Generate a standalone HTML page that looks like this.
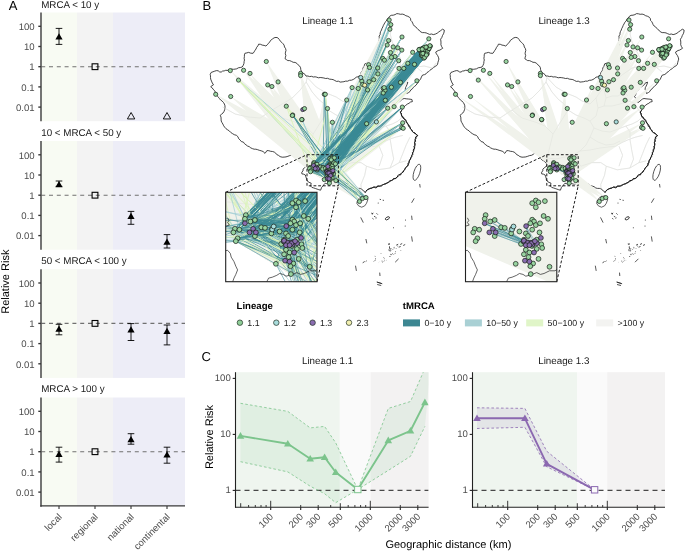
<!DOCTYPE html>
<html><head><meta charset="utf-8"><style>
html,body{margin:0;padding:0;background:#fff;overflow:hidden;}
svg{display:block;font-family:'Liberation Sans',sans-serif;text-rendering:geometricPrecision;will-change:transform;}
</style></head><body>
<svg width="685" height="551" viewBox="0 0 685 551">
<rect width="685" height="551" fill="#fff"/>
<rect x="41.5" y="12.5" width="35.5" height="108.7" fill="#f8fbf3"/>
<rect x="77" y="12.5" width="36" height="108.7" fill="#f3f3f3"/>
<rect x="113" y="12.5" width="36" height="108.7" fill="#ededf7"/>
<rect x="149" y="12.5" width="36" height="108.7" fill="#ededf7"/>
<text x="41.2" y="8.2" font-size="9.8" fill="#1a1a1a">MRCA &lt; 10 y</text>
<line x1="41.5" x2="185" y1="66.70" y2="66.70" stroke="#707070" stroke-width="1.1" stroke-dasharray="4 3.8" stroke-dashoffset="0.3"/>
<line x1="38.3" x2="41" y1="26.30" y2="26.30" stroke="#333" stroke-width="1.35"/>
<text x="34.7" y="30.00" font-size="9.6" fill="#4d4d4d" text-anchor="end">100</text>
<line x1="38.3" x2="41" y1="46.50" y2="46.50" stroke="#333" stroke-width="1.35"/>
<text x="34.7" y="50.20" font-size="9.6" fill="#4d4d4d" text-anchor="end">10</text>
<line x1="38.3" x2="41" y1="66.70" y2="66.70" stroke="#333" stroke-width="1.35"/>
<text x="34.7" y="70.40" font-size="9.6" fill="#4d4d4d" text-anchor="end">1</text>
<line x1="38.3" x2="41" y1="86.90" y2="86.90" stroke="#333" stroke-width="1.35"/>
<text x="34.7" y="90.60" font-size="9.6" fill="#4d4d4d" text-anchor="end">0.1</text>
<line x1="38.3" x2="41" y1="107.10" y2="107.10" stroke="#333" stroke-width="1.35"/>
<text x="34.7" y="110.80" font-size="9.6" fill="#4d4d4d" text-anchor="end">0.01</text>
<line x1="41" x2="41" y1="12.5" y2="121.2" stroke="#3a3a3a" stroke-width="1.4"/>
<rect x="92.1" y="63.80" width="5.8" height="5.8" fill="none" stroke="#000" stroke-width="1.1"/>
<line x1="59" x2="59" y1="28.4" y2="44.4" stroke="#000" stroke-width="0.9"/>
<line x1="55.7" x2="62.3" y1="28.4" y2="28.4" stroke="#000" stroke-width="0.9"/>
<line x1="55.7" x2="62.3" y1="44.4" y2="44.4" stroke="#000" stroke-width="0.9"/>
<polygon points="55.40,39.38 62.60,39.38 59.00,33.14" fill="#000" stroke="none" stroke-width="0"/>
<polygon points="127.40,118.94 134.80,118.94 131.10,112.53" fill="none" stroke="#000" stroke-width="0.9"/>
<polygon points="163.30,118.94 170.70,118.94 167.00,112.53" fill="none" stroke="#000" stroke-width="0.9"/>
<rect x="41.5" y="141.0" width="35.5" height="108.7" fill="#f8fbf3"/>
<rect x="77" y="141.0" width="36" height="108.7" fill="#f3f3f3"/>
<rect x="113" y="141.0" width="36" height="108.7" fill="#ededf7"/>
<rect x="149" y="141.0" width="36" height="108.7" fill="#ededf7"/>
<text x="41.2" y="135.6" font-size="9.8" fill="#1a1a1a">10 &lt; MRCA &lt; 50 y</text>
<line x1="41.5" x2="185" y1="195.20" y2="195.20" stroke="#707070" stroke-width="1.1" stroke-dasharray="4 3.8" stroke-dashoffset="0.3"/>
<line x1="38.3" x2="41" y1="154.80" y2="154.80" stroke="#333" stroke-width="1.35"/>
<text x="34.7" y="158.50" font-size="9.6" fill="#4d4d4d" text-anchor="end">100</text>
<line x1="38.3" x2="41" y1="175.00" y2="175.00" stroke="#333" stroke-width="1.35"/>
<text x="34.7" y="178.70" font-size="9.6" fill="#4d4d4d" text-anchor="end">10</text>
<line x1="38.3" x2="41" y1="195.20" y2="195.20" stroke="#333" stroke-width="1.35"/>
<text x="34.7" y="198.90" font-size="9.6" fill="#4d4d4d" text-anchor="end">1</text>
<line x1="38.3" x2="41" y1="215.40" y2="215.40" stroke="#333" stroke-width="1.35"/>
<text x="34.7" y="219.10" font-size="9.6" fill="#4d4d4d" text-anchor="end">0.1</text>
<line x1="38.3" x2="41" y1="235.60" y2="235.60" stroke="#333" stroke-width="1.35"/>
<text x="34.7" y="239.30" font-size="9.6" fill="#4d4d4d" text-anchor="end">0.01</text>
<line x1="41" x2="41" y1="141.0" y2="249.7" stroke="#3a3a3a" stroke-width="1.4"/>
<rect x="92.1" y="192.30" width="5.8" height="5.8" fill="none" stroke="#000" stroke-width="1.1"/>
<line x1="59" x2="59" y1="181" y2="186.4" stroke="#000" stroke-width="0.9"/>
<line x1="55.7" x2="62.3" y1="181" y2="181" stroke="#000" stroke-width="0.9"/>
<line x1="55.7" x2="62.3" y1="186.4" y2="186.4" stroke="#000" stroke-width="0.9"/>
<polygon points="55.40,187.28 62.60,187.28 59.00,181.04" fill="#000" stroke="none" stroke-width="0"/>
<line x1="131" x2="131" y1="211.4" y2="224.3" stroke="#000" stroke-width="0.9"/>
<line x1="127.7" x2="134.3" y1="211.4" y2="211.4" stroke="#000" stroke-width="0.9"/>
<line x1="127.7" x2="134.3" y1="224.3" y2="224.3" stroke="#000" stroke-width="0.9"/>
<polygon points="127.40,219.08 134.60,219.08 131.00,212.84" fill="#000" stroke="none" stroke-width="0"/>
<line x1="167" x2="167" y1="234.6" y2="248" stroke="#000" stroke-width="0.9"/>
<line x1="163.7" x2="170.3" y1="234.6" y2="234.6" stroke="#000" stroke-width="0.9"/>
<line x1="163.7" x2="170.3" y1="248" y2="248" stroke="#000" stroke-width="0.9"/>
<polygon points="163.40,244.68 170.60,244.68 167.00,238.44" fill="#000" stroke="none" stroke-width="0"/>
<rect x="41.5" y="269.2" width="35.5" height="108.7" fill="#f8fbf3"/>
<rect x="77" y="269.2" width="36" height="108.7" fill="#f3f3f3"/>
<rect x="113" y="269.2" width="36" height="108.7" fill="#ededf7"/>
<rect x="149" y="269.2" width="36" height="108.7" fill="#ededf7"/>
<text x="41.2" y="263.6" font-size="9.8" fill="#1a1a1a">50 &lt; MRCA &lt; 100 y</text>
<line x1="41.5" x2="185" y1="323.40" y2="323.40" stroke="#707070" stroke-width="1.1" stroke-dasharray="4 3.8" stroke-dashoffset="0.3"/>
<line x1="38.3" x2="41" y1="283.00" y2="283.00" stroke="#333" stroke-width="1.35"/>
<text x="34.7" y="286.70" font-size="9.6" fill="#4d4d4d" text-anchor="end">100</text>
<line x1="38.3" x2="41" y1="303.20" y2="303.20" stroke="#333" stroke-width="1.35"/>
<text x="34.7" y="306.90" font-size="9.6" fill="#4d4d4d" text-anchor="end">10</text>
<line x1="38.3" x2="41" y1="323.40" y2="323.40" stroke="#333" stroke-width="1.35"/>
<text x="34.7" y="327.10" font-size="9.6" fill="#4d4d4d" text-anchor="end">1</text>
<line x1="38.3" x2="41" y1="343.60" y2="343.60" stroke="#333" stroke-width="1.35"/>
<text x="34.7" y="347.30" font-size="9.6" fill="#4d4d4d" text-anchor="end">0.1</text>
<line x1="38.3" x2="41" y1="363.80" y2="363.80" stroke="#333" stroke-width="1.35"/>
<text x="34.7" y="367.50" font-size="9.6" fill="#4d4d4d" text-anchor="end">0.01</text>
<line x1="41" x2="41" y1="269.2" y2="377.9" stroke="#3a3a3a" stroke-width="1.4"/>
<rect x="92.1" y="320.50" width="5.8" height="5.8" fill="none" stroke="#000" stroke-width="1.1"/>
<line x1="59" x2="59" y1="324.3" y2="334.8" stroke="#000" stroke-width="0.9"/>
<line x1="55.7" x2="62.3" y1="324.3" y2="324.3" stroke="#000" stroke-width="0.9"/>
<line x1="55.7" x2="62.3" y1="334.8" y2="334.8" stroke="#000" stroke-width="0.9"/>
<polygon points="55.40,331.78 62.60,331.78 59.00,325.54" fill="#000" stroke="none" stroke-width="0"/>
<line x1="131" x2="131" y1="323.6" y2="340.5" stroke="#000" stroke-width="0.9"/>
<line x1="127.7" x2="134.3" y1="323.6" y2="323.6" stroke="#000" stroke-width="0.9"/>
<line x1="127.7" x2="134.3" y1="340.5" y2="340.5" stroke="#000" stroke-width="0.9"/>
<polygon points="127.40,332.58 134.60,332.58 131.00,326.34" fill="#000" stroke="none" stroke-width="0"/>
<line x1="167" x2="167" y1="325" y2="344.9" stroke="#000" stroke-width="0.9"/>
<line x1="163.7" x2="170.3" y1="325" y2="325" stroke="#000" stroke-width="0.9"/>
<line x1="163.7" x2="170.3" y1="344.9" y2="344.9" stroke="#000" stroke-width="0.9"/>
<polygon points="163.40,333.98 170.60,333.98 167.00,327.74" fill="#000" stroke="none" stroke-width="0"/>
<rect x="41.5" y="397.5" width="35.5" height="108.7" fill="#f8fbf3"/>
<rect x="77" y="397.5" width="36" height="108.7" fill="#f3f3f3"/>
<rect x="113" y="397.5" width="36" height="108.7" fill="#ededf7"/>
<rect x="149" y="397.5" width="36" height="108.7" fill="#ededf7"/>
<text x="41.2" y="392.0" font-size="9.8" fill="#1a1a1a">MRCA &gt; 100 y</text>
<line x1="41.5" x2="185" y1="451.70" y2="451.70" stroke="#707070" stroke-width="1.1" stroke-dasharray="4 3.8" stroke-dashoffset="0.3"/>
<line x1="38.3" x2="41" y1="411.30" y2="411.30" stroke="#333" stroke-width="1.35"/>
<text x="34.7" y="415.00" font-size="9.6" fill="#4d4d4d" text-anchor="end">100</text>
<line x1="38.3" x2="41" y1="431.50" y2="431.50" stroke="#333" stroke-width="1.35"/>
<text x="34.7" y="435.20" font-size="9.6" fill="#4d4d4d" text-anchor="end">10</text>
<line x1="38.3" x2="41" y1="451.70" y2="451.70" stroke="#333" stroke-width="1.35"/>
<text x="34.7" y="455.40" font-size="9.6" fill="#4d4d4d" text-anchor="end">1</text>
<line x1="38.3" x2="41" y1="471.90" y2="471.90" stroke="#333" stroke-width="1.35"/>
<text x="34.7" y="475.60" font-size="9.6" fill="#4d4d4d" text-anchor="end">0.1</text>
<line x1="38.3" x2="41" y1="492.10" y2="492.10" stroke="#333" stroke-width="1.35"/>
<text x="34.7" y="495.80" font-size="9.6" fill="#4d4d4d" text-anchor="end">0.01</text>
<line x1="41" x2="41" y1="397.5" y2="506.8" stroke="#3a3a3a" stroke-width="1.4"/>
<rect x="92.1" y="448.80" width="5.8" height="5.8" fill="none" stroke="#000" stroke-width="1.1"/>
<line x1="59" x2="59" y1="447.2" y2="462.1" stroke="#000" stroke-width="0.9"/>
<line x1="55.7" x2="62.3" y1="447.2" y2="447.2" stroke="#000" stroke-width="0.9"/>
<line x1="55.7" x2="62.3" y1="462.1" y2="462.1" stroke="#000" stroke-width="0.9"/>
<polygon points="55.40,456.88 62.60,456.88 59.00,450.64" fill="#000" stroke="none" stroke-width="0"/>
<line x1="131" x2="131" y1="433.7" y2="444.2" stroke="#000" stroke-width="0.9"/>
<line x1="127.7" x2="134.3" y1="433.7" y2="433.7" stroke="#000" stroke-width="0.9"/>
<line x1="127.7" x2="134.3" y1="444.2" y2="444.2" stroke="#000" stroke-width="0.9"/>
<polygon points="127.40,442.28 134.60,442.28 131.00,436.04" fill="#000" stroke="none" stroke-width="0"/>
<line x1="167" x2="167" y1="447.2" y2="463.2" stroke="#000" stroke-width="0.9"/>
<line x1="163.7" x2="170.3" y1="447.2" y2="447.2" stroke="#000" stroke-width="0.9"/>
<line x1="163.7" x2="170.3" y1="463.2" y2="463.2" stroke="#000" stroke-width="0.9"/>
<polygon points="163.40,457.38 170.60,457.38 167.00,451.14" fill="#000" stroke="none" stroke-width="0"/>
<line x1="40.3" x2="185" y1="505.9" y2="505.9" stroke="#3a3a3a" stroke-width="1.4"/>
<line x1="59" x2="59" y1="506" y2="509" stroke="#333" stroke-width="1.1"/>
<line x1="95" x2="95" y1="506" y2="509" stroke="#333" stroke-width="1.1"/>
<line x1="131" x2="131" y1="506" y2="509" stroke="#333" stroke-width="1.1"/>
<line x1="167" x2="167" y1="506" y2="509" stroke="#333" stroke-width="1.1"/>
<text transform="translate(62.5,517.5) rotate(-45)" font-size="9.6" fill="#4d4d4d" text-anchor="end">local</text>
<text transform="translate(98.5,517.5) rotate(-45)" font-size="9.6" fill="#4d4d4d" text-anchor="end">regional</text>
<text transform="translate(134.5,517.5) rotate(-45)" font-size="9.6" fill="#4d4d4d" text-anchor="end">national</text>
<text transform="translate(170.5,517.5) rotate(-45)" font-size="9.6" fill="#4d4d4d" text-anchor="end">continental</text>
<text transform="translate(9.1,281.7) rotate(-90)" font-size="11" fill="#000" text-anchor="middle">Relative Risk</text>
<text x="8.8" y="9.8" font-size="13" fill="#000">A</text>
<rect x="235.5" y="372.2" width="104.30000000000001" height="135.0" fill="#eff5ef"/>
<rect x="339.8" y="372.2" width="30.899999999999977" height="135.0" fill="#fafafa"/>
<rect x="370.7" y="372.2" width="57.900000000000034" height="135.0" fill="#f3f2f2"/>
<clipPath id="clip235"><rect x="235.5" y="372.2" width="193.10000000000002" height="135.0"/></clipPath>
<g clip-path="url(#clip235)">
<polygon points="240.5,403.3 287.8,411.4 310.2,427.9 324.6,426.4 335.7,442.8 357.8,489.5 388.3,408.4 410.5,401.5 432.0,352.0 424.9,426.4 410.5,456.3 388.3,470.4 357.8,489.5 335.7,502.7 324.6,493.7 310.2,486.2 287.8,471.9 240.5,461.7" fill="#6fbf80" fill-opacity="0.11"/>
<line x1="235.5" x2="428.6" y1="490.4" y2="490.4" stroke="#484848" stroke-width="1.2" stroke-dasharray="5 4"/>
<polyline points="240.5,403.3 287.8,411.4 310.2,427.9 324.6,426.4 335.7,442.8 357.8,489.5 388.3,408.4 410.5,401.5 432.0,352.0" fill="none" stroke="#7cc48c" stroke-width="0.8" stroke-dasharray="2.6 2.2"/>
<polyline points="240.5,461.7 287.8,471.9 310.2,486.2 324.6,493.7 335.7,502.7 357.8,489.5 388.3,470.4 410.5,456.3 424.9,426.4" fill="none" stroke="#7cc48c" stroke-width="0.8" stroke-dasharray="2.6 2.2"/>
<polyline points="240.5,435.9 287.8,443.7 310.2,458.7 324.6,457.2 335.7,472.2 357.8,489.5 388.3,440.4 410.5,430.8 424.9,402.4" fill="none" stroke="#7cc48c" stroke-width="1.9" stroke-linejoin="round"/>
<polygon points="236.70,438.69 244.30,438.69 240.50,432.11" fill="#7cc48c" stroke="none" stroke-width="0"/>
<polygon points="284.00,446.49 291.60,446.49 287.80,439.91" fill="#7cc48c" stroke="none" stroke-width="0"/>
<polygon points="306.40,461.49 314.00,461.49 310.20,454.91" fill="#7cc48c" stroke="none" stroke-width="0"/>
<polygon points="320.80,459.99 328.40,459.99 324.60,453.41" fill="#7cc48c" stroke="none" stroke-width="0"/>
<polygon points="331.90,474.99 339.50,474.99 335.70,468.41" fill="#7cc48c" stroke="none" stroke-width="0"/>
<rect x="354.6" y="486.3" width="6.4" height="6.4" fill="#fafafa" stroke="#7cc48c" stroke-width="1"/>
<polygon points="384.50,443.19 392.10,443.19 388.30,436.61" fill="#7cc48c" stroke="none" stroke-width="0"/>
<polygon points="406.70,433.59 414.30,433.59 410.50,427.01" fill="#7cc48c" stroke="none" stroke-width="0"/>
<polygon points="421.10,405.19 428.70,405.19 424.90,398.61" fill="#7cc48c" stroke="none" stroke-width="0"/>
</g>
<line x1="235.5" x2="235.5" y1="372.2" y2="507.7" stroke="#222" stroke-width="1.1"/>
<line x1="235.0" x2="428.6" y1="507.2" y2="507.2" stroke="#222" stroke-width="1.1"/>
<line x1="232.7" x2="235.5" y1="378.4" y2="378.4" stroke="#222" stroke-width="1.1"/>
<text x="230.8" y="381.1" font-size="9.6" fill="#4d4d4d" text-anchor="end">100</text>
<line x1="232.7" x2="235.5" y1="434.4" y2="434.4" stroke="#222" stroke-width="1.1"/>
<text x="230.8" y="437.1" font-size="9.6" fill="#4d4d4d" text-anchor="end">10</text>
<line x1="232.7" x2="235.5" y1="490.4" y2="490.4" stroke="#222" stroke-width="1.1"/>
<text x="230.8" y="493.1" font-size="9.6" fill="#4d4d4d" text-anchor="end">1</text>
<line x1="240.7" x2="240.7" y1="507.2" y2="503.2" stroke="#222" stroke-width="0.9"/>
<line x1="248.6" x2="248.6" y1="507.2" y2="505.0" stroke="#222" stroke-width="0.9"/>
<line x1="255.3" x2="255.3" y1="507.2" y2="505.0" stroke="#222" stroke-width="0.9"/>
<line x1="261.0" x2="261.0" y1="507.2" y2="505.0" stroke="#222" stroke-width="0.9"/>
<line x1="266.1" x2="266.1" y1="507.2" y2="505.0" stroke="#222" stroke-width="0.9"/>
<line x1="300.7" x2="300.7" y1="507.2" y2="505.0" stroke="#222" stroke-width="0.9"/>
<line x1="318.2" x2="318.2" y1="507.2" y2="505.0" stroke="#222" stroke-width="0.9"/>
<line x1="330.7" x2="330.7" y1="507.2" y2="505.0" stroke="#222" stroke-width="0.9"/>
<line x1="340.3" x2="340.3" y1="507.2" y2="503.2" stroke="#222" stroke-width="0.9"/>
<line x1="348.2" x2="348.2" y1="507.2" y2="505.0" stroke="#222" stroke-width="0.9"/>
<line x1="354.9" x2="354.9" y1="507.2" y2="505.0" stroke="#222" stroke-width="0.9"/>
<line x1="360.6" x2="360.6" y1="507.2" y2="505.0" stroke="#222" stroke-width="0.9"/>
<line x1="365.7" x2="365.7" y1="507.2" y2="505.0" stroke="#222" stroke-width="0.9"/>
<line x1="270.7" x2="270.7" y1="507.2" y2="500.8" stroke="#222" stroke-width="0.9"/>
<line x1="370.3" x2="370.3" y1="507.2" y2="500.8" stroke="#222" stroke-width="0.9"/>
<line x1="400.3" x2="400.3" y1="507.2" y2="505.0" stroke="#222" stroke-width="0.9"/>
<line x1="417.8" x2="417.8" y1="507.2" y2="505.0" stroke="#222" stroke-width="0.9"/>
<line x1="270.7" x2="270.7" y1="507.2" y2="510.09999999999997" stroke="#222" stroke-width="1.1"/>
<text transform="translate(273.9,517.2) rotate(-45)" font-size="9.6" fill="#4d4d4d" text-anchor="end">100</text>
<line x1="300.7" x2="300.7" y1="507.2" y2="510.09999999999997" stroke="#222" stroke-width="1.1"/>
<text transform="translate(303.9,517.2) rotate(-45)" font-size="9.6" fill="#4d4d4d" text-anchor="end">200</text>
<line x1="318.2" x2="318.2" y1="507.2" y2="510.09999999999997" stroke="#222" stroke-width="1.1"/>
<text transform="translate(321.4,517.2) rotate(-45)" font-size="9.6" fill="#4d4d4d" text-anchor="end">300</text>
<line x1="340.3" x2="340.3" y1="507.2" y2="510.09999999999997" stroke="#222" stroke-width="1.1"/>
<text transform="translate(343.5,517.2) rotate(-45)" font-size="9.6" fill="#4d4d4d" text-anchor="end">500</text>
<line x1="370.3" x2="370.3" y1="507.2" y2="510.09999999999997" stroke="#222" stroke-width="1.1"/>
<text transform="translate(373.5,517.2) rotate(-45)" font-size="9.6" fill="#4d4d4d" text-anchor="end">1000</text>
<line x1="400.3" x2="400.3" y1="507.2" y2="510.09999999999997" stroke="#222" stroke-width="1.1"/>
<text transform="translate(403.5,517.2) rotate(-45)" font-size="9.6" fill="#4d4d4d" text-anchor="end">2000</text>
<line x1="417.8" x2="417.8" y1="507.2" y2="510.09999999999997" stroke="#222" stroke-width="1.1"/>
<text transform="translate(421.0,517.2) rotate(-45)" font-size="9.6" fill="#4d4d4d" text-anchor="end">3000</text>
<rect x="472.5" y="372.2" width="104.5" height="135.0" fill="#eff5ef"/>
<rect x="577" y="372.2" width="30.200000000000045" height="135.0" fill="#fafafa"/>
<rect x="607.2" y="372.2" width="57.799999999999955" height="135.0" fill="#f3f2f2"/>
<clipPath id="clip472"><rect x="472.5" y="372.2" width="192.5" height="135.0"/></clipPath>
<g clip-path="url(#clip472)">
<polygon points="477.0,407.8 524.9,408.4 546.7,451.2 594.6,489.8 594.6,489.8 546.7,466.8 524.9,427.3 477.0,428.5" fill="#8b68b0" fill-opacity="0.11"/>
<line x1="472.5" x2="665" y1="490.4" y2="490.4" stroke="#484848" stroke-width="1.2" stroke-dasharray="5 4"/>
<polyline points="477.0,407.8 524.9,408.4 546.7,451.2 594.6,489.8" fill="none" stroke="#8b68b0" stroke-width="0.8" stroke-dasharray="2.6 2.2"/>
<polyline points="477.0,428.5 524.9,427.3 546.7,466.8 594.6,489.8" fill="none" stroke="#8b68b0" stroke-width="0.8" stroke-dasharray="2.6 2.2"/>
<polyline points="477.0,418.3 524.9,418.3 546.7,463.8 594.6,489.8" fill="none" stroke="#8b68b0" stroke-width="1.9" stroke-linejoin="round"/>
<polygon points="473.20,421.09 480.80,421.09 477.00,414.51" fill="#8b68b0" stroke="none" stroke-width="0"/>
<polygon points="521.10,421.09 528.70,421.09 524.90,414.51" fill="#8b68b0" stroke="none" stroke-width="0"/>
<polygon points="542.90,466.59 550.50,466.59 546.70,460.01" fill="#8b68b0" stroke="none" stroke-width="0"/>
<rect x="591.4" y="486.6" width="6.4" height="6.4" fill="#fafafa" stroke="#8b68b0" stroke-width="1"/>
</g>
<line x1="472.5" x2="472.5" y1="372.2" y2="507.7" stroke="#222" stroke-width="1.1"/>
<line x1="472.0" x2="665" y1="507.2" y2="507.2" stroke="#222" stroke-width="1.1"/>
<line x1="469.7" x2="472.5" y1="378.4" y2="378.4" stroke="#222" stroke-width="1.1"/>
<text x="467.8" y="381.1" font-size="9.6" fill="#4d4d4d" text-anchor="end">100</text>
<line x1="469.7" x2="472.5" y1="434.4" y2="434.4" stroke="#222" stroke-width="1.1"/>
<text x="467.8" y="437.1" font-size="9.6" fill="#4d4d4d" text-anchor="end">10</text>
<line x1="469.7" x2="472.5" y1="490.4" y2="490.4" stroke="#222" stroke-width="1.1"/>
<text x="467.8" y="493.1" font-size="9.6" fill="#4d4d4d" text-anchor="end">1</text>
<line x1="477.7" x2="477.7" y1="507.2" y2="503.2" stroke="#222" stroke-width="0.9"/>
<line x1="485.6" x2="485.6" y1="507.2" y2="505.0" stroke="#222" stroke-width="0.9"/>
<line x1="492.3" x2="492.3" y1="507.2" y2="505.0" stroke="#222" stroke-width="0.9"/>
<line x1="498.0" x2="498.0" y1="507.2" y2="505.0" stroke="#222" stroke-width="0.9"/>
<line x1="503.1" x2="503.1" y1="507.2" y2="505.0" stroke="#222" stroke-width="0.9"/>
<line x1="537.7" x2="537.7" y1="507.2" y2="505.0" stroke="#222" stroke-width="0.9"/>
<line x1="555.2" x2="555.2" y1="507.2" y2="505.0" stroke="#222" stroke-width="0.9"/>
<line x1="567.7" x2="567.7" y1="507.2" y2="505.0" stroke="#222" stroke-width="0.9"/>
<line x1="577.3" x2="577.3" y1="507.2" y2="503.2" stroke="#222" stroke-width="0.9"/>
<line x1="585.2" x2="585.2" y1="507.2" y2="505.0" stroke="#222" stroke-width="0.9"/>
<line x1="591.9" x2="591.9" y1="507.2" y2="505.0" stroke="#222" stroke-width="0.9"/>
<line x1="597.6" x2="597.6" y1="507.2" y2="505.0" stroke="#222" stroke-width="0.9"/>
<line x1="602.7" x2="602.7" y1="507.2" y2="505.0" stroke="#222" stroke-width="0.9"/>
<line x1="507.7" x2="507.7" y1="507.2" y2="500.8" stroke="#222" stroke-width="0.9"/>
<line x1="607.3" x2="607.3" y1="507.2" y2="500.8" stroke="#222" stroke-width="0.9"/>
<line x1="637.3" x2="637.3" y1="507.2" y2="505.0" stroke="#222" stroke-width="0.9"/>
<line x1="654.8" x2="654.8" y1="507.2" y2="505.0" stroke="#222" stroke-width="0.9"/>
<line x1="507.7" x2="507.7" y1="507.2" y2="510.09999999999997" stroke="#222" stroke-width="1.1"/>
<text transform="translate(510.9,517.2) rotate(-45)" font-size="9.6" fill="#4d4d4d" text-anchor="end">100</text>
<line x1="537.7" x2="537.7" y1="507.2" y2="510.09999999999997" stroke="#222" stroke-width="1.1"/>
<text transform="translate(540.9,517.2) rotate(-45)" font-size="9.6" fill="#4d4d4d" text-anchor="end">200</text>
<line x1="555.2" x2="555.2" y1="507.2" y2="510.09999999999997" stroke="#222" stroke-width="1.1"/>
<text transform="translate(558.4,517.2) rotate(-45)" font-size="9.6" fill="#4d4d4d" text-anchor="end">300</text>
<line x1="577.3" x2="577.3" y1="507.2" y2="510.09999999999997" stroke="#222" stroke-width="1.1"/>
<text transform="translate(580.5,517.2) rotate(-45)" font-size="9.6" fill="#4d4d4d" text-anchor="end">500</text>
<line x1="607.3" x2="607.3" y1="507.2" y2="510.09999999999997" stroke="#222" stroke-width="1.1"/>
<text transform="translate(610.5,517.2) rotate(-45)" font-size="9.6" fill="#4d4d4d" text-anchor="end">1000</text>
<line x1="637.3" x2="637.3" y1="507.2" y2="510.09999999999997" stroke="#222" stroke-width="1.1"/>
<text transform="translate(640.5,517.2) rotate(-45)" font-size="9.6" fill="#4d4d4d" text-anchor="end">2000</text>
<line x1="654.8" x2="654.8" y1="507.2" y2="510.09999999999997" stroke="#222" stroke-width="1.1"/>
<text transform="translate(658.0,517.2) rotate(-45)" font-size="9.6" fill="#4d4d4d" text-anchor="end">3000</text>
<text x="327.6" y="364.2" font-size="9.8" fill="#1a1a1a" text-anchor="middle">Lineage 1.1</text>
<text x="563.8" y="364.2" font-size="9.8" fill="#1a1a1a" text-anchor="middle">Lineage 1.3</text>
<text x="201.5" y="361.4" font-size="13" fill="#000">C</text>
<text transform="translate(213,437) rotate(-90)" font-size="11" fill="#000" text-anchor="middle">Relative Risk</text>
<text x="448.4" y="548" font-size="11" fill="#000" text-anchor="middle">Geographic distance (km)</text>
<text x="202.4" y="10.0" font-size="13" fill="#000">B</text>
<text x="302.2" y="23.8" font-size="9.8" fill="#1a1a1a">Lineage 1.1</text>
<text x="538.4" y="23.8" font-size="9.8" fill="#1a1a1a">Lineage 1.3</text>
<text x="236.6" y="309.4" font-size="9.6" font-weight="bold" fill="#000">Lineage</text>
<circle cx="239.9" cy="322.7" r="2.75" fill="#8fcf98" stroke="#1f2f22" stroke-width="0.7"/>
<text x="247.3" y="325.8" font-size="8.8" fill="#1a1a1a">1.1</text>
<circle cx="276.3" cy="322.7" r="2.75" fill="#a8dcdc" stroke="#1f2f22" stroke-width="0.7"/>
<text x="283.7" y="325.8" font-size="8.8" fill="#1a1a1a">1.2</text>
<circle cx="312.6" cy="322.7" r="2.75" fill="#8a6db0" stroke="#1f2f22" stroke-width="0.7"/>
<text x="320.0" y="325.8" font-size="8.8" fill="#1a1a1a">1.3</text>
<circle cx="349" cy="322.7" r="2.75" fill="#f3f0b0" stroke="#1f2f22" stroke-width="0.7"/>
<text x="356.4" y="325.8" font-size="8.8" fill="#1a1a1a">2.3</text>
<text x="402.8" y="309.4" font-size="9.6" font-weight="bold" fill="#000">tMRCA</text>
<rect x="403" y="319.4" width="17" height="7" fill="#3d8792"/>
<text x="424.4" y="325.8" font-size="8.8" fill="#1a1a1a">0−10 y</text>
<rect x="464.9" y="319.4" width="17" height="7" fill="#a9d0d4"/>
<text x="486.29999999999995" y="325.8" font-size="8.8" fill="#1a1a1a">10−50 y</text>
<rect x="526.2" y="319.4" width="17" height="7" fill="#e0f5c8"/>
<text x="547.6" y="325.8" font-size="8.8" fill="#1a1a1a">50−100 y</text>
<rect x="596.2" y="319.4" width="17" height="7" fill="#f3f3f1"/>
<text x="617.6" y="325.8" font-size="8.8" fill="#1a1a1a">&gt;100 y</text>
<defs><clipPath id="insclip"><rect x="465.5" y="192.3" width="91.3" height="89.4"/></clipPath></defs>
<g transform="translate(-239.8,0)">
<polyline points="615.4,146.3 622.0,142.5 629.9,139.0 636.0,137.0 642.6,135.4" fill="none" stroke="#dcdcdc" stroke-width="0.5"/>
<polyline points="619.0,146.3 622.6,155.3 619.0,166.2" fill="none" stroke="#dcdcdc" stroke-width="0.5"/>
<polyline points="600.8,162.6 606.3,166.2 617.2,169.8 629.9,168.0 639.0,162.6 646.2,160.8" fill="none" stroke="#dcdcdc" stroke-width="0.5"/>
<polyline points="606.3,166.2 604.5,175.3 600.8,184.4 601.0,189.0" fill="none" stroke="#dcdcdc" stroke-width="0.5"/>
<polyline points="629.9,168.0 633.5,159.0 631.7,149.9 629.9,139.0" fill="none" stroke="#dcdcdc" stroke-width="0.5"/>
<polyline points="639.0,162.6 642.6,153.5 646.2,144.4 649.8,137.2" fill="none" stroke="#dcdcdc" stroke-width="0.5"/>
<polyline points="573.0,155.0 580.9,166.2 591.8,162.6 600.8,162.6" fill="none" stroke="#dcdcdc" stroke-width="0.5"/>
<polyline points="580.0,151.0 590.0,150.0 600.0,148.0 608.0,147.0 615.4,146.3" fill="none" stroke="#dcdcdc" stroke-width="0.5"/>
<polyline points="462.5,107.0 475.0,114.0 488.0,117.0 500.0,118.0 512.0,110.0 522.0,104.0 532.0,98.0 540.0,90.0 546.0,82.0 547.0,77.5" fill="none" stroke="#dcdcdc" stroke-width="0.5"/>
<polyline points="512.0,110.0 522.0,118.0 535.0,122.0 545.0,126.0 553.0,134.0" fill="none" stroke="#dcdcdc" stroke-width="0.5"/>
<polyline points="553.0,134.0 551.0,142.0 549.0,150.0 547.0,158.0 546.5,165.0" fill="none" stroke="#dcdcdc" stroke-width="0.5"/>
<polyline points="546.0,82.0 552.0,92.0 558.0,99.0 564.0,104.0 568.0,110.0" fill="none" stroke="#dcdcdc" stroke-width="0.5"/>
<polyline points="553.0,134.0 558.0,126.0 563.0,118.0 568.0,110.0" fill="none" stroke="#dcdcdc" stroke-width="0.5"/>
<polyline points="547.0,77.5 556.0,87.0 566.0,93.0 576.0,97.0 582.0,101.0" fill="none" stroke="#dcdcdc" stroke-width="0.5"/>
<polyline points="568.0,110.0 576.0,115.0 584.0,118.0 590.0,121.0" fill="none" stroke="#dcdcdc" stroke-width="0.5"/>
<polyline points="547.0,158.0 556.0,159.0 565.0,157.0 573.0,155.0 580.0,151.0" fill="none" stroke="#dcdcdc" stroke-width="0.5"/>
<polyline points="580.0,151.0 586.0,145.0 590.0,137.0 594.0,128.0 590.0,121.0" fill="none" stroke="#dcdcdc" stroke-width="0.5"/>
<polyline points="582.0,101.0 590.0,104.0 596.0,98.0 600.0,92.0 606.0,86.0 614.0,82.0 622.0,75.0 632.0,68.0 640.0,66.0 648.0,67.0 656.0,67.0 662.0,72.0" fill="none" stroke="#dcdcdc" stroke-width="0.5"/>
<polyline points="590.0,121.0 596.0,116.0 598.0,108.0 596.0,98.0" fill="none" stroke="#dcdcdc" stroke-width="0.5"/>
<polyline points="598.0,108.0 604.0,106.0 606.0,98.0 604.0,90.0" fill="none" stroke="#dcdcdc" stroke-width="0.5"/>
<polyline points="594.0,128.0 602.0,131.0 610.0,132.0 618.0,129.0 626.0,126.0" fill="none" stroke="#dcdcdc" stroke-width="0.5"/>
<polyline points="590.0,137.0 598.0,142.0 606.0,145.0 614.0,144.0 620.0,141.0" fill="none" stroke="#dcdcdc" stroke-width="0.5"/>
<polyline points="626.0,126.0 632.0,124.0 638.0,121.0 642.0,117.0" fill="none" stroke="#dcdcdc" stroke-width="0.5"/>
<polyline points="604.0,106.0 612.0,106.0 620.0,104.0 628.0,101.0 634.0,103.0 640.0,112.0" fill="none" stroke="#dcdcdc" stroke-width="0.5"/>
<polyline points="626.0,126.0 630.0,132.0 630.0,138.0" fill="none" stroke="#dcdcdc" stroke-width="0.5"/>
<polyline points="640.0,66.0 640.0,58.0 636.0,50.0 632.0,42.0 630.0,34.0 632.0,26.0 629.0,18.0" fill="none" stroke="#dcdcdc" stroke-width="0.5"/>
<polyline points="656.0,67.0 664.0,66.0 672.0,68.0 676.0,63.0" fill="none" stroke="#dcdcdc" stroke-width="0.5"/>
<polyline points="606.0,98.0 612.0,96.0 618.0,96.0 624.0,92.0 628.0,96.0" fill="none" stroke="#dcdcdc" stroke-width="0.5"/>
<polygon points="450.0,74.3 451.0,72.4 452.8,71.8 454.6,71.1 456.4,70.6 458.0,70.8 459.4,71.9 461.0,72.1 462.3,71.1 464.0,70.9 465.5,70.3 467.8,70.4 470.1,69.7 471.6,69.1 473.3,69.3 474.9,69.1 476.5,68.8 478.2,67.8 480.1,67.5 482.0,67.0 483.1,65.2 483.8,63.3 483.9,61.6 484.3,60.0 483.9,58.3 484.2,56.6 484.2,54.9 484.7,53.3 486.6,52.9 488.4,52.4 490.6,53.2 492.9,53.3 493.9,51.9 494.7,50.5 495.8,49.0 496.5,47.3 497.7,45.9 498.4,44.2 500.3,44.3 502.0,45.1 503.9,45.4 505.7,46.0 507.2,44.7 508.4,43.2 509.5,42.0 510.3,40.5 512.1,39.1 513.9,37.8 515.8,37.4 517.6,37.8 519.1,39.5 520.3,41.4 521.7,42.5 522.8,43.7 523.9,45.1 524.3,47.0 525.4,48.6 525.8,50.5 525.3,52.1 525.1,53.8 525.7,55.5 525.2,57.2 524.9,58.8 526.3,59.7 527.6,60.6 529.5,60.6 531.3,61.4 533.0,62.3 534.9,62.4 536.7,63.4 537.9,64.9 539.5,66.1 540.4,67.8 540.6,69.7 541.3,71.5 542.2,72.9 543.7,73.6 545.0,74.6 545.8,76.1 547.7,76.0 549.4,76.6 551.3,76.3 553.1,77.0 554.9,76.8 556.6,77.2 558.2,77.8 560.0,77.5 561.8,77.7 563.7,78.0 565.5,78.5 567.4,78.3 569.2,79.1 571.0,79.3 572.9,79.6 574.6,80.5 576.3,81.4 578.3,81.2 580.0,82.1 581.9,81.9 583.7,81.7 585.5,81.1 587.4,81.2 589.2,80.3 591.2,80.2 593.0,79.5 594.7,78.4 596.0,77.2 597.8,76.8 599.2,75.7 600.5,74.4 600.9,72.5 602.0,71.1 602.7,69.6 602.8,67.9 603.8,66.6 604.7,63.8 606.5,63.2 608.4,62.9 610.0,61.8 611.5,60.6 612.9,59.3 614.3,58.2 615.1,56.6 616.6,55.6 617.1,53.7 618.1,52.0 618.4,50.1 619.4,48.3 620.2,46.5 619.6,44.7 618.9,42.9 618.4,41.0 619.1,39.5 619.1,37.8 618.9,36.1 619.9,34.7 620.0,33.0 620.5,31.4 621.3,30.0 621.8,28.4 622.6,27.0 623.2,25.4 624.0,24.0 624.8,22.3 626.2,21.0 626.9,19.2 628.4,18.1 629.3,16.4 631.0,15.3 633.0,15.2 634.9,14.6 636.6,13.6 638.4,13.8 640.2,14.3 642.1,14.1 643.9,14.6 645.6,15.7 647.6,16.3 649.4,17.3 650.4,18.7 650.5,20.4 651.7,21.6 652.5,23.1 653.1,24.6 654.1,26.0 655.6,26.9 656.7,28.2 657.8,29.5 659.4,30.5 660.4,31.9 662.2,32.6 664.1,32.6 666.0,32.9 667.7,33.7 669.4,34.4 671.3,34.0 673.1,34.6 675.1,34.1 677.0,33.2 678.6,31.9 680.5,30.6 682.3,29.2 684.1,30.1 683.9,32.0 683.3,33.8 682.3,35.5 681.6,37.5 680.4,39.2 680.7,41.0 680.8,42.9 680.7,44.7 681.4,46.5 682.5,48.3 681.1,49.2 679.6,50.1 678.0,50.5 675.5,52.1 676.2,53.9 677.4,55.5 678.2,57.2 678.7,59.1 678.2,60.8 677.7,62.5 677.4,64.2 676.4,65.6 674.9,66.4 673.5,67.4 672.3,68.6 670.8,69.4 669.5,70.5 668.3,71.7 666.8,72.5 665.8,73.9 664.2,74.7 662.4,75.0 661.2,77.0 660.4,79.1 659.2,80.3 658.1,81.6 657.3,83.2 655.8,85.2 654.5,86.3 653.2,87.3 652.2,88.8 650.7,89.8 649.9,91.4 648.5,92.5 646.5,93.5 645.8,91.4 645.1,89.3 645.3,87.7 646.1,86.2 647.0,84.2 647.6,82.2 645.5,82.8 644.3,84.7 642.5,86.0 640.6,87.3 639.0,89.0 637.7,90.9 636.0,92.5 635.7,94.7 634.5,96.5 635.8,98.4 636.5,100.5 637.9,102.6 640.0,101.1 641.2,100.0 642.5,99.0 644.0,98.5 646.0,98.8 648.1,99.0 649.9,99.2 651.7,99.5 652.2,101.6 650.2,102.1 648.8,103.3 647.1,104.1 645.1,105.7 643.0,107.7 641.5,110.3 640.0,112.0 640.9,114.1 641.7,116.3 642.5,117.9 644.0,119.0 645.1,120.4 646.2,121.8 646.8,123.4 648.0,124.5 649.3,125.6 649.8,127.2 650.3,128.8 651.6,130.0 652.3,131.5 653.5,132.6 655.5,134.0 657.5,135.5 655.5,137.0 655.0,139.5 654.4,142.6 654.6,145.5 654.4,148.1 653.8,149.9 653.2,151.7 652.4,153.5 651.7,155.3 651.0,157.1 650.3,159.0 649.3,160.7 648.9,162.6 648.2,164.6 646.8,166.2 645.5,167.9 644.4,169.8 643.2,171.0 642.3,172.4 641.0,173.5 639.6,174.6 638.3,175.8 637.1,177.1 635.8,178.3 634.0,178.7 632.6,179.8 631.1,180.7 629.6,181.6 628.1,182.5 626.5,183.0 625.2,184.1 623.5,184.4 622.0,184.9 620.5,185.7 619.0,186.2 617.3,186.2 615.8,187.1 614.1,186.9 612.6,187.5 610.8,188.0 609.2,188.7 607.5,189.5 605.8,191.0 605.0,192.8 604.5,191.5 603.2,191.0 601.9,189.3 601.0,188.8 599.3,188.4 597.5,188.4 595.8,188.0 594.1,186.7 592.0,186.0 590.2,185.6 588.7,184.3 587.0,183.6 585.5,182.9 584.0,182.3 582.0,182.2 580.0,182.5 578.4,183.1 576.8,183.9 575.0,184.0 573.3,184.1 571.7,183.6 570.0,183.5 568.3,183.7 566.6,183.7 565.0,183.2 563.9,184.4 562.8,185.9 561.5,187.3 560.4,190.2 558.6,189.7 556.9,189.1 555.2,188.5 553.4,187.9 551.7,187.4 550.4,186.1 551.0,183.2 548.1,182.0 546.4,179.7 546.2,178.1 545.5,176.6 545.2,175.0 543.5,174.2 541.7,173.9 541.6,172.2 542.8,170.9 542.8,169.2 544.2,167.9 545.8,166.8 546.9,165.1 546.3,163.3 545.0,162.0 543.7,160.8 542.0,160.0 540.7,158.7 540.0,157.0 538.6,155.6 537.5,154.0 534.9,152.9 533.3,154.3 531.5,155.3 529.5,155.6 527.7,156.3 525.8,156.9 523.9,157.1 522.0,157.2 519.9,156.6 518.2,155.3 516.6,154.6 515.5,153.1 514.1,152.1 512.4,151.5 510.5,151.3 508.6,150.7 506.7,150.6 505.8,152.0 504.8,153.4 502.9,151.5 501.0,150.8 499.1,150.3 497.2,149.6 495.6,149.2 494.0,149.2 492.4,148.7 490.6,147.9 489.1,146.7 487.3,146.0 485.8,144.8 484.3,143.7 483.2,142.1 481.2,141.6 480.0,140.1 478.5,138.7 477.7,136.7 476.2,135.3 474.1,134.7 472.3,133.6 470.5,132.4 469.1,130.9 467.4,129.8 465.7,128.6 464.5,127.2 463.5,125.8 462.7,124.1 461.8,122.6 461.0,121.0 460.9,119.1 460.8,117.1 460.0,115.3 461.4,114.2 462.8,113.0 463.8,111.5 464.5,109.7 464.8,107.8 464.8,105.8 464.2,104.0 463.2,102.4 461.9,101.0 460.4,100.0 459.3,98.6 458.1,97.2 457.0,95.6 456.3,93.8 455.2,92.2 454.3,90.5 452.9,89.3 452.0,87.8 450.5,86.7 451.8,85.7 453.3,84.8 452.1,83.0 451.3,81.1 450.5,79.1 450.3,77.5 450.3,75.9 450.0,74.3" fill="none" stroke="#161616" stroke-width="0.8" stroke-linejoin="miter" stroke-miterlimit="3"/>
<polyline points="641.5,110.3 641.1,111.5 640.0,112.0 641.2,113.2 641.3,114.8 641.7,116.3 643.3,117.2 644.0,119.0 645.7,119.9 646.2,121.8 647.2,123.1 648.0,124.5 648.3,126.3 649.8,127.2 650.2,128.9 651.6,130.0 652.2,131.6 653.5,132.6 654.8,132.9 655.5,134.0 656.5,134.8 657.5,135.5 656.7,136.6 655.5,137.0 655.8,138.4 655.0,139.5 655.4,141.2 654.4,142.6 655.0,144.0 654.6,145.5 653.7,146.7 654.4,148.1 653.4,149.1 653.1,150.3 653.2,151.7 652.2,152.7 652.7,154.3 651.7,155.3 651.6,156.7 650.6,157.7 650.3,159.0 649.4,160.0 648.8,161.2 648.9,162.6 647.6,163.5 648.1,165.4 646.8,166.2 645.8,167.3 644.9,168.4 644.4,169.8 643.5,170.7 643.1,172.0 641.9,172.6 641.0,173.5 640.5,174.9 638.5,174.7 637.6,175.7 637.1,177.1 635.9,177.7 635.0,178.8 633.3,178.5 632.6,179.8 631.4,180.4 630.0,180.6 628.9,181.3 628.1,182.5 626.9,183.0 625.9,183.6 624.6,183.8 623.5,184.4 622.4,185.0 621.5,185.9 620.3,186.1 619.0,186.2 617.6,185.9 616.6,187.5 615.3,187.8 613.8,187.0 612.6,187.5 611.5,188.4 610.0,188.4 608.8,189.0 607.5,189.5 606.8,190.5 605.8,191.0" fill="none" stroke="#111" stroke-width="0.95" stroke-linejoin="miter"/>
<polygon points="597.5,199.8 596.6,203.3 598.4,205.9 601.5,207.2 604.5,205.9 606.3,203.3 607.6,199.8 607.2,196.7 604.5,195.8 601.0,196.3" fill="none" stroke="#222" stroke-width="0.7"/>
<ellipse cx="656.7" cy="172.3" rx="3.0" ry="8.4" transform="rotate(18 656.7 172.3)" fill="none" stroke="#222" stroke-width="0.7"/>
<line x1="600.5" y1="217.4" x2="603.1" y2="222.6" stroke="#222" stroke-width="0.75"/>
<line x1="605.7" y1="239" x2="606.6" y2="243.3" stroke="#222" stroke-width="0.75"/>
<line x1="595.3" y1="265.7" x2="596.2" y2="270.9" stroke="#222" stroke-width="0.75"/>
<line x1="651.4" y1="202.8" x2="654.0" y2="198.4" stroke="#222" stroke-width="0.75"/>
<line x1="651.4" y1="215.7" x2="651.9" y2="220" stroke="#222" stroke-width="0.75"/>
<line x1="651.4" y1="236.4" x2="652.2" y2="241.6" stroke="#222" stroke-width="0.75"/>
<line x1="635.0" y1="262.2" x2="638.4" y2="258.8" stroke="#222" stroke-width="0.75"/>
<line x1="616.9" y1="282.1" x2="622.1" y2="283.8" stroke="#222" stroke-width="0.75"/>
<line x1="659.5" y1="184" x2="660.0" y2="187.5" stroke="#222" stroke-width="0.75"/>
<line x1="611.0" y1="213" x2="612.8" y2="214.2" stroke="#1a1a1a" stroke-width="0.75"/>
<line x1="612.0" y1="214.2" x2="613.0" y2="212.8" stroke="#1a1a1a" stroke-width="0.75"/>
<line x1="613.8" y1="216.2" x2="615.5" y2="217.2" stroke="#1a1a1a" stroke-width="0.75"/>
<line x1="616.3" y1="213.3" x2="617.6" y2="214.6" stroke="#1a1a1a" stroke-width="0.75"/>
<line x1="612.2" y1="218.3" x2="613.4" y2="219.2" stroke="#1a1a1a" stroke-width="0.75"/>
<line x1="615.5" y1="218.5" x2="616.5" y2="217.8" stroke="#1a1a1a" stroke-width="0.75"/>
<line x1="629.0" y1="243" x2="629.0" y2="245" stroke="#1a1a1a" stroke-width="0.75"/>
<line x1="629.3" y1="246.3" x2="629.3" y2="248.3" stroke="#1a1a1a" stroke-width="0.75"/>
<line x1="628.7" y1="249.4" x2="629.2" y2="251.2" stroke="#1a1a1a" stroke-width="0.75"/>
<line x1="627.8" y1="244" x2="628.6" y2="244.4" stroke="#1a1a1a" stroke-width="0.75"/>
<line x1="636.0" y1="245.2" x2="638.0" y2="244.2" stroke="#1a1a1a" stroke-width="0.75"/>
<line x1="640.0" y1="244.5" x2="642.0" y2="243.5" stroke="#1a1a1a" stroke-width="0.75"/>
<line x1="643.0" y1="245.5" x2="645.0" y2="244.5" stroke="#1a1a1a" stroke-width="0.75"/>
<line x1="638.5" y1="247.2" x2="640.5" y2="246.5" stroke="#1a1a1a" stroke-width="0.75"/>
<line x1="602.5" y1="262.8" x2="604.5" y2="261.5" stroke="#1a1a1a" stroke-width="0.75"/>
<line x1="605.5" y1="261.5" x2="606.5" y2="260.8" stroke="#1a1a1a" stroke-width="0.75"/>
<line x1="619.5" y1="272.6" x2="619.8" y2="276" stroke="#1a1a1a" stroke-width="0.75"/>
<line x1="616.5" y1="282" x2="621.5" y2="283.5" stroke="#1a1a1a" stroke-width="0.75"/>
<line x1="617.0" y1="284.5" x2="621.0" y2="285.5" stroke="#1a1a1a" stroke-width="0.75"/>
<line x1="619.5" y1="199.3" x2="620.8" y2="199.6" stroke="#1a1a1a" stroke-width="0.75"/>
<line x1="622.5" y1="200.2" x2="623.8" y2="200.4" stroke="#1a1a1a" stroke-width="0.75"/>
<ellipse cx="627.2" cy="218.3" rx="2.3" ry="1.2" transform="rotate(-30 627.2 218.3)" fill="none" stroke="#1a1a1a" stroke-width="0.8"/>
<line x1="626.1" y1="255.5" x2="626.1" y2="255.5" stroke="#222" stroke-width="0.6"/>
<line x1="630.0" y1="249.1" x2="630.3" y2="249.7" stroke="#222" stroke-width="0.6"/>
<line x1="615.6" y1="259.8" x2="614.7" y2="260.7" stroke="#222" stroke-width="0.6"/>
<circle cx="630.9" cy="248.7" r="0.45" fill="#222"/>
<line x1="625.8" y1="260.3" x2="626.1" y2="260.3" stroke="#222" stroke-width="0.6"/>
<circle cx="632.2" cy="253.8" r="0.45" fill="#222"/>
<line x1="635.2" y1="252.8" x2="635.0" y2="253.7" stroke="#222" stroke-width="0.6"/>
<circle cx="637.6" cy="246.0" r="0.45" fill="#222"/>
<line x1="615.1" y1="256.7" x2="614.7" y2="255.9" stroke="#222" stroke-width="0.6"/>
<line x1="622.6" y1="262.4" x2="621.9" y2="261.9" stroke="#222" stroke-width="0.6"/>
<line x1="636.1" y1="249.0" x2="636.0" y2="248.4" stroke="#222" stroke-width="0.6"/>
<line x1="634.2" y1="248.2" x2="633.5" y2="248.1" stroke="#222" stroke-width="0.6"/>
<circle cx="621.8" cy="261.0" r="0.45" fill="#222"/>
<line x1="624.4" y1="260.5" x2="623.6" y2="261.5" stroke="#222" stroke-width="0.6"/>
<circle cx="635.4" cy="251.6" r="0.45" fill="#222"/>
<line x1="629.9" y1="250.1" x2="629.6" y2="250.0" stroke="#222" stroke-width="0.6"/>
<line x1="618.7" y1="262.2" x2="618.9" y2="262.0" stroke="#222" stroke-width="0.6"/>
<line x1="640.9" y1="250.1" x2="640.4" y2="250.7" stroke="#222" stroke-width="0.6"/>
<circle cx="630.3" cy="251.0" r="0.45" fill="#222"/>
<circle cx="633.9" cy="247.2" r="0.45" fill="#222"/>
<line x1="630.8" y1="250.8" x2="630.2" y2="249.8" stroke="#222" stroke-width="0.6"/>
<circle cx="620.8" cy="253.6" r="0.45" fill="#222"/>
<circle cx="629.6" cy="248.2" r="0.45" fill="#222"/>
<circle cx="629.9" cy="248.4" r="0.45" fill="#222"/>
<line x1="613.5" y1="261.5" x2="614.4" y2="260.5" stroke="#222" stroke-width="0.6"/>
<line x1="631.4" y1="254.2" x2="631.1" y2="255.2" stroke="#222" stroke-width="0.6"/>
<line x1="623.2" y1="257.6" x2="623.9" y2="257.5" stroke="#222" stroke-width="0.6"/>
<circle cx="629.6" cy="256.6" r="0.45" fill="#222"/>
<circle cx="629.9" cy="256.4" r="0.45" fill="#222"/>
<line x1="624.3" y1="258.5" x2="624.1" y2="259.2" stroke="#222" stroke-width="0.6"/>
<circle cx="615.4" cy="258.8" r="0.45" fill="#222"/>
<circle cx="630.4" cy="254.2" r="0.45" fill="#222"/>
<line x1="633.3" y1="254.5" x2="634.1" y2="254.0" stroke="#222" stroke-width="0.6"/>
<circle cx="632.7" cy="249.4" r="0.45" fill="#222"/>
<circle cx="645.3" cy="220" r="0.5" fill="#222"/>
<circle cx="633.3" cy="227.8" r="0.5" fill="#222"/>
<circle cx="618.0" cy="203" r="0.5" fill="#222"/>
<circle cx="645.0" cy="226" r="0.5" fill="#222"/>
<polygon points="506.1,61.5 574.1,157.8 575.2,163.9 575.7,180.6 569.2,183.2 550.3,171.7" fill="#f0f2eb"/>
<polygon points="470.1,70.6 574.1,157.8 575.2,163.9 575.7,180.6 569.2,183.2 550.3,171.7" fill="#f0f2eb"/>
<polygon points="483.4,70.3 574.1,157.8 575.2,163.9 575.7,180.6 569.2,183.2 550.3,171.7" fill="#f0f2eb"/>
<polygon points="489.8,73.4 574.1,157.8 575.2,163.9 575.7,180.6 569.2,183.2 550.3,171.7" fill="#f0f2eb"/>
<polygon points="478.3,80.1 574.1,157.8 575.2,163.9 575.7,180.6 569.2,183.2 550.3,171.7" fill="#f0f2eb"/>
<polygon points="455.5,94.3 574.1,157.8 575.2,163.9 575.7,180.6 569.2,183.2 550.3,171.7" fill="#f0f2eb"/>
<polygon points="470.5,96.5 574.1,157.8 575.2,163.9 575.7,180.6 569.2,183.2 550.3,171.7" fill="#f0f2eb"/>
<polygon points="507.5,84.9 574.1,157.8 575.2,163.9 575.7,180.6 569.2,183.2 550.3,171.7" fill="#f0f2eb"/>
<polygon points="511.7,86.5 574.1,157.8 575.2,163.9 575.7,180.6 569.2,183.2 550.3,171.7" fill="#f0f2eb"/>
<polygon points="517.9,81.9 574.1,157.8 575.2,163.9 575.7,180.6 569.2,183.2 550.3,171.7" fill="#f0f2eb"/>
<polygon points="540.4,73.4 574.1,157.8 575.2,163.9 575.7,180.6 569.2,183.2 550.3,171.7 549.4,168.6" fill="#f0f2eb"/>
<polygon points="540.4,75.6 574.1,157.8 575.2,163.9 575.7,180.6 569.2,183.2 550.3,171.7 549.4,168.6" fill="#f0f2eb"/>
<polygon points="526.1,106.2 574.1,157.8 575.2,163.9 575.7,180.6 569.2,183.2 550.3,171.7" fill="#f0f2eb"/>
<polygon points="532.5,115.0 574.1,157.8 575.2,163.9 575.7,180.6 569.2,183.2 550.3,171.7" fill="#f0f2eb"/>
<polygon points="541.8,119.7 574.1,157.8 575.2,163.9 575.7,180.6 569.2,183.2 550.3,171.7 549.4,168.6" fill="#f0f2eb"/>
<polygon points="544.3,108.6 574.1,157.8 575.2,163.9 575.7,180.6 569.2,183.2 550.3,171.7 549.4,168.6" fill="#f0f2eb"/>
<polygon points="549.4,168.6 564.1,94.3 575.2,163.9 575.7,180.6 569.2,183.2 550.3,171.7" fill="#f0f2eb"/>
<polygon points="549.4,168.6 550.0,167.4 629.0,20.0 575.7,180.6 569.2,183.2 550.3,171.7" fill="#f0f2eb"/>
<polygon points="549.4,168.6 550.0,167.4 630.6,24.6 575.7,180.6 569.2,183.2 550.3,171.7" fill="#f0f2eb"/>
<polygon points="549.4,168.6 550.0,167.4 629.7,29.2 575.7,180.6 569.2,183.2 550.3,171.7" fill="#f0f2eb"/>
<polygon points="549.4,168.6 550.0,167.4 641.8,37.0 575.7,180.6 569.2,183.2 550.3,171.7" fill="#f0f2eb"/>
<polygon points="549.4,168.6 550.0,167.4 553.7,162.6 668.6,38.8 575.7,180.6 569.2,183.2 550.3,171.7" fill="#f0f2eb"/>
<polygon points="549.4,168.6 550.0,167.4 628.4,40.5 575.7,180.6 569.2,183.2 550.3,171.7" fill="#f0f2eb"/>
<polygon points="549.4,168.6 550.0,167.4 627.0,45.0 575.7,180.6 569.2,183.2 550.3,171.7" fill="#f0f2eb"/>
<polygon points="549.4,168.6 550.0,167.4 633.0,46.9 575.7,180.6 569.2,183.2 550.3,171.7" fill="#f0f2eb"/>
<polygon points="549.4,168.6 550.0,167.4 637.6,47.8 575.7,180.6 569.2,183.2 550.3,171.7" fill="#f0f2eb"/>
<polygon points="549.4,168.6 550.0,167.4 641.6,50.1 575.7,180.6 569.2,183.2 550.3,171.7" fill="#f0f2eb"/>
<polygon points="549.4,168.6 550.0,167.4 630.3,52.5 575.7,180.6 569.2,183.2 550.3,171.7" fill="#f0f2eb"/>
<polygon points="549.4,168.6 550.0,167.4 553.7,162.6 652.5,52.3 575.7,180.6 569.2,183.2 550.3,171.7" fill="#f0f2eb"/>
<polygon points="549.4,168.6 550.0,167.4 634.8,56.5 575.7,180.6 569.2,183.2 550.3,171.7" fill="#f0f2eb"/>
<polygon points="549.4,168.6 550.0,167.4 631.2,57.4 575.7,180.6 569.2,183.2 550.3,171.7" fill="#f0f2eb"/>
<polygon points="549.4,168.6 550.0,167.4 622.6,58.4 575.7,180.6 569.2,183.2 550.3,171.7" fill="#f0f2eb"/>
<polygon points="549.4,168.6 550.0,167.4 624.2,60.2 575.7,180.6 569.2,183.2 550.3,171.7" fill="#f0f2eb"/>
<polygon points="549.4,168.6 550.0,167.4 553.7,162.6 638.5,60.7 575.7,180.6 569.2,183.2 550.3,171.7" fill="#f0f2eb"/>
<polygon points="549.4,168.6 550.0,167.4 553.7,162.6 647.6,63.3 575.7,180.6 569.2,183.2 550.3,171.7" fill="#f0f2eb"/>
<polygon points="549.4,168.6 550.0,167.4 553.7,162.6 654.3,64.4 575.7,180.6 569.2,183.2 550.3,171.7" fill="#f0f2eb"/>
<polygon points="549.4,168.6 550.0,167.4 608.4,64.7 575.7,180.6 569.2,183.2 550.3,171.7" fill="#f0f2eb"/>
<polygon points="549.4,168.6 550.0,167.4 609.3,67.5 575.7,180.6 569.2,183.2 550.3,171.7" fill="#f0f2eb"/>
<polygon points="549.4,168.6 550.0,167.4 617.5,68.0 575.7,180.6 569.2,183.2 550.3,171.7" fill="#f0f2eb"/>
<polygon points="549.4,168.6 550.0,167.4 553.7,162.6 638.8,68.4 575.7,180.6 569.2,183.2 550.3,171.7" fill="#f0f2eb"/>
<polygon points="549.4,168.6 550.0,167.4 553.7,162.6 643.6,68.4 575.7,180.6 569.2,183.2 550.3,171.7" fill="#f0f2eb"/>
<polygon points="549.4,168.6 550.0,167.4 617.7,73.9 575.7,180.6 569.2,183.2 550.3,171.7" fill="#f0f2eb"/>
<polygon points="549.4,168.6 550.0,167.4 613.5,79.7 575.7,180.6 569.2,183.2 550.3,171.7" fill="#f0f2eb"/>
<polygon points="549.4,168.6 550.0,167.4 608.9,81.7 575.7,180.6 569.2,183.2 550.3,171.7" fill="#f0f2eb"/>
<polygon points="549.4,168.6 550.0,167.4 601.6,81.2 575.7,180.6 569.2,183.2 550.3,171.7" fill="#f0f2eb"/>
<polygon points="549.4,168.6 550.0,167.4 602.5,84.5 575.7,180.6 569.2,183.2 550.3,171.7" fill="#f0f2eb"/>
<polygon points="549.4,168.6 550.0,167.4 591.9,87.6 575.7,180.6 569.2,183.2 550.3,171.7" fill="#f0f2eb"/>
<polygon points="549.4,168.6 550.0,167.4 598.0,88.5 575.7,180.6 569.2,183.2 550.3,171.7" fill="#f0f2eb"/>
<polygon points="549.4,168.6 550.0,167.4 607.4,89.9 575.7,180.6 569.2,183.2 550.3,171.7" fill="#f0f2eb"/>
<polygon points="549.4,168.6 550.0,167.4 553.7,162.6 656.7,80.8 575.7,180.6 569.2,183.2 550.3,171.7" fill="#f0f2eb"/>
<polygon points="549.4,168.6 550.0,167.4 553.7,162.6 640.3,82.4 575.7,180.6 569.2,183.2 550.3,171.7" fill="#f0f2eb"/>
<polygon points="549.4,168.6 550.0,167.4 553.7,162.6 631.2,87.2 575.7,180.6 569.2,183.2 550.3,171.7" fill="#f0f2eb"/>
<polygon points="549.4,168.6 550.0,167.4 553.7,162.6 623.0,88.5 575.7,180.6 569.2,183.2 550.3,171.7" fill="#f0f2eb"/>
<polygon points="549.4,168.6 550.0,167.4 553.7,162.6 624.8,90.3 575.7,180.6 569.2,183.2 550.3,171.7" fill="#f0f2eb"/>
<polygon points="549.4,168.6 550.0,167.4 553.7,162.6 623.0,93.0 575.7,180.6 569.2,183.2 550.3,171.7" fill="#f0f2eb"/>
<polygon points="549.4,168.6 550.0,167.4 553.7,162.6 623.9,87.6 575.7,180.6 569.2,183.2 550.3,171.7" fill="#f0f2eb"/>
<polygon points="549.4,168.6 565.1,94.3 575.2,163.9 575.7,180.6 569.2,183.2 550.3,171.7" fill="#f0f2eb"/>
<polygon points="549.4,168.6 550.0,167.4 586.5,100.0 575.7,180.6 569.2,183.2 550.3,171.7" fill="#f0f2eb"/>
<polygon points="549.4,168.6 550.0,167.4 553.7,162.6 625.1,100.3 575.7,180.6 569.2,183.2 550.3,171.7" fill="#f0f2eb"/>
<polygon points="549.4,168.6 550.0,167.4 553.7,162.6 633.9,106.7 575.7,180.6 569.2,183.2 550.3,171.7" fill="#f0f2eb"/>
<polygon points="549.4,168.6 550.0,167.4 553.7,162.6 627.5,108.2 575.7,180.6 569.2,183.2 550.3,171.7" fill="#f0f2eb"/>
<polygon points="549.4,168.6 550.0,167.4 553.7,162.6 642.1,107.1 575.7,180.6 569.2,183.2 550.3,171.7" fill="#f0f2eb"/>
<polygon points="549.4,168.6 567.3,108.5 575.2,163.9 575.7,180.6 569.2,183.2 550.3,171.7" fill="#f0f2eb"/>
<polygon points="549.4,168.6 550.0,167.4 572.2,122.3 575.2,163.9 575.7,180.6 569.2,183.2 550.3,171.7" fill="#f0f2eb"/>
<polygon points="549.4,168.6 550.0,167.4 553.7,162.6 606.4,123.7 575.7,180.6 569.2,183.2 550.3,171.7" fill="#f0f2eb"/>
<polygon points="549.4,168.6 550.0,167.4 553.7,162.6 642.5,122.8 575.7,180.6 569.2,183.2 550.3,171.7" fill="#f0f2eb"/>
<polygon points="549.4,168.6 550.0,167.4 553.7,162.6 641.6,127.4 575.7,180.6 569.2,183.2 550.3,171.7" fill="#f0f2eb"/>
<polygon points="549.4,168.6 550.0,167.4 553.7,162.6 643.0,128.3 575.7,180.6 569.2,183.2 550.3,171.7" fill="#f0f2eb"/>
<polygon points="532.2,115.5 574.1,157.8 575.2,163.9 575.7,180.6 569.2,183.2 550.3,171.7" fill="#f0f2eb"/>
<polygon points="541.6,119.5 574.1,157.8 575.2,163.9 575.7,180.6 569.2,183.2 550.3,171.7 549.4,168.6" fill="#f0f2eb"/>
<polygon points="549.4,168.6 550.0,167.4 553.7,162.6 571.0,157.6 574.1,157.8 599.3,201.5 550.3,171.7" fill="#f0f2eb"/>
<polygon points="549.4,168.6 550.0,167.4 553.7,162.6 571.0,157.6 574.1,157.8 602.3,198.5 569.2,183.2 550.3,171.7" fill="#f0f2eb"/>
<polygon points="549.4,168.6 550.0,167.4 553.7,162.6 571.0,157.6 574.1,157.8 605.8,197.6 569.2,183.2 550.3,171.7" fill="#f0f2eb"/>
<polygon points="549.4,168.6 550.0,167.4 553.7,162.6 664.6,54.1 575.7,180.6 569.2,183.2 550.3,171.7" fill="#f0f2eb"/>
<polygon points="549.4,168.6 550.0,167.4 553.7,162.6 667.0,53.9 575.7,180.6 569.2,183.2 550.3,171.7" fill="#f0f2eb"/>
<polygon points="549.4,168.6 550.0,167.4 553.7,162.6 666.4,47.3 575.7,180.6 569.2,183.2 550.3,171.7" fill="#f0f2eb"/>
<polygon points="549.4,168.6 550.0,167.4 553.7,162.6 663.7,58.2 575.7,180.6 569.2,183.2 550.3,171.7" fill="#f0f2eb"/>
<polygon points="549.4,168.6 550.0,167.4 553.7,162.6 662.5,51.0 575.7,180.6 569.2,183.2 550.3,171.7" fill="#f0f2eb"/>
<polygon points="549.4,168.6 550.0,167.4 553.7,162.6 661.2,55.3 575.7,180.6 569.2,183.2 550.3,171.7" fill="#f0f2eb"/>
<polygon points="549.4,168.6 550.0,167.4 553.7,162.6 663.4,54.3 575.7,180.6 569.2,183.2 550.3,171.7" fill="#f0f2eb"/>
<polygon points="549.4,168.6 550.0,167.4 553.7,162.6 667.2,48.1 575.7,180.6 569.2,183.2 550.3,171.7" fill="#f0f2eb"/>
<polygon points="549.4,168.6 550.0,167.4 553.7,162.6 663.2,49.4 575.7,180.6 569.2,183.2 550.3,171.7" fill="#f0f2eb"/>
<polygon points="549.4,168.6 550.0,167.4 553.7,162.6 665.8,50.0 575.7,180.6 569.2,183.2 550.3,171.7" fill="#f0f2eb"/>
<polygon points="549.4,168.6 550.0,167.4 553.7,162.6 667.0,47.1 575.7,180.6 569.2,183.2 550.3,171.7" fill="#f0f2eb"/>
<polygon points="549.4,168.6 550.0,167.4 553.7,162.6 663.6,52.8 575.7,180.6 569.2,183.2 550.3,171.7" fill="#f0f2eb"/>
<polygon points="549.4,168.6 550.0,167.4 553.7,162.6 661.5,48.8 575.7,180.6 569.2,183.2 550.3,171.7" fill="#f0f2eb"/>
<polygon points="549.4,168.6 550.0,167.4 553.7,162.6 663.0,54.5 575.7,180.6 569.2,183.2 550.3,171.7" fill="#f0f2eb"/>
<polygon points="549.4,168.6 550.0,167.4 553.7,162.6 661.9,49.8 575.7,180.6 569.2,183.2 550.3,171.7" fill="#f0f2eb"/>
<polygon points="549.4,168.6 550.0,167.4 553.7,162.6 661.7,49.4 575.7,180.6 569.2,183.2 550.3,171.7" fill="#f0f2eb"/>
<polygon points="549.4,168.6 550.0,167.4 553.7,162.6 667.1,48.7 575.7,180.6 569.2,183.2 550.3,171.7" fill="#f0f2eb"/>
<polygon points="549.4,168.6 550.0,167.4 553.7,162.6 665.4,47.7 575.7,180.6 569.2,183.2 550.3,171.7" fill="#f0f2eb"/>
<polygon points="549.4,168.6 550.0,167.4 553.7,162.6 670.2,46.2 575.7,180.6 569.2,183.2 550.3,171.7" fill="#f0f2eb"/>
<polygon points="549.4,168.6 550.0,167.4 553.7,162.6 660.6,51.5 575.7,180.6 569.2,183.2 550.3,171.7" fill="#f0f2eb"/>
<polygon points="549.4,168.6 550.0,167.4 553.7,162.6 661.9,55.4 575.7,180.6 569.2,183.2 550.3,171.7" fill="#f0f2eb"/>
<polygon points="549.4,168.6 550.0,167.4 553.7,162.6 668.2,49.6 575.7,180.6 569.2,183.2 550.3,171.7" fill="#f0f2eb"/>
<polygon points="549.4,168.6 550.0,167.4 553.7,162.6 667.2,51.1 575.7,180.6 569.2,183.2 550.3,171.7" fill="#f0f2eb"/>
<polygon points="549.4,168.6 550.0,167.4 553.7,162.6 666.5,53.9 575.7,180.6 569.2,183.2 550.3,171.7" fill="#f0f2eb"/>
<polygon points="549.4,168.6 550.0,167.4 553.7,162.6 663.7,48.8 575.7,180.6 569.2,183.2 550.3,171.7" fill="#f0f2eb"/>
<polygon points="549.4,168.6 550.0,167.4 553.7,162.6 662.1,49.1 575.7,180.6 569.2,183.2 550.3,171.7" fill="#f0f2eb"/>
<polygon points="549.4,168.6 550.0,167.4 553.7,162.6 659.1,49.5 575.7,180.6 569.2,183.2 550.3,171.7" fill="#f0f2eb"/>
<polygon points="549.4,168.6 550.0,167.4 553.7,162.6 667.8,48.0 575.7,180.6 569.2,183.2 550.3,171.7" fill="#f0f2eb"/>
<polygon points="549.4,168.6 550.0,167.4 553.7,162.6 659.3,49.8 575.7,180.6 569.2,183.2 550.3,171.7" fill="#f0f2eb"/>
<polygon points="549.4,168.6 550.0,167.4 553.7,162.6 661.7,53.8 575.7,180.6 569.2,183.2 550.3,171.7" fill="#f0f2eb"/>
<polygon points="549.4,168.6 550.0,167.4 553.7,162.6 668.8,48.2 575.7,180.6 569.2,183.2 550.3,171.7" fill="#f0f2eb"/>
<polygon points="549.4,168.6 550.0,167.4 553.7,162.6 662.7,53.4 575.7,180.6 569.2,183.2 550.3,171.7" fill="#f0f2eb"/>
<polygon points="549.4,168.6 550.0,167.4 553.7,162.6 661.5,49.2 575.7,180.6 569.2,183.2 550.3,171.7" fill="#f0f2eb"/>
<polygon points="549.4,168.6 550.0,167.4 553.7,162.6 659.2,49.5 575.7,180.6 569.2,183.2 550.3,171.7" fill="#f0f2eb"/>
<polygon points="549.4,168.6 550.0,167.4 553.7,162.6 664.5,57.4 575.7,180.6 569.2,183.2 550.3,171.7" fill="#f0f2eb"/>
<polygon points="549.4,168.6 550.0,167.4 553.7,162.6 664.0,49.3 575.7,180.6 569.2,183.2 550.3,171.7" fill="#f0f2eb"/>
<polygon points="549.4,168.6 550.0,167.4 553.7,162.6 668.8,48.5 575.7,180.6 569.2,183.2 550.3,171.7" fill="#f0f2eb"/>
<polygon points="549.4,168.6 550.0,167.4 553.7,162.6 669.7,45.7 575.7,180.6 569.2,183.2 550.3,171.7" fill="#f0f2eb"/>
<polygon points="549.4,168.6 550.0,167.4 553.7,162.6 666.1,47.2 575.7,180.6 569.2,183.2 550.3,171.7" fill="#f0f2eb"/>
<polygon points="549.4,168.6 550.0,167.4 553.7,162.6 666.2,55.0 575.7,180.6 569.2,183.2 550.3,171.7" fill="#f0f2eb"/>
<polygon points="549.4,168.6 550.0,167.4 553.7,162.6 658.8,49.7 575.7,180.6 569.2,183.2 550.3,171.7" fill="#f0f2eb"/>
<polygon points="549.4,168.6 550.0,167.4 553.7,162.6 664.0,47.4 575.7,180.6 569.2,183.2 550.3,171.7" fill="#f0f2eb"/>
<polygon points="549.4,168.6 550.0,167.4 553.7,162.6 662.0,49.2 575.7,180.6 569.2,183.2 550.3,171.7" fill="#f0f2eb"/>
<polygon points="549.4,168.6 550.0,167.4 553.7,162.6 665.8,47.1 575.7,180.6 569.2,183.2 550.3,171.7" fill="#f0f2eb"/>
<polygon points="549.4,168.6 550.0,167.4 600.5,77.5 575.7,180.6 569.2,183.2 550.3,171.7" fill="#f0f2eb"/>
<polygon points="549.4,168.6 550.0,167.4 553.7,162.6 616.2,121.9 575.7,180.6 569.2,183.2 550.3,171.7" fill="#f0f2eb"/>
<polygon points="549.4,168.6 550.0,167.4 604.5,85.2 575.7,180.6 569.2,183.2 550.3,171.7" fill="#f0f2eb"/>
<polyline points="615.4,146.3 622.0,142.5 629.9,139.0 636.0,137.0 642.6,135.4" fill="none" stroke="#dfe1db" stroke-width="0.5"/>
<polyline points="619.0,146.3 622.6,155.3 619.0,166.2" fill="none" stroke="#dfe1db" stroke-width="0.5"/>
<polyline points="600.8,162.6 606.3,166.2 617.2,169.8 629.9,168.0 639.0,162.6 646.2,160.8" fill="none" stroke="#dfe1db" stroke-width="0.5"/>
<polyline points="606.3,166.2 604.5,175.3 600.8,184.4 601.0,189.0" fill="none" stroke="#dfe1db" stroke-width="0.5"/>
<polyline points="629.9,168.0 633.5,159.0 631.7,149.9 629.9,139.0" fill="none" stroke="#dfe1db" stroke-width="0.5"/>
<polyline points="639.0,162.6 642.6,153.5 646.2,144.4 649.8,137.2" fill="none" stroke="#dfe1db" stroke-width="0.5"/>
<polyline points="573.0,155.0 580.9,166.2 591.8,162.6 600.8,162.6" fill="none" stroke="#dfe1db" stroke-width="0.5"/>
<polyline points="580.0,151.0 590.0,150.0 600.0,148.0 608.0,147.0 615.4,146.3" fill="none" stroke="#dfe1db" stroke-width="0.5"/>
<polyline points="462.5,107.0 475.0,114.0 488.0,117.0 500.0,118.0 512.0,110.0 522.0,104.0 532.0,98.0 540.0,90.0 546.0,82.0 547.0,77.5" fill="none" stroke="#dfe1db" stroke-width="0.5"/>
<polyline points="512.0,110.0 522.0,118.0 535.0,122.0 545.0,126.0 553.0,134.0" fill="none" stroke="#dfe1db" stroke-width="0.5"/>
<polyline points="553.0,134.0 551.0,142.0 549.0,150.0 547.0,158.0 546.5,165.0" fill="none" stroke="#dfe1db" stroke-width="0.5"/>
<polyline points="546.0,82.0 552.0,92.0 558.0,99.0 564.0,104.0 568.0,110.0" fill="none" stroke="#dfe1db" stroke-width="0.5"/>
<polyline points="553.0,134.0 558.0,126.0 563.0,118.0 568.0,110.0" fill="none" stroke="#dfe1db" stroke-width="0.5"/>
<polyline points="547.0,77.5 556.0,87.0 566.0,93.0 576.0,97.0 582.0,101.0" fill="none" stroke="#dfe1db" stroke-width="0.5"/>
<polyline points="568.0,110.0 576.0,115.0 584.0,118.0 590.0,121.0" fill="none" stroke="#dfe1db" stroke-width="0.5"/>
<polyline points="547.0,158.0 556.0,159.0 565.0,157.0 573.0,155.0 580.0,151.0" fill="none" stroke="#dfe1db" stroke-width="0.5"/>
<polyline points="580.0,151.0 586.0,145.0 590.0,137.0 594.0,128.0 590.0,121.0" fill="none" stroke="#dfe1db" stroke-width="0.5"/>
<polyline points="582.0,101.0 590.0,104.0 596.0,98.0 600.0,92.0 606.0,86.0 614.0,82.0 622.0,75.0 632.0,68.0 640.0,66.0 648.0,67.0 656.0,67.0 662.0,72.0" fill="none" stroke="#dfe1db" stroke-width="0.5"/>
<polyline points="590.0,121.0 596.0,116.0 598.0,108.0 596.0,98.0" fill="none" stroke="#dfe1db" stroke-width="0.5"/>
<polyline points="598.0,108.0 604.0,106.0 606.0,98.0 604.0,90.0" fill="none" stroke="#dfe1db" stroke-width="0.5"/>
<polyline points="594.0,128.0 602.0,131.0 610.0,132.0 618.0,129.0 626.0,126.0" fill="none" stroke="#dfe1db" stroke-width="0.5"/>
<polyline points="590.0,137.0 598.0,142.0 606.0,145.0 614.0,144.0 620.0,141.0" fill="none" stroke="#dfe1db" stroke-width="0.5"/>
<polyline points="626.0,126.0 632.0,124.0 638.0,121.0 642.0,117.0" fill="none" stroke="#dfe1db" stroke-width="0.5"/>
<polyline points="604.0,106.0 612.0,106.0 620.0,104.0 628.0,101.0 634.0,103.0 640.0,112.0" fill="none" stroke="#dfe1db" stroke-width="0.5"/>
<polyline points="626.0,126.0 630.0,132.0 630.0,138.0" fill="none" stroke="#dfe1db" stroke-width="0.5"/>
<polyline points="640.0,66.0 640.0,58.0 636.0,50.0 632.0,42.0 630.0,34.0 632.0,26.0 629.0,18.0" fill="none" stroke="#dfe1db" stroke-width="0.5"/>
<polyline points="656.0,67.0 664.0,66.0 672.0,68.0 676.0,63.0" fill="none" stroke="#dfe1db" stroke-width="0.5"/>
<polyline points="606.0,98.0 612.0,96.0 618.0,96.0 624.0,92.0 628.0,96.0" fill="none" stroke="#dfe1db" stroke-width="0.5"/>
<path d="M571.9 158.2L629.7 29.2M568.5 177.2L637.6 47.8M568.8 175.6L622.6 58.4M572.3 168.6L609.3 67.5M565.9 172.7L608.9 81.7M567.5 174.7L607.4 89.9M571.9 158.2L623.0 88.5M567.5 169.0L633.9 106.7M571.0 159.9L642.5 122.8M571.0 166.1L664.6 54.1M573.7 162.9L663.6 52.8M562.8 167.4L663.7 48.8M571.0 159.9L658.8 49.7M569.7 164.2L604.5 85.2M572.3 168.6L526.1 106.2M550.3 171.7L574.1 157.8M569.4 172.5L571.0 166.1M557.2 168.6L572.3 168.6M571.0 159.9L568.5 173.0M555.3 164.9L575.2 163.9" fill="none" stroke="#dbf3ba" stroke-width="1.0" stroke-opacity="0.95"/>
<path d="M571.9 158.2L564.1 94.3M553.7 162.6L668.6 38.8M556.8 169.9L652.5 52.3M572.3 168.6L608.4 64.7M569.7 173.4L602.5 84.5M568.3 169.9L624.8 90.3M560.3 167.1L625.1 100.3M553.4 163.9L641.6 127.4M571.9 158.2L661.2 55.3M571.9 158.2L661.7 49.4M571.0 157.6L668.8 48.2M574.1 157.8L669.7 45.7M575.2 163.9L478.3 80.1M568.8 175.6L567.2 178.5M553.4 165.5L565.3 168.3M569.1 172.3L568.5 173.0" fill="none" stroke="#a3cfd5" stroke-width="1.0" stroke-opacity="0.9"/>
<path d="M573.7 162.9L564.1 94.3M571.9 158.2L633.0 46.9M569.7 164.2L631.2 57.4M571.3 171.2L617.5 68.0M553.4 163.9L656.7 80.8M573.7 162.9L627.5 108.2M575.2 163.9L572.2 122.3M550.3 171.7L643.0 128.3M568.5 177.2L605.8 197.6M575.2 163.9L564.1 94.3M566.9 171.2L568.3 169.9M556.8 164.3L573.2 174.1M555.3 164.9L571.9 158.2M569.7 167.7L570.4 164.9M557.2 168.6L569.1 172.3M565.9 172.7L568.8 175.6M557.2 168.6L572.9 172.8M553.7 162.6L574.1 157.8M549.4 168.6L567.5 169.0M553.7 162.6L569.1 180.4M553.4 163.9L572.7 170.6" fill="none" stroke="#3a8995" stroke-width="0.9" stroke-opacity="0.8"/>
<path d="M550.0 167.4L664.6 54.1M562.8 167.4L664.6 54.1M556.8 164.3L667.0 53.9M559.0 166.9L666.4 47.3M569.7 167.7L663.7 58.2M571.0 157.6L663.7 58.2M560.3 167.1L662.5 51.0M571.0 159.9L661.2 55.3M571.0 166.1L663.4 54.3M575.2 163.9L663.4 54.3M569.7 164.2L667.2 48.1M569.7 164.2L663.2 49.4M567.5 169.0L665.8 50.0M575.2 163.9L665.8 50.0M569.7 167.7L667.0 47.1M569.7 164.2L663.6 52.8M569.7 158.5L661.5 48.8M562.8 167.4L661.5 48.8M572.4 165.5L663.0 54.5M569.7 164.2L661.9 49.8M569.7 158.5L661.7 49.4M571.9 158.2L667.1 48.7M573.7 162.9L667.1 48.7M569.7 164.2L665.4 47.7M570.4 164.9L670.2 46.2M562.8 167.4L660.6 51.5M562.8 167.4L660.6 51.5M569.7 158.5L661.9 55.4M573.7 162.9L668.2 49.6M569.1 165.5L668.2 49.6M569.7 164.2L667.2 51.1M571.9 158.2L666.5 53.9M574.1 157.8L666.5 53.9M569.7 158.5L663.7 48.8M569.7 164.2L662.1 49.1M573.7 162.9L659.1 49.5M575.2 163.9L659.1 49.5M573.7 162.9L667.8 48.0M569.7 167.7L659.3 49.8M570.4 164.9L661.7 53.8M569.1 165.5L661.7 53.8M573.7 162.9L668.8 48.2M569.7 167.7L662.7 53.4M575.2 163.9L661.5 49.2M573.7 162.9L661.5 49.2M575.2 163.9L659.2 49.5M569.7 164.2L664.5 57.4M569.7 158.5L664.0 49.3M571.9 158.2L664.0 49.3M571.0 157.6L668.8 48.5M569.7 158.5L669.7 45.7M571.9 158.2L666.1 47.2M570.4 164.9L666.2 55.0M569.7 167.7L666.2 55.0M574.1 157.8L658.8 49.7M568.3 169.9L664.0 47.4M571.0 166.1L662.0 49.2M573.7 162.9L662.0 49.2M571.0 166.1L665.8 47.1" fill="none" stroke="#3a8995" stroke-width="1.0" stroke-opacity="0.8"/>
<path d="M567.5 169.0L629.7 29.2M569.7 164.2L637.6 47.8M569.7 173.4L622.6 58.4M562.8 167.4L609.3 67.5M571.0 166.1L608.9 81.7M575.7 180.6L607.4 89.9M569.7 167.7L624.8 90.3M568.3 169.9L633.9 106.7M566.9 171.2L641.6 127.4M570.4 164.9L664.6 54.1M569.7 164.2L661.5 48.8M571.9 158.2L659.1 49.5M575.2 163.9L658.8 49.7M564.1 179.6L604.5 85.2M571.0 157.6L526.1 106.2M550.9 170.7L568.5 173.0M553.4 165.5L567.9 172.1M555.0 168.6L571.0 166.1M556.2 167.4L567.6 166.5M556.8 164.3L569.1 165.5" fill="none" stroke="#dbf3ba" stroke-width="1.0" stroke-opacity="0.95"/>
<path d="M569.7 164.2L629.0 20.0M567.5 169.0L628.4 40.5M571.9 177.9L652.5 52.3M551.5 167.7L609.3 67.5M560.3 167.1L591.9 87.6M571.3 171.2L623.0 93.0M569.7 167.7L625.1 100.3M565.9 172.7L641.6 127.4M574.1 157.8L667.2 48.1M572.3 168.6L667.1 48.7M569.7 158.5L662.7 53.4M571.0 166.1L666.1 47.2M568.5 177.2L478.3 80.1M569.4 172.5L568.5 173.0M571.0 159.9L569.8 172.9M569.1 172.3L568.8 173.1" fill="none" stroke="#a3cfd5" stroke-width="1.0" stroke-opacity="0.9"/>
<path d="M562.8 167.4L564.1 94.3M568.8 175.6L641.6 50.1M570.0 179.5L622.6 58.4M569.7 173.4L638.8 68.4M569.7 158.5L631.2 87.2M575.2 163.9L627.5 108.2M570.4 164.9L572.2 122.3M574.1 157.8L643.0 128.3M565.3 168.3L605.8 197.6M550.0 167.4L571.9 177.9M555.3 164.9L569.4 172.5M555.0 168.6L568.3 169.9M553.4 165.5L571.0 157.6M556.2 167.4L569.1 172.3M556.8 164.3L571.9 177.9M556.8 164.3L569.7 167.7M571.3 171.2L571.9 158.2M553.4 163.9L571.0 166.1M555.0 168.6L573.2 174.1M555.3 164.9L573.7 162.9M550.3 171.7L568.8 178.8" fill="none" stroke="#3a8995" stroke-width="0.9" stroke-opacity="0.8"/>
<path d="M574.1 157.8L664.6 54.1M569.1 165.5L667.0 53.9M569.1 165.5L667.0 53.9M569.7 167.7L666.4 47.3M566.9 171.2L663.7 58.2M562.8 167.4L663.7 58.2M549.4 168.6L662.5 51.0M569.7 158.5L661.2 55.3M549.4 168.6L663.4 54.3M553.7 162.6L663.4 54.3M571.9 158.2L667.2 48.1M569.1 165.5L663.2 49.4M573.7 162.9L665.8 50.0M573.7 162.9L665.8 50.0M562.8 167.4L667.0 47.1M571.0 157.6L663.6 52.8M571.0 159.9L661.5 48.8M571.0 157.6L663.0 54.5M559.0 166.9L663.0 54.5M550.0 167.4L661.9 49.8M573.7 162.9L661.7 49.4M570.4 164.9L667.1 48.7M571.0 166.1L667.1 48.7M571.9 158.2L665.4 47.7M573.7 162.9L670.2 46.2M549.4 168.6L660.6 51.5M551.5 167.7L660.6 51.5M573.7 162.9L661.9 55.4M571.0 157.6L668.2 49.6M569.7 164.2L668.2 49.6M569.7 158.5L667.2 51.1M569.1 165.5L666.5 53.9M551.5 167.7L663.7 48.8M569.7 167.7L663.7 48.8M569.7 164.2L662.1 49.1M571.9 158.2L659.1 49.5M571.0 159.9L659.1 49.5M575.2 163.9L667.8 48.0M573.7 162.9L659.3 49.8M572.4 165.5L661.7 53.8M571.0 159.9L661.7 53.8M562.8 167.4L668.8 48.2M562.8 167.4L662.7 53.4M572.4 165.5L661.5 49.2M574.1 157.8L661.5 49.2M570.4 164.9L659.2 49.5M571.0 166.1L664.5 57.4M569.7 158.5L664.0 49.3M565.3 168.3L664.0 49.3M571.0 157.6L668.8 48.5M575.2 163.9L669.7 45.7M571.0 157.6L666.1 47.2M572.4 165.5L666.2 55.0M560.3 167.1L666.2 55.0M571.0 166.1L658.8 49.7M556.8 164.3L664.0 47.4M556.8 164.3L662.0 49.2M573.7 162.9L662.0 49.2M571.9 158.2L665.8 47.1" fill="none" stroke="#3a8995" stroke-width="1.0" stroke-opacity="0.8"/>
<path d="M575.2 163.9L629.7 29.2M568.3 169.9L637.6 47.8M568.5 177.2L624.2 60.2M556.8 164.3L617.5 68.0M569.7 173.4L601.6 81.2M568.8 175.6L607.4 89.9M569.2 183.2L624.8 90.3M565.3 168.3L633.9 106.7M569.2 183.2L641.6 127.4M569.1 165.5L667.0 53.9M571.0 157.6L663.0 54.5M575.2 163.9L667.8 48.0M569.7 167.7L665.8 47.1M565.3 168.3L478.3 80.1M575.7 180.6L526.1 106.2M550.3 171.7L566.7 171.8M550.0 167.4L574.1 157.8M568.8 178.8L567.9 172.1M556.8 164.3L568.2 172.3M553.4 163.9L569.4 172.5" fill="none" stroke="#dbf3ba" stroke-width="1.0" stroke-opacity="0.95"/>
<path d="M570.4 164.9L629.0 20.0M573.2 174.1L628.4 40.5M575.2 163.9L631.2 57.4M565.3 168.3L638.8 68.4M550.9 170.7L591.9 87.6M568.3 169.9L623.0 93.0M571.9 177.9L633.9 106.7M571.9 158.2L643.0 128.3M571.0 166.1L663.2 49.4M570.4 164.9L665.4 47.7M562.8 167.4L659.2 49.5M559.0 166.9L666.1 47.2M562.5 169.0L541.8 119.7M550.3 171.7L568.5 173.0M555.3 164.9L575.7 180.6M569.7 158.5L569.7 164.2" fill="none" stroke="#a3cfd5" stroke-width="1.0" stroke-opacity="0.9"/>
<path d="M572.9 172.8L629.0 20.0M571.9 158.2L641.6 50.1M573.7 162.9L624.2 60.2M575.7 180.6L617.7 73.9M569.1 165.5L623.0 88.5M566.9 176.3L627.5 108.2M568.8 175.6L606.4 123.7M571.9 158.2L599.3 201.5M566.9 176.3L604.5 85.2M551.5 167.7L571.3 172.4M555.0 168.6L568.8 175.6M550.0 167.4L569.7 173.4M567.2 178.5L567.5 174.7M573.7 162.9L574.1 157.8M553.7 162.6L568.8 175.6M556.2 167.4L573.2 174.1M571.9 177.9L565.3 168.3M551.5 167.7L571.3 171.2M550.9 170.7L569.7 164.2M568.5 173.0L572.7 170.6M550.0 167.4L571.3 171.2" fill="none" stroke="#3a8995" stroke-width="0.9" stroke-opacity="0.8"/>
<path d="M572.4 165.5L664.6 54.1M565.3 168.3L667.0 53.9M562.5 169.0L667.0 53.9M571.0 159.9L666.4 47.3M571.0 157.6L663.7 58.2M571.9 158.2L662.5 51.0M573.7 162.9L662.5 51.0M574.1 157.8L661.2 55.3M571.9 158.2L663.4 54.3M573.7 162.9L667.2 48.1M571.9 158.2L667.2 48.1M572.4 165.5L663.2 49.4M565.3 168.3L665.8 50.0M562.8 167.4L667.0 47.1M569.7 158.5L667.0 47.1M572.4 165.5L663.6 52.8M569.7 158.5L661.5 48.8M573.7 162.9L663.0 54.5M569.1 165.5L663.0 54.5M550.3 171.7L661.9 49.8M569.7 164.2L661.7 49.4M574.1 157.8L667.1 48.7M571.0 166.1L667.1 48.7M559.0 166.9L665.4 47.7M571.9 158.2L670.2 46.2M573.7 162.9L660.6 51.5M556.8 164.3L660.6 51.5M559.0 166.9L661.9 55.4M570.4 164.9L668.2 49.6M569.7 158.5L668.2 49.6M566.9 171.2L667.2 51.1M553.7 162.6L666.5 53.9M575.2 163.9L663.7 48.8M569.1 165.5L663.7 48.8M572.4 165.5L662.1 49.1M572.4 165.5L659.1 49.5M574.1 157.8L667.8 48.0M562.8 167.4L667.8 48.0M568.3 169.9L659.3 49.8M569.7 158.5L661.7 53.8M569.7 158.5L668.8 48.2M573.7 162.9L668.8 48.2M571.0 157.6L662.7 53.4M555.3 164.9L661.5 49.2M569.7 158.5L661.5 49.2M571.0 166.1L659.2 49.5M571.9 158.2L664.5 57.4M569.1 165.5L664.0 49.3M571.0 159.9L664.0 49.3M574.1 157.8L668.8 48.5M569.7 167.7L669.7 45.7M569.7 164.2L666.1 47.2M562.8 167.4L666.2 55.0M550.0 167.4L666.2 55.0M571.0 157.6L658.8 49.7M573.7 162.9L664.0 47.4M570.4 164.9L662.0 49.2M569.1 165.5L662.0 49.2M572.4 165.5L665.8 47.1" fill="none" stroke="#3a8995" stroke-width="1.0" stroke-opacity="0.8"/>
<path d="M550.3 171.7L641.8 37.0M573.7 162.9L630.3 52.5M571.0 166.1L647.6 63.3M574.1 157.8L638.8 68.4M569.7 173.4L602.5 84.5M566.9 176.3L656.7 80.8M575.2 163.9L624.8 90.3M569.7 173.4L633.9 106.7M569.1 165.5L599.3 201.5M569.7 158.5L667.0 53.9M575.2 163.9L661.9 49.8M569.1 165.5L659.3 49.8M565.9 172.7L600.5 77.5M571.9 177.9L478.3 80.1M569.7 167.7L571.0 159.9M571.3 172.4L568.2 172.3M553.7 162.6L567.6 166.5M572.3 168.6L567.5 174.7M550.9 170.7L568.8 173.1M556.8 164.3L568.8 175.6" fill="none" stroke="#dbf3ba" stroke-width="1.0" stroke-opacity="0.95"/>
<path d="M571.0 159.9L630.6 24.6M570.4 164.9L627.0 45.0M568.8 175.6L631.2 57.4M572.9 172.8L643.6 68.4M571.3 174.4L591.9 87.6M553.7 162.6L623.9 87.6M574.1 157.8L627.5 108.2M571.0 157.6L643.0 128.3M575.2 163.9L665.8 50.0M569.7 164.2L665.4 47.7M551.5 167.7L659.2 49.5M562.8 167.4L664.0 47.4M566.9 176.3L541.8 119.7M568.2 172.3L567.5 173.1M570.4 164.9L571.0 166.1M572.4 165.5L569.7 158.5" fill="none" stroke="#a3cfd5" stroke-width="1.0" stroke-opacity="0.9"/>
<path d="M571.3 174.4L630.6 24.6M569.7 164.2L641.6 50.1M571.9 158.2L638.5 60.7M570.0 179.5L613.5 79.7M550.0 167.4L623.9 87.6M564.1 179.6L642.1 107.1M564.1 179.6L642.5 122.8M553.7 162.6L599.3 201.5M570.0 179.5L532.5 115.0M553.4 163.9L570.2 172.0M549.4 168.6L568.2 172.3M550.9 170.7L567.2 178.5M550.0 167.4L573.7 162.9M571.9 177.9L567.5 174.7M569.1 172.3L571.0 166.1M549.4 168.6L570.4 175.6M551.5 167.7L570.7 171.7M549.4 168.6L572.4 165.5M555.0 168.6L573.2 174.1M568.8 178.8L575.2 163.9M569.2 183.2L565.9 172.7" fill="none" stroke="#3a8995" stroke-width="0.9" stroke-opacity="0.8"/>
<path d="M572.3 168.6L664.6 54.1M569.7 164.2L667.0 53.9M575.2 163.9L666.4 47.3M571.0 166.1L666.4 47.3M568.3 169.9L663.7 58.2M575.2 163.9L662.5 51.0M569.1 165.5L662.5 51.0M575.2 163.9L661.2 55.3M569.7 167.7L663.4 54.3M571.0 159.9L667.2 48.1M572.4 165.5L667.2 48.1M567.5 169.0L663.2 49.4M562.8 167.4L665.8 50.0M570.4 164.9L667.0 47.1M571.0 159.9L667.0 47.1M575.2 163.9L663.6 52.8M562.8 167.4L661.5 48.8M569.7 164.2L663.0 54.5M569.7 158.5L663.0 54.5M569.7 164.2L661.9 49.8M570.4 164.9L661.7 49.4M549.4 168.6L667.1 48.7M571.9 158.2L665.4 47.7M571.0 166.1L665.4 47.7M571.0 166.1L670.2 46.2M571.0 159.9L660.6 51.5M568.3 169.9L661.9 55.4M569.1 165.5L661.9 55.4M569.1 165.5L668.2 49.6M571.9 158.2L667.2 51.1M572.4 165.5L667.2 51.1M569.7 158.5L666.5 53.9M571.0 166.1L663.7 48.8M550.0 167.4L662.1 49.1M569.1 165.5L662.1 49.1M572.4 165.5L659.1 49.5M575.2 163.9L667.8 48.0M560.3 167.1L667.8 48.0M574.1 157.8L659.3 49.8M569.7 167.7L661.7 53.8M571.0 157.6L668.8 48.2M571.0 159.9L668.8 48.2M569.7 167.7L662.7 53.4M571.9 158.2L661.5 49.2M562.8 167.4L659.2 49.5M560.3 167.1L659.2 49.5M553.4 163.9L664.5 57.4M569.7 167.7L664.0 49.3M549.4 168.6L664.0 49.3M569.7 158.5L668.8 48.5M553.7 162.6L669.7 45.7M572.3 168.6L666.1 47.2M571.0 159.9L666.2 55.0M574.1 157.8L658.8 49.7M572.4 165.5L658.8 49.7M562.8 167.4L664.0 47.4M571.0 166.1L662.0 49.2M571.0 166.1L662.0 49.2M569.1 165.5L665.8 47.1" fill="none" stroke="#3a8995" stroke-width="1.0" stroke-opacity="0.8"/>
<path d="M568.8 175.6L668.6 38.8M569.7 164.2L630.3 52.5M574.1 157.8L647.6 63.3M562.8 167.4L643.6 68.4M575.7 180.6L602.5 84.5M570.0 179.5L640.3 82.4M550.3 171.7L623.0 93.0M573.7 162.9L567.3 108.5M575.2 163.9L599.3 201.5M574.1 157.8L661.2 55.3M571.0 157.6L661.7 49.4M569.7 158.5L661.5 49.2M575.7 180.6L600.5 77.5M572.4 165.5L478.3 80.1M550.3 171.7L567.2 178.5M569.2 183.2L571.3 172.4M572.4 165.5L571.3 172.4M557.2 168.6L571.0 157.6M549.4 168.6L569.7 158.5M553.4 163.9L572.3 168.6" fill="none" stroke="#dbf3ba" stroke-width="1.0" stroke-opacity="0.95"/>
<path d="M571.0 159.9L630.6 24.6M571.0 166.1L627.0 45.0M573.7 162.9L624.2 60.2M567.5 169.0L643.6 68.4M570.0 179.5L598.0 88.5M571.3 171.2L565.1 94.3M571.9 177.9L642.1 107.1M565.3 168.3L599.3 201.5M573.7 162.9L665.8 50.0M573.7 162.9L665.4 47.7M562.8 167.4L668.8 48.5M571.0 166.1L665.8 47.1M570.4 164.9L564.1 94.3M565.3 168.3L567.2 178.5M557.2 168.6L566.9 171.5" fill="none" stroke="#a3cfd5" stroke-width="1.0" stroke-opacity="0.9"/>
<path d="M570.4 164.9L641.8 37.0M567.5 169.0L630.3 52.5M572.9 172.8L647.6 63.3M572.3 168.6L613.5 79.7M559.0 166.9L586.5 100.0M571.0 166.1L642.1 107.1M568.3 169.9L642.5 122.8M571.9 177.9L602.3 198.5M575.7 180.6L532.5 115.0M557.2 168.6L575.7 180.6M571.3 172.4L567.6 166.5M556.2 167.4L567.5 174.7M574.1 157.8L568.3 169.9M568.3 169.9L568.5 173.0M566.9 176.3L566.7 171.8M553.7 162.6L568.3 169.9M570.7 171.7L565.3 168.3M568.2 172.3L571.0 157.6M567.5 169.0L569.7 164.2M556.2 167.4L574.1 157.8M553.4 163.9L569.2 183.2" fill="none" stroke="#3a8995" stroke-width="0.9" stroke-opacity="0.8"/>
<path d="M569.7 164.2L664.6 54.1M556.8 164.3L667.0 53.9M571.9 158.2L666.4 47.3M575.2 163.9L666.4 47.3M559.0 166.9L663.7 58.2M571.9 158.2L662.5 51.0M565.3 168.3L662.5 51.0M569.7 167.7L661.2 55.3M569.1 165.5L663.4 54.3M569.1 165.5L667.2 48.1M569.7 158.5L667.2 48.1M571.9 158.2L663.2 49.4M560.3 167.1L665.8 50.0M569.7 164.2L667.0 47.1M569.7 167.7L667.0 47.1M569.7 167.7L663.6 52.8M572.4 165.5L661.5 48.8M562.8 167.4L663.0 54.5M569.1 165.5L661.9 49.8M575.2 163.9L661.9 49.8M569.7 167.7L661.7 49.4M569.7 164.2L667.1 48.7M569.7 158.5L665.4 47.7M575.2 163.9L670.2 46.2M562.8 167.4L670.2 46.2M560.3 167.1L660.6 51.5M571.9 158.2L661.9 55.4M569.7 164.2L661.9 55.4M569.7 158.5L668.2 49.6M571.0 166.1L667.2 51.1M569.1 165.5L667.2 51.1M571.0 166.1L666.5 53.9M553.7 162.6L663.7 48.8M571.3 171.2L662.1 49.1M572.4 165.5L662.1 49.1M569.7 158.5L659.1 49.5M553.4 163.9L667.8 48.0M556.8 164.3L659.3 49.8M569.7 167.7L659.3 49.8M569.7 164.2L661.7 53.8M569.7 164.2L668.8 48.2M562.8 167.4L668.8 48.2M556.8 164.3L662.7 53.4M575.2 163.9L661.5 49.2M562.8 167.4L659.2 49.5M569.7 167.7L664.5 57.4M571.0 157.6L664.5 57.4M571.9 158.2L664.0 49.3M562.8 167.4L668.8 48.5M550.9 170.7L668.8 48.5M559.0 166.9L669.7 45.7M571.0 159.9L666.1 47.2M560.3 167.1L666.2 55.0M574.1 157.8L658.8 49.7M569.7 164.2L658.8 49.7M574.1 157.8L664.0 47.4M574.1 157.8L662.0 49.2M556.8 164.3L665.8 47.1M574.1 157.8L665.8 47.1" fill="none" stroke="#3a8995" stroke-width="1.0" stroke-opacity="0.8"/>
<path d="M567.5 174.7L627.0 45.0M571.0 166.1L652.5 52.3M550.0 167.4L654.3 64.4M569.1 180.4L617.7 73.9M569.2 183.2L602.5 84.5M571.3 171.2L640.3 82.4M572.3 168.6L623.9 87.6M551.5 167.7L567.3 108.5M571.0 159.9L602.3 198.5M575.2 163.9L663.4 54.3M575.2 163.9L660.6 51.5M569.7 167.7L659.2 49.5M573.2 174.1L600.5 77.5M568.5 177.2L478.3 80.1M555.0 168.6L575.7 180.6M549.4 168.6L569.1 172.3M556.8 169.9L567.6 166.5M553.4 163.9L566.7 171.8M551.5 167.7L568.8 175.6M571.3 171.2L569.7 158.5" fill="none" stroke="#dbf3ba" stroke-width="1.0" stroke-opacity="0.95"/>
<path d="M572.3 168.6L629.7 29.2M571.9 177.9L633.0 46.9M562.8 167.4L638.5 60.7M571.3 171.2L613.5 79.7M550.0 167.4L656.7 80.8M569.7 167.7L586.5 100.0M571.3 171.2L572.2 122.3M571.0 157.6L605.8 197.6M571.0 166.1L663.6 52.8M553.4 163.9L666.5 53.9M569.1 165.5L668.8 48.5M559.0 166.9L600.5 77.5M569.1 165.5L564.1 94.3M568.5 173.0L570.2 172.0M568.5 177.2L564.1 179.6" fill="none" stroke="#a3cfd5" stroke-width="1.0" stroke-opacity="0.9"/>
<path d="M562.5 169.0L641.8 37.0M562.5 169.0L634.8 56.5M572.3 168.6L654.3 64.4M562.8 167.4L601.6 81.2M564.1 179.6L586.5 100.0M568.3 169.9L642.1 107.1M565.3 168.3L642.5 122.8M565.3 168.3L602.3 198.5M569.7 164.2L532.5 115.0M549.4 168.6L567.2 178.5M553.4 163.9L569.7 173.4M550.3 171.7L570.0 179.5M549.4 168.6L575.7 180.6M556.8 169.9L572.7 170.6M557.2 168.6L571.9 177.9M556.8 169.9L569.7 158.5M570.0 179.5L573.7 162.9M568.8 178.8L571.9 158.2M571.0 166.1L571.3 172.4M555.0 168.6L566.9 171.5M550.0 167.4L570.4 164.9" fill="none" stroke="#3a8995" stroke-width="0.9" stroke-opacity="0.8"/>
<path d="M559.0 166.9L664.6 54.1M573.7 162.9L667.0 53.9M571.9 158.2L666.4 47.3M571.0 159.9L666.4 47.3M569.7 158.5L663.7 58.2M571.9 158.2L662.5 51.0M551.5 167.7L662.5 51.0M573.7 162.9L661.2 55.3M569.7 167.7L663.4 54.3M570.4 164.9L667.2 48.1M565.3 168.3L663.2 49.4M571.0 166.1L663.2 49.4M571.3 171.2L665.8 50.0M562.8 167.4L667.0 47.1M550.9 170.7L663.6 52.8M573.7 162.9L663.6 52.8M574.1 157.8L661.5 48.8M560.3 167.1L663.0 54.5M551.5 167.7L661.9 49.8M550.3 171.7L661.9 49.8M569.7 158.5L661.7 49.4M572.4 165.5L667.1 48.7M571.9 158.2L665.4 47.7M575.2 163.9L670.2 46.2M569.7 158.5L670.2 46.2M574.1 157.8L660.6 51.5M562.8 167.4L661.9 55.4M569.7 158.5L661.9 55.4M562.8 167.4L668.2 49.6M571.0 159.9L667.2 51.1M571.0 166.1L667.2 51.1M569.1 165.5L666.5 53.9M550.3 171.7L663.7 48.8M569.7 158.5L662.1 49.1M571.0 157.6L662.1 49.1M571.0 159.9L659.1 49.5M550.3 171.7L667.8 48.0M562.5 169.0L659.3 49.8M571.0 166.1L659.3 49.8M569.7 158.5L661.7 53.8M569.1 165.5L668.8 48.2M571.0 157.6L662.7 53.4M574.1 157.8L662.7 53.4M571.0 157.6L661.5 49.2M572.4 165.5L659.2 49.5M569.7 167.7L664.5 57.4M553.7 162.6L664.5 57.4M571.0 166.1L664.0 49.3M569.7 158.5L668.8 48.5M571.9 158.2L668.8 48.5M571.9 158.2L669.7 45.7M569.7 158.5L666.1 47.2M562.8 167.4L666.2 55.0M569.7 164.2L658.8 49.7M571.0 166.1L664.0 47.4M562.8 167.4L664.0 47.4M572.3 168.6L662.0 49.2M574.1 157.8L665.8 47.1M571.0 166.1L665.8 47.1" fill="none" stroke="#3a8995" stroke-width="1.0" stroke-opacity="0.8"/>
<path d="M574.1 157.8L633.0 46.9M567.5 169.0L634.8 56.5M571.0 166.1L654.3 64.4M573.7 162.9L617.7 73.9M573.7 162.9L598.0 88.5M569.2 183.2L631.2 87.2M572.3 168.6L565.1 94.3M569.1 165.5L606.4 123.7M560.3 167.1L602.3 198.5M573.7 162.9L663.4 54.3M571.0 166.1L667.2 51.1M556.8 164.3L669.7 45.7M571.3 174.4L616.2 121.9M565.3 168.3L478.3 80.1M553.4 165.5L573.2 174.1M553.4 163.9L570.4 175.6M571.3 174.4L568.5 173.0M553.4 165.5L569.2 183.2M553.7 162.6L573.7 162.9M551.5 167.7L569.7 164.2" fill="none" stroke="#dbf3ba" stroke-width="1.0" stroke-opacity="0.95"/>
<path d="M570.4 164.9L641.8 37.0M572.3 168.6L641.6 50.1M571.0 159.9L638.5 60.7M571.0 166.1L608.9 81.7M555.3 164.9L640.3 82.4M569.1 165.5L625.1 100.3M572.4 165.5L606.4 123.7M562.8 167.4L664.6 54.1M574.1 157.8L661.5 48.8M562.5 169.0L667.8 48.0M570.4 164.9L669.7 45.7M556.8 164.3L616.2 121.9M572.3 168.6L564.1 94.3M553.4 165.5L570.4 164.9M550.0 167.4L571.3 172.4" fill="none" stroke="#a3cfd5" stroke-width="1.0" stroke-opacity="0.9"/>
<path d="M569.1 165.5L628.4 40.5M550.9 170.7L634.8 56.5M570.4 164.9L608.4 64.7M572.3 168.6L601.6 81.2M569.7 173.4L625.1 100.3M572.3 168.6L642.1 107.1M573.7 162.9L641.6 127.4M571.3 174.4L602.3 198.5M571.0 166.1L532.5 115.0M550.9 170.7L569.4 172.5M571.0 166.1L571.9 158.2M550.0 167.4L569.7 164.2M553.4 163.9L567.6 166.5M571.0 166.1L568.8 178.8M569.2 183.2L570.7 171.7M553.7 162.6L569.7 164.2M556.8 164.3L572.7 170.6M569.1 165.5L570.4 175.6M571.3 174.4L569.7 173.4M555.0 168.6L568.5 177.2M555.3 164.9L566.7 171.8" fill="none" stroke="#3a8995" stroke-width="0.9" stroke-opacity="0.8"/>
<path d="M571.0 159.9L664.6 54.1M567.5 169.0L667.0 53.9M569.7 158.5L666.4 47.3M569.7 167.7L666.4 47.3M569.1 165.5L663.7 58.2M573.7 162.9L662.5 51.0M562.8 167.4L661.2 55.3M567.5 169.0L661.2 55.3M574.1 157.8L663.4 54.3M570.4 164.9L667.2 48.1M571.0 159.9L663.2 49.4M571.0 159.9L663.2 49.4M574.1 157.8L665.8 50.0M551.5 167.7L667.0 47.1M562.8 167.4L663.6 52.8M574.1 157.8L663.6 52.8M569.7 164.2L661.5 48.8M569.7 164.2L663.0 54.5M569.7 164.2L661.9 49.8M571.0 166.1L661.7 49.4M569.1 165.5L661.7 49.4M573.7 162.9L667.1 48.7M570.4 164.9L665.4 47.7M569.7 164.2L670.2 46.2M572.3 168.6L670.2 46.2M569.7 164.2L660.6 51.5M559.0 166.9L661.9 55.4M568.3 169.9L661.9 55.4M549.4 168.6L668.2 49.6M571.9 158.2L667.2 51.1M571.0 157.6L666.5 53.9M553.4 163.9L666.5 53.9M551.5 167.7L663.7 48.8M570.4 164.9L662.1 49.1M575.2 163.9L662.1 49.1M569.7 164.2L659.1 49.5M570.4 164.9L667.8 48.0M569.1 165.5L659.3 49.8M569.1 165.5L659.3 49.8M569.7 164.2L661.7 53.8M571.0 166.1L668.8 48.2M571.3 171.2L662.7 53.4M567.5 169.0L662.7 53.4M572.4 165.5L661.5 49.2M569.7 164.2L659.2 49.5M571.0 157.6L664.5 57.4M571.0 159.9L664.5 57.4M549.4 168.6L664.0 49.3M575.2 163.9L668.8 48.5M572.4 165.5L669.7 45.7M571.3 171.2L666.1 47.2M570.4 164.9L666.1 47.2M571.0 159.9L666.2 55.0M572.4 165.5L658.8 49.7M572.4 165.5L664.0 47.4M553.7 162.6L664.0 47.4M551.5 167.7L662.0 49.2M569.1 165.5L665.8 47.1" fill="none" stroke="#3a8995" stroke-width="1.0" stroke-opacity="0.8"/>
<path d="M572.3 168.6L633.0 46.9M553.4 163.9L631.2 57.4M571.0 159.9L608.4 64.7M569.7 158.5L613.5 79.7M574.1 157.8L598.0 88.5M575.2 163.9L623.0 88.5M571.0 159.9L565.1 94.3M569.7 167.7L606.4 123.7M571.0 166.1L605.8 197.6M556.8 169.9L667.0 47.1M569.7 158.5L663.7 48.8M569.1 165.5L666.1 47.2M575.7 180.6L616.2 121.9M550.3 171.7L526.1 106.2M571.3 174.4L566.9 171.2M571.0 166.1L566.9 171.2M555.3 164.9L568.5 173.0M570.4 175.6L570.2 172.0M555.3 164.9L574.1 157.8" fill="none" stroke="#dbf3ba" stroke-width="1.0" stroke-opacity="0.95"/>
<path d="M570.0 179.5L668.6 38.8M569.7 167.7L630.3 52.5M571.0 157.6L647.6 63.3M562.8 167.4L601.6 81.2M569.7 164.2L631.2 87.2M567.5 169.0L625.1 100.3M569.7 173.4L642.5 122.8M569.1 165.5L663.7 58.2M569.7 158.5L661.9 49.8M568.3 169.9L661.7 53.8M550.9 170.7L669.7 45.7M569.2 183.2L604.5 85.2M565.3 168.3L566.9 171.5M556.8 169.9L568.8 173.1M553.7 162.6L569.1 180.4" fill="none" stroke="#a3cfd5" stroke-width="1.0" stroke-opacity="0.9"/>
<path d="M566.9 176.3L628.4 40.5M566.9 176.3L634.8 56.5M565.9 172.7L617.5 68.0M553.4 163.9L607.4 89.9M555.3 164.9L627.5 108.2M569.2 183.2L567.3 108.5M569.1 165.5L643.0 128.3M569.7 164.2L605.8 197.6M567.5 169.0L564.1 94.3M553.4 163.9L571.3 171.2M555.3 164.9L571.3 174.4M553.4 165.5L565.3 168.3M571.3 172.4L571.0 157.6M557.2 168.6L567.2 178.5M572.3 168.6L570.0 179.5M569.1 172.3L568.3 169.9M550.0 167.4L566.9 176.3M553.4 165.5L568.5 177.2M555.0 168.6L565.9 172.7M550.9 170.7L565.9 172.7M571.0 166.1L566.9 171.5" fill="none" stroke="#3a8995" stroke-width="0.9" stroke-opacity="0.8"/>
<path d="M571.0 159.9L664.6 54.1M569.7 164.2L667.0 53.9M569.7 164.2L666.4 47.3M575.2 163.9L663.7 58.2M571.3 171.2L663.7 58.2M571.9 158.2L662.5 51.0M569.7 164.2L661.2 55.3M571.0 157.6L661.2 55.3M559.0 166.9L663.4 54.3M551.5 167.7L667.2 48.1M562.8 167.4L663.2 49.4M565.3 168.3L663.2 49.4M553.7 162.6L665.8 50.0M571.0 166.1L667.0 47.1M573.7 162.9L663.6 52.8M573.7 162.9L661.5 48.8M568.3 169.9L661.5 48.8M550.0 167.4L663.0 54.5M575.2 163.9L661.9 49.8M571.0 159.9L661.7 49.4M570.4 164.9L661.7 49.4M550.0 167.4L667.1 48.7M569.7 158.5L665.4 47.7M571.0 159.9L670.2 46.2M572.4 165.5L670.2 46.2M566.9 171.2L660.6 51.5M574.1 157.8L661.9 55.4M569.7 167.7L668.2 49.6M570.4 164.9L668.2 49.6M571.0 166.1L667.2 51.1M553.7 162.6L666.5 53.9M565.3 168.3L666.5 53.9M556.8 164.3L663.7 48.8M573.7 162.9L662.1 49.1M573.7 162.9L659.1 49.5M569.7 167.7L659.1 49.5M562.8 167.4L667.8 48.0M562.8 167.4L659.3 49.8M556.8 169.9L661.7 53.8M572.4 165.5L661.7 53.8M571.0 159.9L668.8 48.2M568.3 169.9L662.7 53.4M551.5 167.7L662.7 53.4M573.7 162.9L661.5 49.2M550.9 170.7L659.2 49.5M559.0 166.9L664.5 57.4M571.0 157.6L664.5 57.4M569.7 158.5L664.0 49.3M565.3 168.3L668.8 48.5M551.5 167.7L669.7 45.7M570.4 164.9L666.1 47.2M573.7 162.9L666.2 55.0M562.8 167.4L666.2 55.0M574.1 157.8L658.8 49.7M572.4 165.5L664.0 47.4M572.4 165.5L664.0 47.4M574.1 157.8L662.0 49.2M562.8 167.4L665.8 47.1" fill="none" stroke="#3a8995" stroke-width="1.0" stroke-opacity="0.8"/>
<circle cx="542.6" cy="109.6" r="2.1" fill="#8a6db0" stroke="#141c16" stroke-width="0.7"/>
<circle cx="506.1" cy="61.5" r="2.1" fill="#98d4a0" stroke="#141c16" stroke-width="0.7"/>
<circle cx="470.1" cy="70.6" r="2.1" fill="#98d4a0" stroke="#141c16" stroke-width="0.7"/>
<circle cx="483.4" cy="70.3" r="2.1" fill="#98d4a0" stroke="#141c16" stroke-width="0.7"/>
<circle cx="489.8" cy="73.4" r="2.1" fill="#98d4a0" stroke="#141c16" stroke-width="0.7"/>
<circle cx="478.3" cy="80.1" r="2.1" fill="#98d4a0" stroke="#141c16" stroke-width="0.7"/>
<circle cx="455.5" cy="94.3" r="2.1" fill="#98d4a0" stroke="#141c16" stroke-width="0.7"/>
<circle cx="470.5" cy="96.5" r="2.1" fill="#98d4a0" stroke="#141c16" stroke-width="0.7"/>
<circle cx="507.5" cy="84.9" r="2.1" fill="#98d4a0" stroke="#141c16" stroke-width="0.7"/>
<circle cx="511.7" cy="86.5" r="2.1" fill="#98d4a0" stroke="#141c16" stroke-width="0.7"/>
<circle cx="517.9" cy="81.9" r="2.1" fill="#98d4a0" stroke="#141c16" stroke-width="0.7"/>
<circle cx="540.4" cy="73.4" r="2.1" fill="#98d4a0" stroke="#141c16" stroke-width="0.7"/>
<circle cx="540.4" cy="75.6" r="2.1" fill="#98d4a0" stroke="#141c16" stroke-width="0.7"/>
<circle cx="526.1" cy="106.2" r="2.1" fill="#98d4a0" stroke="#141c16" stroke-width="0.7"/>
<circle cx="532.5" cy="115.0" r="2.1" fill="#98d4a0" stroke="#141c16" stroke-width="0.7"/>
<circle cx="541.8" cy="119.7" r="2.1" fill="#98d4a0" stroke="#141c16" stroke-width="0.7"/>
<circle cx="544.3" cy="108.6" r="2.1" fill="#98d4a0" stroke="#141c16" stroke-width="0.7"/>
<circle cx="564.1" cy="94.3" r="2.1" fill="#98d4a0" stroke="#141c16" stroke-width="0.7"/>
<circle cx="629.0" cy="20.0" r="2.1" fill="#98d4a0" stroke="#141c16" stroke-width="0.7"/>
<circle cx="630.6" cy="24.6" r="2.1" fill="#98d4a0" stroke="#141c16" stroke-width="0.7"/>
<circle cx="629.7" cy="29.2" r="2.1" fill="#98d4a0" stroke="#141c16" stroke-width="0.7"/>
<circle cx="641.8" cy="37.0" r="2.1" fill="#98d4a0" stroke="#141c16" stroke-width="0.7"/>
<circle cx="668.6" cy="38.8" r="2.1" fill="#98d4a0" stroke="#141c16" stroke-width="0.7"/>
<circle cx="628.4" cy="40.5" r="2.1" fill="#98d4a0" stroke="#141c16" stroke-width="0.7"/>
<circle cx="627.0" cy="45.0" r="2.1" fill="#98d4a0" stroke="#141c16" stroke-width="0.7"/>
<circle cx="633.0" cy="46.9" r="2.1" fill="#98d4a0" stroke="#141c16" stroke-width="0.7"/>
<circle cx="637.6" cy="47.8" r="2.1" fill="#98d4a0" stroke="#141c16" stroke-width="0.7"/>
<circle cx="641.6" cy="50.1" r="2.1" fill="#98d4a0" stroke="#141c16" stroke-width="0.7"/>
<circle cx="630.3" cy="52.5" r="2.1" fill="#98d4a0" stroke="#141c16" stroke-width="0.7"/>
<circle cx="652.5" cy="52.3" r="2.1" fill="#98d4a0" stroke="#141c16" stroke-width="0.7"/>
<circle cx="634.8" cy="56.5" r="2.1" fill="#98d4a0" stroke="#141c16" stroke-width="0.7"/>
<circle cx="631.2" cy="57.4" r="2.1" fill="#98d4a0" stroke="#141c16" stroke-width="0.7"/>
<circle cx="622.6" cy="58.4" r="2.1" fill="#98d4a0" stroke="#141c16" stroke-width="0.7"/>
<circle cx="624.2" cy="60.2" r="2.1" fill="#98d4a0" stroke="#141c16" stroke-width="0.7"/>
<circle cx="638.5" cy="60.7" r="2.1" fill="#98d4a0" stroke="#141c16" stroke-width="0.7"/>
<circle cx="647.6" cy="63.3" r="2.1" fill="#98d4a0" stroke="#141c16" stroke-width="0.7"/>
<circle cx="654.3" cy="64.4" r="2.1" fill="#98d4a0" stroke="#141c16" stroke-width="0.7"/>
<circle cx="608.4" cy="64.7" r="2.1" fill="#98d4a0" stroke="#141c16" stroke-width="0.7"/>
<circle cx="609.3" cy="67.5" r="2.1" fill="#98d4a0" stroke="#141c16" stroke-width="0.7"/>
<circle cx="617.5" cy="68.0" r="2.1" fill="#98d4a0" stroke="#141c16" stroke-width="0.7"/>
<circle cx="638.8" cy="68.4" r="2.1" fill="#98d4a0" stroke="#141c16" stroke-width="0.7"/>
<circle cx="643.6" cy="68.4" r="2.1" fill="#98d4a0" stroke="#141c16" stroke-width="0.7"/>
<circle cx="617.7" cy="73.9" r="2.1" fill="#98d4a0" stroke="#141c16" stroke-width="0.7"/>
<circle cx="613.5" cy="79.7" r="2.1" fill="#98d4a0" stroke="#141c16" stroke-width="0.7"/>
<circle cx="608.9" cy="81.7" r="2.1" fill="#98d4a0" stroke="#141c16" stroke-width="0.7"/>
<circle cx="601.6" cy="81.2" r="2.1" fill="#98d4a0" stroke="#141c16" stroke-width="0.7"/>
<circle cx="602.5" cy="84.5" r="2.1" fill="#98d4a0" stroke="#141c16" stroke-width="0.7"/>
<circle cx="591.9" cy="87.6" r="2.1" fill="#98d4a0" stroke="#141c16" stroke-width="0.7"/>
<circle cx="598.0" cy="88.5" r="2.1" fill="#98d4a0" stroke="#141c16" stroke-width="0.7"/>
<circle cx="607.4" cy="89.9" r="2.1" fill="#98d4a0" stroke="#141c16" stroke-width="0.7"/>
<circle cx="656.7" cy="80.8" r="2.1" fill="#98d4a0" stroke="#141c16" stroke-width="0.7"/>
<circle cx="640.3" cy="82.4" r="2.1" fill="#98d4a0" stroke="#141c16" stroke-width="0.7"/>
<circle cx="631.2" cy="87.2" r="2.1" fill="#98d4a0" stroke="#141c16" stroke-width="0.7"/>
<circle cx="623.0" cy="88.5" r="2.1" fill="#98d4a0" stroke="#141c16" stroke-width="0.7"/>
<circle cx="624.8" cy="90.3" r="2.1" fill="#98d4a0" stroke="#141c16" stroke-width="0.7"/>
<circle cx="623.0" cy="93.0" r="2.1" fill="#98d4a0" stroke="#141c16" stroke-width="0.7"/>
<circle cx="623.9" cy="87.6" r="2.1" fill="#98d4a0" stroke="#141c16" stroke-width="0.7"/>
<circle cx="565.1" cy="94.3" r="2.1" fill="#98d4a0" stroke="#141c16" stroke-width="0.7"/>
<circle cx="586.5" cy="100.0" r="2.1" fill="#98d4a0" stroke="#141c16" stroke-width="0.7"/>
<circle cx="625.1" cy="100.3" r="2.1" fill="#98d4a0" stroke="#141c16" stroke-width="0.7"/>
<circle cx="633.9" cy="106.7" r="2.1" fill="#98d4a0" stroke="#141c16" stroke-width="0.7"/>
<circle cx="627.5" cy="108.2" r="2.1" fill="#98d4a0" stroke="#141c16" stroke-width="0.7"/>
<circle cx="642.1" cy="107.1" r="2.1" fill="#98d4a0" stroke="#141c16" stroke-width="0.7"/>
<circle cx="567.3" cy="108.5" r="2.1" fill="#98d4a0" stroke="#141c16" stroke-width="0.7"/>
<circle cx="572.2" cy="122.3" r="2.1" fill="#98d4a0" stroke="#141c16" stroke-width="0.7"/>
<circle cx="606.4" cy="123.7" r="2.1" fill="#98d4a0" stroke="#141c16" stroke-width="0.7"/>
<circle cx="642.5" cy="122.8" r="2.1" fill="#98d4a0" stroke="#141c16" stroke-width="0.7"/>
<circle cx="641.6" cy="127.4" r="2.1" fill="#98d4a0" stroke="#141c16" stroke-width="0.7"/>
<circle cx="643.0" cy="128.3" r="2.1" fill="#98d4a0" stroke="#141c16" stroke-width="0.7"/>
<circle cx="532.2" cy="115.5" r="2.1" fill="#98d4a0" stroke="#141c16" stroke-width="0.7"/>
<circle cx="541.6" cy="119.5" r="2.1" fill="#98d4a0" stroke="#141c16" stroke-width="0.7"/>
<circle cx="599.3" cy="201.5" r="2.1" fill="#98d4a0" stroke="#141c16" stroke-width="0.7"/>
<circle cx="602.3" cy="198.5" r="2.1" fill="#98d4a0" stroke="#141c16" stroke-width="0.7"/>
<circle cx="605.8" cy="197.6" r="2.1" fill="#98d4a0" stroke="#141c16" stroke-width="0.7"/>
<circle cx="664.6" cy="54.1" r="2.1" fill="#98d4a0" stroke="#141c16" stroke-width="0.7"/>
<circle cx="667.0" cy="53.9" r="2.1" fill="#98d4a0" stroke="#141c16" stroke-width="0.7"/>
<circle cx="666.4" cy="47.3" r="2.1" fill="#98d4a0" stroke="#141c16" stroke-width="0.7"/>
<circle cx="663.7" cy="58.2" r="2.1" fill="#98d4a0" stroke="#141c16" stroke-width="0.7"/>
<circle cx="662.5" cy="51.0" r="2.1" fill="#98d4a0" stroke="#141c16" stroke-width="0.7"/>
<circle cx="661.2" cy="55.3" r="2.1" fill="#98d4a0" stroke="#141c16" stroke-width="0.7"/>
<circle cx="663.4" cy="54.3" r="2.1" fill="#98d4a0" stroke="#141c16" stroke-width="0.7"/>
<circle cx="667.2" cy="48.1" r="2.1" fill="#98d4a0" stroke="#141c16" stroke-width="0.7"/>
<circle cx="663.2" cy="49.4" r="2.1" fill="#98d4a0" stroke="#141c16" stroke-width="0.7"/>
<circle cx="665.8" cy="50.0" r="2.1" fill="#98d4a0" stroke="#141c16" stroke-width="0.7"/>
<circle cx="667.0" cy="47.1" r="2.1" fill="#98d4a0" stroke="#141c16" stroke-width="0.7"/>
<circle cx="663.6" cy="52.8" r="2.1" fill="#98d4a0" stroke="#141c16" stroke-width="0.7"/>
<circle cx="661.5" cy="48.8" r="2.1" fill="#98d4a0" stroke="#141c16" stroke-width="0.7"/>
<circle cx="663.0" cy="54.5" r="2.1" fill="#98d4a0" stroke="#141c16" stroke-width="0.7"/>
<circle cx="661.9" cy="49.8" r="2.1" fill="#98d4a0" stroke="#141c16" stroke-width="0.7"/>
<circle cx="661.7" cy="49.4" r="2.1" fill="#98d4a0" stroke="#141c16" stroke-width="0.7"/>
<circle cx="667.1" cy="48.7" r="2.1" fill="#98d4a0" stroke="#141c16" stroke-width="0.7"/>
<circle cx="665.4" cy="47.7" r="2.1" fill="#98d4a0" stroke="#141c16" stroke-width="0.7"/>
<circle cx="670.2" cy="46.2" r="2.1" fill="#98d4a0" stroke="#141c16" stroke-width="0.7"/>
<circle cx="660.6" cy="51.5" r="2.1" fill="#98d4a0" stroke="#141c16" stroke-width="0.7"/>
<circle cx="661.9" cy="55.4" r="2.1" fill="#98d4a0" stroke="#141c16" stroke-width="0.7"/>
<circle cx="668.2" cy="49.6" r="2.1" fill="#98d4a0" stroke="#141c16" stroke-width="0.7"/>
<circle cx="667.2" cy="51.1" r="2.1" fill="#98d4a0" stroke="#141c16" stroke-width="0.7"/>
<circle cx="666.5" cy="53.9" r="2.1" fill="#98d4a0" stroke="#141c16" stroke-width="0.7"/>
<circle cx="663.7" cy="48.8" r="2.1" fill="#98d4a0" stroke="#141c16" stroke-width="0.7"/>
<circle cx="662.1" cy="49.1" r="2.1" fill="#98d4a0" stroke="#141c16" stroke-width="0.7"/>
<circle cx="659.1" cy="49.5" r="2.1" fill="#98d4a0" stroke="#141c16" stroke-width="0.7"/>
<circle cx="667.8" cy="48.0" r="2.1" fill="#98d4a0" stroke="#141c16" stroke-width="0.7"/>
<circle cx="659.3" cy="49.8" r="2.1" fill="#98d4a0" stroke="#141c16" stroke-width="0.7"/>
<circle cx="661.7" cy="53.8" r="2.1" fill="#98d4a0" stroke="#141c16" stroke-width="0.7"/>
<circle cx="668.8" cy="48.2" r="2.1" fill="#98d4a0" stroke="#141c16" stroke-width="0.7"/>
<circle cx="662.7" cy="53.4" r="2.1" fill="#98d4a0" stroke="#141c16" stroke-width="0.7"/>
<circle cx="661.5" cy="49.2" r="2.1" fill="#98d4a0" stroke="#141c16" stroke-width="0.7"/>
<circle cx="659.2" cy="49.5" r="2.1" fill="#98d4a0" stroke="#141c16" stroke-width="0.7"/>
<circle cx="664.5" cy="57.4" r="2.1" fill="#98d4a0" stroke="#141c16" stroke-width="0.7"/>
<circle cx="664.0" cy="49.3" r="2.1" fill="#98d4a0" stroke="#141c16" stroke-width="0.7"/>
<circle cx="668.8" cy="48.5" r="2.1" fill="#98d4a0" stroke="#141c16" stroke-width="0.7"/>
<circle cx="669.7" cy="45.7" r="2.1" fill="#98d4a0" stroke="#141c16" stroke-width="0.7"/>
<circle cx="666.1" cy="47.2" r="2.1" fill="#98d4a0" stroke="#141c16" stroke-width="0.7"/>
<circle cx="666.2" cy="55.0" r="2.1" fill="#98d4a0" stroke="#141c16" stroke-width="0.7"/>
<circle cx="658.8" cy="49.7" r="2.1" fill="#98d4a0" stroke="#141c16" stroke-width="0.7"/>
<circle cx="664.0" cy="47.4" r="2.1" fill="#98d4a0" stroke="#141c16" stroke-width="0.7"/>
<circle cx="662.0" cy="49.2" r="2.1" fill="#98d4a0" stroke="#141c16" stroke-width="0.7"/>
<circle cx="665.8" cy="47.1" r="2.1" fill="#98d4a0" stroke="#141c16" stroke-width="0.7"/>
<circle cx="600.5" cy="77.5" r="2.1" fill="#a8dcdc" stroke="#141c16" stroke-width="0.7"/>
<circle cx="616.2" cy="121.9" r="2.1" fill="#a8dcdc" stroke="#141c16" stroke-width="0.7"/>
<circle cx="604.5" cy="85.2" r="2.1" fill="#f3f0b0" stroke="#141c16" stroke-width="0.7"/>
<circle cx="571.0" cy="157.6" r="2.1" fill="#98d4a0" stroke="#141c16" stroke-width="0.7"/>
<circle cx="569.7" cy="158.5" r="2.1" fill="#98d4a0" stroke="#141c16" stroke-width="0.7"/>
<circle cx="571.9" cy="158.2" r="2.1" fill="#98d4a0" stroke="#141c16" stroke-width="0.7"/>
<circle cx="574.1" cy="157.8" r="2.1" fill="#98d4a0" stroke="#141c16" stroke-width="0.7"/>
<circle cx="571.0" cy="159.9" r="2.1" fill="#98d4a0" stroke="#141c16" stroke-width="0.7"/>
<circle cx="553.7" cy="162.6" r="2.1" fill="#98d4a0" stroke="#141c16" stroke-width="0.7"/>
<circle cx="553.4" cy="163.9" r="2.1" fill="#98d4a0" stroke="#141c16" stroke-width="0.7"/>
<circle cx="555.3" cy="164.9" r="2.1" fill="#98d4a0" stroke="#141c16" stroke-width="0.7"/>
<circle cx="556.8" cy="164.3" r="2.1" fill="#98d4a0" stroke="#141c16" stroke-width="0.7"/>
<circle cx="550.0" cy="167.4" r="2.1" fill="#98d4a0" stroke="#141c16" stroke-width="0.7"/>
<circle cx="551.5" cy="167.7" r="2.1" fill="#98d4a0" stroke="#141c16" stroke-width="0.7"/>
<circle cx="549.4" cy="168.6" r="2.1" fill="#98d4a0" stroke="#141c16" stroke-width="0.7"/>
<circle cx="550.9" cy="170.7" r="2.1" fill="#98d4a0" stroke="#141c16" stroke-width="0.7"/>
<circle cx="550.3" cy="171.7" r="2.1" fill="#98d4a0" stroke="#141c16" stroke-width="0.7"/>
<circle cx="559.0" cy="166.9" r="2.1" fill="#98d4a0" stroke="#141c16" stroke-width="0.7"/>
<circle cx="560.3" cy="167.1" r="2.1" fill="#98d4a0" stroke="#141c16" stroke-width="0.7"/>
<circle cx="562.8" cy="167.4" r="2.1" fill="#98d4a0" stroke="#141c16" stroke-width="0.7"/>
<circle cx="562.5" cy="169.0" r="2.1" fill="#98d4a0" stroke="#141c16" stroke-width="0.7"/>
<circle cx="565.3" cy="168.3" r="2.1" fill="#98d4a0" stroke="#141c16" stroke-width="0.7"/>
<circle cx="569.7" cy="164.2" r="2.1" fill="#98d4a0" stroke="#141c16" stroke-width="0.7"/>
<circle cx="570.4" cy="164.9" r="2.1" fill="#98d4a0" stroke="#141c16" stroke-width="0.7"/>
<circle cx="569.1" cy="165.5" r="2.1" fill="#98d4a0" stroke="#141c16" stroke-width="0.7"/>
<circle cx="571.0" cy="166.1" r="2.1" fill="#98d4a0" stroke="#141c16" stroke-width="0.7"/>
<circle cx="572.4" cy="165.5" r="2.1" fill="#98d4a0" stroke="#141c16" stroke-width="0.7"/>
<circle cx="573.7" cy="162.9" r="2.1" fill="#98d4a0" stroke="#141c16" stroke-width="0.7"/>
<circle cx="575.2" cy="163.9" r="2.1" fill="#98d4a0" stroke="#141c16" stroke-width="0.7"/>
<circle cx="569.7" cy="167.7" r="2.1" fill="#98d4a0" stroke="#141c16" stroke-width="0.7"/>
<circle cx="572.3" cy="168.6" r="2.1" fill="#98d4a0" stroke="#141c16" stroke-width="0.7"/>
<circle cx="567.5" cy="169.0" r="2.1" fill="#98d4a0" stroke="#141c16" stroke-width="0.7"/>
<circle cx="571.3" cy="171.2" r="2.1" fill="#98d4a0" stroke="#141c16" stroke-width="0.7"/>
<circle cx="572.9" cy="172.8" r="2.1" fill="#98d4a0" stroke="#141c16" stroke-width="0.7"/>
<circle cx="573.2" cy="174.1" r="2.1" fill="#98d4a0" stroke="#141c16" stroke-width="0.7"/>
<circle cx="567.5" cy="174.7" r="2.1" fill="#98d4a0" stroke="#141c16" stroke-width="0.7"/>
<circle cx="568.8" cy="175.6" r="2.1" fill="#98d4a0" stroke="#141c16" stroke-width="0.7"/>
<circle cx="571.3" cy="174.4" r="2.1" fill="#98d4a0" stroke="#141c16" stroke-width="0.7"/>
<circle cx="566.9" cy="176.3" r="2.1" fill="#98d4a0" stroke="#141c16" stroke-width="0.7"/>
<circle cx="568.5" cy="177.2" r="2.1" fill="#98d4a0" stroke="#141c16" stroke-width="0.7"/>
<circle cx="571.9" cy="177.9" r="2.1" fill="#98d4a0" stroke="#141c16" stroke-width="0.7"/>
<circle cx="570.0" cy="179.5" r="2.1" fill="#98d4a0" stroke="#141c16" stroke-width="0.7"/>
<circle cx="569.1" cy="180.4" r="2.1" fill="#98d4a0" stroke="#141c16" stroke-width="0.7"/>
<circle cx="564.1" cy="179.6" r="2.1" fill="#98d4a0" stroke="#141c16" stroke-width="0.7"/>
<circle cx="575.7" cy="180.6" r="2.1" fill="#98d4a0" stroke="#141c16" stroke-width="0.7"/>
<circle cx="569.2" cy="183.2" r="2.1" fill="#98d4a0" stroke="#141c16" stroke-width="0.7"/>
<circle cx="566.9" cy="171.2" r="2.1" fill="#98d4a0" stroke="#141c16" stroke-width="0.7"/>
<circle cx="556.8" cy="169.9" r="2.1" fill="#98d4a0" stroke="#141c16" stroke-width="0.7"/>
<circle cx="568.3" cy="169.9" r="2.1" fill="#98d4a0" stroke="#141c16" stroke-width="0.7"/>
<circle cx="569.7" cy="173.4" r="2.1" fill="#98d4a0" stroke="#141c16" stroke-width="0.7"/>
<circle cx="565.9" cy="172.7" r="2.1" fill="#98d4a0" stroke="#141c16" stroke-width="0.7"/>
<circle cx="566.7" cy="171.8" r="2.1" fill="#8a6db0" stroke="#141c16" stroke-width="0.7"/>
<circle cx="567.9" cy="172.1" r="2.1" fill="#8a6db0" stroke="#141c16" stroke-width="0.7"/>
<circle cx="569.1" cy="172.3" r="2.1" fill="#8a6db0" stroke="#141c16" stroke-width="0.7"/>
<circle cx="570.2" cy="172.0" r="2.1" fill="#8a6db0" stroke="#141c16" stroke-width="0.7"/>
<circle cx="568.5" cy="173.0" r="2.1" fill="#8a6db0" stroke="#141c16" stroke-width="0.7"/>
<circle cx="569.8" cy="172.9" r="2.1" fill="#8a6db0" stroke="#141c16" stroke-width="0.7"/>
<circle cx="571.3" cy="172.4" r="2.1" fill="#8a6db0" stroke="#141c16" stroke-width="0.7"/>
<circle cx="553.4" cy="165.5" r="2.1" fill="#8a6db0" stroke="#141c16" stroke-width="0.7"/>
<circle cx="556.2" cy="167.4" r="2.1" fill="#8a6db0" stroke="#141c16" stroke-width="0.7"/>
<circle cx="557.2" cy="168.6" r="2.1" fill="#8a6db0" stroke="#141c16" stroke-width="0.7"/>
<circle cx="555.0" cy="168.6" r="2.1" fill="#8a6db0" stroke="#141c16" stroke-width="0.7"/>
<circle cx="567.6" cy="166.5" r="2.1" fill="#8a6db0" stroke="#141c16" stroke-width="0.7"/>
<circle cx="566.9" cy="171.5" r="2.1" fill="#8a6db0" stroke="#141c16" stroke-width="0.7"/>
<circle cx="568.2" cy="172.3" r="2.1" fill="#8a6db0" stroke="#141c16" stroke-width="0.7"/>
<circle cx="569.4" cy="172.5" r="2.1" fill="#8a6db0" stroke="#141c16" stroke-width="0.7"/>
<circle cx="570.7" cy="171.7" r="2.1" fill="#8a6db0" stroke="#141c16" stroke-width="0.7"/>
<circle cx="572.7" cy="170.6" r="2.1" fill="#8a6db0" stroke="#141c16" stroke-width="0.7"/>
<circle cx="567.5" cy="173.1" r="2.1" fill="#8a6db0" stroke="#141c16" stroke-width="0.7"/>
<circle cx="568.8" cy="173.1" r="2.1" fill="#8a6db0" stroke="#141c16" stroke-width="0.7"/>
<circle cx="570.4" cy="175.6" r="2.1" fill="#8a6db0" stroke="#141c16" stroke-width="0.7"/>
<circle cx="567.2" cy="178.5" r="2.1" fill="#8a6db0" stroke="#141c16" stroke-width="0.7"/>
<circle cx="568.8" cy="178.8" r="2.1" fill="#8a6db0" stroke="#141c16" stroke-width="0.7"/>
<rect x="546.8" y="154.7" width="31.4" height="31.1" stroke="#111" stroke-width="0.95" stroke-dasharray="2.8 1.9" fill="none"/>
<line x1="465.5" y1="192.3" x2="546.8" y2="154.7" stroke="#111" stroke-width="0.95" stroke-dasharray="2.8 1.9" fill="none"/>
<line x1="556.8" y1="281.7" x2="578.2" y2="185.8" stroke="#111" stroke-width="0.95" stroke-dasharray="2.8 1.9" fill="none"/>
<rect x="465.5" y="192.3" width="91.3" height="89.4" fill="#fff"/>
<g clip-path="url(#insclip)"><g transform="translate(-1124.399,-252.400) scale(2.9076,2.8746)">
<polygon points="506.1,61.5 574.1,157.8 575.2,163.9 575.7,180.6 569.2,183.2 550.3,171.7" fill="#f0f2eb"/>
<polygon points="470.1,70.6 574.1,157.8 575.2,163.9 575.7,180.6 569.2,183.2 550.3,171.7" fill="#f0f2eb"/>
<polygon points="483.4,70.3 574.1,157.8 575.2,163.9 575.7,180.6 569.2,183.2 550.3,171.7" fill="#f0f2eb"/>
<polygon points="489.8,73.4 574.1,157.8 575.2,163.9 575.7,180.6 569.2,183.2 550.3,171.7" fill="#f0f2eb"/>
<polygon points="478.3,80.1 574.1,157.8 575.2,163.9 575.7,180.6 569.2,183.2 550.3,171.7" fill="#f0f2eb"/>
<polygon points="455.5,94.3 574.1,157.8 575.2,163.9 575.7,180.6 569.2,183.2 550.3,171.7" fill="#f0f2eb"/>
<polygon points="470.5,96.5 574.1,157.8 575.2,163.9 575.7,180.6 569.2,183.2 550.3,171.7" fill="#f0f2eb"/>
<polygon points="507.5,84.9 574.1,157.8 575.2,163.9 575.7,180.6 569.2,183.2 550.3,171.7" fill="#f0f2eb"/>
<polygon points="511.7,86.5 574.1,157.8 575.2,163.9 575.7,180.6 569.2,183.2 550.3,171.7" fill="#f0f2eb"/>
<polygon points="517.9,81.9 574.1,157.8 575.2,163.9 575.7,180.6 569.2,183.2 550.3,171.7" fill="#f0f2eb"/>
<polygon points="540.4,73.4 574.1,157.8 575.2,163.9 575.7,180.6 569.2,183.2 550.3,171.7 549.4,168.6" fill="#f0f2eb"/>
<polygon points="540.4,75.6 574.1,157.8 575.2,163.9 575.7,180.6 569.2,183.2 550.3,171.7 549.4,168.6" fill="#f0f2eb"/>
<polygon points="526.1,106.2 574.1,157.8 575.2,163.9 575.7,180.6 569.2,183.2 550.3,171.7" fill="#f0f2eb"/>
<polygon points="532.5,115.0 574.1,157.8 575.2,163.9 575.7,180.6 569.2,183.2 550.3,171.7" fill="#f0f2eb"/>
<polygon points="541.8,119.7 574.1,157.8 575.2,163.9 575.7,180.6 569.2,183.2 550.3,171.7 549.4,168.6" fill="#f0f2eb"/>
<polygon points="544.3,108.6 574.1,157.8 575.2,163.9 575.7,180.6 569.2,183.2 550.3,171.7 549.4,168.6" fill="#f0f2eb"/>
<polygon points="549.4,168.6 564.1,94.3 575.2,163.9 575.7,180.6 569.2,183.2 550.3,171.7" fill="#f0f2eb"/>
<polygon points="549.4,168.6 550.0,167.4 629.0,20.0 575.7,180.6 569.2,183.2 550.3,171.7" fill="#f0f2eb"/>
<polygon points="549.4,168.6 550.0,167.4 630.6,24.6 575.7,180.6 569.2,183.2 550.3,171.7" fill="#f0f2eb"/>
<polygon points="549.4,168.6 550.0,167.4 629.7,29.2 575.7,180.6 569.2,183.2 550.3,171.7" fill="#f0f2eb"/>
<polygon points="549.4,168.6 550.0,167.4 641.8,37.0 575.7,180.6 569.2,183.2 550.3,171.7" fill="#f0f2eb"/>
<polygon points="549.4,168.6 550.0,167.4 553.7,162.6 668.6,38.8 575.7,180.6 569.2,183.2 550.3,171.7" fill="#f0f2eb"/>
<polygon points="549.4,168.6 550.0,167.4 628.4,40.5 575.7,180.6 569.2,183.2 550.3,171.7" fill="#f0f2eb"/>
<polygon points="549.4,168.6 550.0,167.4 627.0,45.0 575.7,180.6 569.2,183.2 550.3,171.7" fill="#f0f2eb"/>
<polygon points="549.4,168.6 550.0,167.4 633.0,46.9 575.7,180.6 569.2,183.2 550.3,171.7" fill="#f0f2eb"/>
<polygon points="549.4,168.6 550.0,167.4 637.6,47.8 575.7,180.6 569.2,183.2 550.3,171.7" fill="#f0f2eb"/>
<polygon points="549.4,168.6 550.0,167.4 641.6,50.1 575.7,180.6 569.2,183.2 550.3,171.7" fill="#f0f2eb"/>
<polygon points="549.4,168.6 550.0,167.4 630.3,52.5 575.7,180.6 569.2,183.2 550.3,171.7" fill="#f0f2eb"/>
<polygon points="549.4,168.6 550.0,167.4 553.7,162.6 652.5,52.3 575.7,180.6 569.2,183.2 550.3,171.7" fill="#f0f2eb"/>
<polygon points="549.4,168.6 550.0,167.4 634.8,56.5 575.7,180.6 569.2,183.2 550.3,171.7" fill="#f0f2eb"/>
<polygon points="549.4,168.6 550.0,167.4 631.2,57.4 575.7,180.6 569.2,183.2 550.3,171.7" fill="#f0f2eb"/>
<polygon points="549.4,168.6 550.0,167.4 622.6,58.4 575.7,180.6 569.2,183.2 550.3,171.7" fill="#f0f2eb"/>
<polygon points="549.4,168.6 550.0,167.4 624.2,60.2 575.7,180.6 569.2,183.2 550.3,171.7" fill="#f0f2eb"/>
<polygon points="549.4,168.6 550.0,167.4 553.7,162.6 638.5,60.7 575.7,180.6 569.2,183.2 550.3,171.7" fill="#f0f2eb"/>
<polygon points="549.4,168.6 550.0,167.4 553.7,162.6 647.6,63.3 575.7,180.6 569.2,183.2 550.3,171.7" fill="#f0f2eb"/>
<polygon points="549.4,168.6 550.0,167.4 553.7,162.6 654.3,64.4 575.7,180.6 569.2,183.2 550.3,171.7" fill="#f0f2eb"/>
<polygon points="549.4,168.6 550.0,167.4 608.4,64.7 575.7,180.6 569.2,183.2 550.3,171.7" fill="#f0f2eb"/>
<polygon points="549.4,168.6 550.0,167.4 609.3,67.5 575.7,180.6 569.2,183.2 550.3,171.7" fill="#f0f2eb"/>
<polygon points="549.4,168.6 550.0,167.4 617.5,68.0 575.7,180.6 569.2,183.2 550.3,171.7" fill="#f0f2eb"/>
<polygon points="549.4,168.6 550.0,167.4 553.7,162.6 638.8,68.4 575.7,180.6 569.2,183.2 550.3,171.7" fill="#f0f2eb"/>
<polygon points="549.4,168.6 550.0,167.4 553.7,162.6 643.6,68.4 575.7,180.6 569.2,183.2 550.3,171.7" fill="#f0f2eb"/>
<polygon points="549.4,168.6 550.0,167.4 617.7,73.9 575.7,180.6 569.2,183.2 550.3,171.7" fill="#f0f2eb"/>
<polygon points="549.4,168.6 550.0,167.4 613.5,79.7 575.7,180.6 569.2,183.2 550.3,171.7" fill="#f0f2eb"/>
<polygon points="549.4,168.6 550.0,167.4 608.9,81.7 575.7,180.6 569.2,183.2 550.3,171.7" fill="#f0f2eb"/>
<polygon points="549.4,168.6 550.0,167.4 601.6,81.2 575.7,180.6 569.2,183.2 550.3,171.7" fill="#f0f2eb"/>
<polygon points="549.4,168.6 550.0,167.4 602.5,84.5 575.7,180.6 569.2,183.2 550.3,171.7" fill="#f0f2eb"/>
<polygon points="549.4,168.6 550.0,167.4 591.9,87.6 575.7,180.6 569.2,183.2 550.3,171.7" fill="#f0f2eb"/>
<polygon points="549.4,168.6 550.0,167.4 598.0,88.5 575.7,180.6 569.2,183.2 550.3,171.7" fill="#f0f2eb"/>
<polygon points="549.4,168.6 550.0,167.4 607.4,89.9 575.7,180.6 569.2,183.2 550.3,171.7" fill="#f0f2eb"/>
<polygon points="549.4,168.6 550.0,167.4 553.7,162.6 656.7,80.8 575.7,180.6 569.2,183.2 550.3,171.7" fill="#f0f2eb"/>
<polygon points="549.4,168.6 550.0,167.4 553.7,162.6 640.3,82.4 575.7,180.6 569.2,183.2 550.3,171.7" fill="#f0f2eb"/>
<polygon points="549.4,168.6 550.0,167.4 553.7,162.6 631.2,87.2 575.7,180.6 569.2,183.2 550.3,171.7" fill="#f0f2eb"/>
<polygon points="549.4,168.6 550.0,167.4 553.7,162.6 623.0,88.5 575.7,180.6 569.2,183.2 550.3,171.7" fill="#f0f2eb"/>
<polygon points="549.4,168.6 550.0,167.4 553.7,162.6 624.8,90.3 575.7,180.6 569.2,183.2 550.3,171.7" fill="#f0f2eb"/>
<polygon points="549.4,168.6 550.0,167.4 553.7,162.6 623.0,93.0 575.7,180.6 569.2,183.2 550.3,171.7" fill="#f0f2eb"/>
<polygon points="549.4,168.6 550.0,167.4 553.7,162.6 623.9,87.6 575.7,180.6 569.2,183.2 550.3,171.7" fill="#f0f2eb"/>
<polygon points="549.4,168.6 565.1,94.3 575.2,163.9 575.7,180.6 569.2,183.2 550.3,171.7" fill="#f0f2eb"/>
<polygon points="549.4,168.6 550.0,167.4 586.5,100.0 575.7,180.6 569.2,183.2 550.3,171.7" fill="#f0f2eb"/>
<polygon points="549.4,168.6 550.0,167.4 553.7,162.6 625.1,100.3 575.7,180.6 569.2,183.2 550.3,171.7" fill="#f0f2eb"/>
<polygon points="549.4,168.6 550.0,167.4 553.7,162.6 633.9,106.7 575.7,180.6 569.2,183.2 550.3,171.7" fill="#f0f2eb"/>
<polygon points="549.4,168.6 550.0,167.4 553.7,162.6 627.5,108.2 575.7,180.6 569.2,183.2 550.3,171.7" fill="#f0f2eb"/>
<polygon points="549.4,168.6 550.0,167.4 553.7,162.6 642.1,107.1 575.7,180.6 569.2,183.2 550.3,171.7" fill="#f0f2eb"/>
<polygon points="549.4,168.6 567.3,108.5 575.2,163.9 575.7,180.6 569.2,183.2 550.3,171.7" fill="#f0f2eb"/>
<polygon points="549.4,168.6 550.0,167.4 572.2,122.3 575.2,163.9 575.7,180.6 569.2,183.2 550.3,171.7" fill="#f0f2eb"/>
<polygon points="549.4,168.6 550.0,167.4 553.7,162.6 606.4,123.7 575.7,180.6 569.2,183.2 550.3,171.7" fill="#f0f2eb"/>
<polygon points="549.4,168.6 550.0,167.4 553.7,162.6 642.5,122.8 575.7,180.6 569.2,183.2 550.3,171.7" fill="#f0f2eb"/>
<polygon points="549.4,168.6 550.0,167.4 553.7,162.6 641.6,127.4 575.7,180.6 569.2,183.2 550.3,171.7" fill="#f0f2eb"/>
<polygon points="549.4,168.6 550.0,167.4 553.7,162.6 643.0,128.3 575.7,180.6 569.2,183.2 550.3,171.7" fill="#f0f2eb"/>
<polygon points="532.2,115.5 574.1,157.8 575.2,163.9 575.7,180.6 569.2,183.2 550.3,171.7" fill="#f0f2eb"/>
<polygon points="541.6,119.5 574.1,157.8 575.2,163.9 575.7,180.6 569.2,183.2 550.3,171.7 549.4,168.6" fill="#f0f2eb"/>
<polygon points="549.4,168.6 550.0,167.4 553.7,162.6 571.0,157.6 574.1,157.8 599.3,201.5 550.3,171.7" fill="#f0f2eb"/>
<polygon points="549.4,168.6 550.0,167.4 553.7,162.6 571.0,157.6 574.1,157.8 602.3,198.5 569.2,183.2 550.3,171.7" fill="#f0f2eb"/>
<polygon points="549.4,168.6 550.0,167.4 553.7,162.6 571.0,157.6 574.1,157.8 605.8,197.6 569.2,183.2 550.3,171.7" fill="#f0f2eb"/>
<polygon points="549.4,168.6 550.0,167.4 553.7,162.6 664.6,54.1 575.7,180.6 569.2,183.2 550.3,171.7" fill="#f0f2eb"/>
<polygon points="549.4,168.6 550.0,167.4 553.7,162.6 667.0,53.9 575.7,180.6 569.2,183.2 550.3,171.7" fill="#f0f2eb"/>
<polygon points="549.4,168.6 550.0,167.4 553.7,162.6 666.4,47.3 575.7,180.6 569.2,183.2 550.3,171.7" fill="#f0f2eb"/>
<polygon points="549.4,168.6 550.0,167.4 553.7,162.6 663.7,58.2 575.7,180.6 569.2,183.2 550.3,171.7" fill="#f0f2eb"/>
<polygon points="549.4,168.6 550.0,167.4 553.7,162.6 662.5,51.0 575.7,180.6 569.2,183.2 550.3,171.7" fill="#f0f2eb"/>
<polygon points="549.4,168.6 550.0,167.4 553.7,162.6 661.2,55.3 575.7,180.6 569.2,183.2 550.3,171.7" fill="#f0f2eb"/>
<polygon points="549.4,168.6 550.0,167.4 553.7,162.6 663.4,54.3 575.7,180.6 569.2,183.2 550.3,171.7" fill="#f0f2eb"/>
<polygon points="549.4,168.6 550.0,167.4 553.7,162.6 667.2,48.1 575.7,180.6 569.2,183.2 550.3,171.7" fill="#f0f2eb"/>
<polygon points="549.4,168.6 550.0,167.4 553.7,162.6 663.2,49.4 575.7,180.6 569.2,183.2 550.3,171.7" fill="#f0f2eb"/>
<polygon points="549.4,168.6 550.0,167.4 553.7,162.6 665.8,50.0 575.7,180.6 569.2,183.2 550.3,171.7" fill="#f0f2eb"/>
<polygon points="549.4,168.6 550.0,167.4 553.7,162.6 667.0,47.1 575.7,180.6 569.2,183.2 550.3,171.7" fill="#f0f2eb"/>
<polygon points="549.4,168.6 550.0,167.4 553.7,162.6 663.6,52.8 575.7,180.6 569.2,183.2 550.3,171.7" fill="#f0f2eb"/>
<polygon points="549.4,168.6 550.0,167.4 553.7,162.6 661.5,48.8 575.7,180.6 569.2,183.2 550.3,171.7" fill="#f0f2eb"/>
<polygon points="549.4,168.6 550.0,167.4 553.7,162.6 663.0,54.5 575.7,180.6 569.2,183.2 550.3,171.7" fill="#f0f2eb"/>
<polygon points="549.4,168.6 550.0,167.4 553.7,162.6 661.9,49.8 575.7,180.6 569.2,183.2 550.3,171.7" fill="#f0f2eb"/>
<polygon points="549.4,168.6 550.0,167.4 553.7,162.6 661.7,49.4 575.7,180.6 569.2,183.2 550.3,171.7" fill="#f0f2eb"/>
<polygon points="549.4,168.6 550.0,167.4 553.7,162.6 667.1,48.7 575.7,180.6 569.2,183.2 550.3,171.7" fill="#f0f2eb"/>
<polygon points="549.4,168.6 550.0,167.4 553.7,162.6 665.4,47.7 575.7,180.6 569.2,183.2 550.3,171.7" fill="#f0f2eb"/>
<polygon points="549.4,168.6 550.0,167.4 553.7,162.6 670.2,46.2 575.7,180.6 569.2,183.2 550.3,171.7" fill="#f0f2eb"/>
<polygon points="549.4,168.6 550.0,167.4 553.7,162.6 660.6,51.5 575.7,180.6 569.2,183.2 550.3,171.7" fill="#f0f2eb"/>
<polygon points="549.4,168.6 550.0,167.4 553.7,162.6 661.9,55.4 575.7,180.6 569.2,183.2 550.3,171.7" fill="#f0f2eb"/>
<polygon points="549.4,168.6 550.0,167.4 553.7,162.6 668.2,49.6 575.7,180.6 569.2,183.2 550.3,171.7" fill="#f0f2eb"/>
<polygon points="549.4,168.6 550.0,167.4 553.7,162.6 667.2,51.1 575.7,180.6 569.2,183.2 550.3,171.7" fill="#f0f2eb"/>
<polygon points="549.4,168.6 550.0,167.4 553.7,162.6 666.5,53.9 575.7,180.6 569.2,183.2 550.3,171.7" fill="#f0f2eb"/>
<polygon points="549.4,168.6 550.0,167.4 553.7,162.6 663.7,48.8 575.7,180.6 569.2,183.2 550.3,171.7" fill="#f0f2eb"/>
<polygon points="549.4,168.6 550.0,167.4 553.7,162.6 662.1,49.1 575.7,180.6 569.2,183.2 550.3,171.7" fill="#f0f2eb"/>
<polygon points="549.4,168.6 550.0,167.4 553.7,162.6 659.1,49.5 575.7,180.6 569.2,183.2 550.3,171.7" fill="#f0f2eb"/>
<polygon points="549.4,168.6 550.0,167.4 553.7,162.6 667.8,48.0 575.7,180.6 569.2,183.2 550.3,171.7" fill="#f0f2eb"/>
<polygon points="549.4,168.6 550.0,167.4 553.7,162.6 659.3,49.8 575.7,180.6 569.2,183.2 550.3,171.7" fill="#f0f2eb"/>
<polygon points="549.4,168.6 550.0,167.4 553.7,162.6 661.7,53.8 575.7,180.6 569.2,183.2 550.3,171.7" fill="#f0f2eb"/>
<polygon points="549.4,168.6 550.0,167.4 553.7,162.6 668.8,48.2 575.7,180.6 569.2,183.2 550.3,171.7" fill="#f0f2eb"/>
<polygon points="549.4,168.6 550.0,167.4 553.7,162.6 662.7,53.4 575.7,180.6 569.2,183.2 550.3,171.7" fill="#f0f2eb"/>
<polygon points="549.4,168.6 550.0,167.4 553.7,162.6 661.5,49.2 575.7,180.6 569.2,183.2 550.3,171.7" fill="#f0f2eb"/>
<polygon points="549.4,168.6 550.0,167.4 553.7,162.6 659.2,49.5 575.7,180.6 569.2,183.2 550.3,171.7" fill="#f0f2eb"/>
<polygon points="549.4,168.6 550.0,167.4 553.7,162.6 664.5,57.4 575.7,180.6 569.2,183.2 550.3,171.7" fill="#f0f2eb"/>
<polygon points="549.4,168.6 550.0,167.4 553.7,162.6 664.0,49.3 575.7,180.6 569.2,183.2 550.3,171.7" fill="#f0f2eb"/>
<polygon points="549.4,168.6 550.0,167.4 553.7,162.6 668.8,48.5 575.7,180.6 569.2,183.2 550.3,171.7" fill="#f0f2eb"/>
<polygon points="549.4,168.6 550.0,167.4 553.7,162.6 669.7,45.7 575.7,180.6 569.2,183.2 550.3,171.7" fill="#f0f2eb"/>
<polygon points="549.4,168.6 550.0,167.4 553.7,162.6 666.1,47.2 575.7,180.6 569.2,183.2 550.3,171.7" fill="#f0f2eb"/>
<polygon points="549.4,168.6 550.0,167.4 553.7,162.6 666.2,55.0 575.7,180.6 569.2,183.2 550.3,171.7" fill="#f0f2eb"/>
<polygon points="549.4,168.6 550.0,167.4 553.7,162.6 658.8,49.7 575.7,180.6 569.2,183.2 550.3,171.7" fill="#f0f2eb"/>
<polygon points="549.4,168.6 550.0,167.4 553.7,162.6 664.0,47.4 575.7,180.6 569.2,183.2 550.3,171.7" fill="#f0f2eb"/>
<polygon points="549.4,168.6 550.0,167.4 553.7,162.6 662.0,49.2 575.7,180.6 569.2,183.2 550.3,171.7" fill="#f0f2eb"/>
<polygon points="549.4,168.6 550.0,167.4 553.7,162.6 665.8,47.1 575.7,180.6 569.2,183.2 550.3,171.7" fill="#f0f2eb"/>
<polygon points="549.4,168.6 550.0,167.4 600.5,77.5 575.7,180.6 569.2,183.2 550.3,171.7" fill="#f0f2eb"/>
<polygon points="549.4,168.6 550.0,167.4 553.7,162.6 616.2,121.9 575.7,180.6 569.2,183.2 550.3,171.7" fill="#f0f2eb"/>
<polygon points="549.4,168.6 550.0,167.4 604.5,85.2 575.7,180.6 569.2,183.2 550.3,171.7" fill="#f0f2eb"/>
<polyline points="615.4,146.3 622.0,142.5 629.9,139.0 636.0,137.0 642.6,135.4" fill="none" stroke="#dfe1db" stroke-width="0.5" vector-effect="non-scaling-stroke"/>
<polyline points="619.0,146.3 622.6,155.3 619.0,166.2" fill="none" stroke="#dfe1db" stroke-width="0.5" vector-effect="non-scaling-stroke"/>
<polyline points="600.8,162.6 606.3,166.2 617.2,169.8 629.9,168.0 639.0,162.6 646.2,160.8" fill="none" stroke="#dfe1db" stroke-width="0.5" vector-effect="non-scaling-stroke"/>
<polyline points="606.3,166.2 604.5,175.3 600.8,184.4 601.0,189.0" fill="none" stroke="#dfe1db" stroke-width="0.5" vector-effect="non-scaling-stroke"/>
<polyline points="629.9,168.0 633.5,159.0 631.7,149.9 629.9,139.0" fill="none" stroke="#dfe1db" stroke-width="0.5" vector-effect="non-scaling-stroke"/>
<polyline points="639.0,162.6 642.6,153.5 646.2,144.4 649.8,137.2" fill="none" stroke="#dfe1db" stroke-width="0.5" vector-effect="non-scaling-stroke"/>
<polyline points="573.0,155.0 580.9,166.2 591.8,162.6 600.8,162.6" fill="none" stroke="#dfe1db" stroke-width="0.5" vector-effect="non-scaling-stroke"/>
<polyline points="580.0,151.0 590.0,150.0 600.0,148.0 608.0,147.0 615.4,146.3" fill="none" stroke="#dfe1db" stroke-width="0.5" vector-effect="non-scaling-stroke"/>
<polyline points="462.5,107.0 475.0,114.0 488.0,117.0 500.0,118.0 512.0,110.0 522.0,104.0 532.0,98.0 540.0,90.0 546.0,82.0 547.0,77.5" fill="none" stroke="#dfe1db" stroke-width="0.5" vector-effect="non-scaling-stroke"/>
<polyline points="512.0,110.0 522.0,118.0 535.0,122.0 545.0,126.0 553.0,134.0" fill="none" stroke="#dfe1db" stroke-width="0.5" vector-effect="non-scaling-stroke"/>
<polyline points="553.0,134.0 551.0,142.0 549.0,150.0 547.0,158.0 546.5,165.0" fill="none" stroke="#dfe1db" stroke-width="0.5" vector-effect="non-scaling-stroke"/>
<polyline points="546.0,82.0 552.0,92.0 558.0,99.0 564.0,104.0 568.0,110.0" fill="none" stroke="#dfe1db" stroke-width="0.5" vector-effect="non-scaling-stroke"/>
<polyline points="553.0,134.0 558.0,126.0 563.0,118.0 568.0,110.0" fill="none" stroke="#dfe1db" stroke-width="0.5" vector-effect="non-scaling-stroke"/>
<polyline points="547.0,77.5 556.0,87.0 566.0,93.0 576.0,97.0 582.0,101.0" fill="none" stroke="#dfe1db" stroke-width="0.5" vector-effect="non-scaling-stroke"/>
<polyline points="568.0,110.0 576.0,115.0 584.0,118.0 590.0,121.0" fill="none" stroke="#dfe1db" stroke-width="0.5" vector-effect="non-scaling-stroke"/>
<polyline points="547.0,158.0 556.0,159.0 565.0,157.0 573.0,155.0 580.0,151.0" fill="none" stroke="#dfe1db" stroke-width="0.5" vector-effect="non-scaling-stroke"/>
<polyline points="580.0,151.0 586.0,145.0 590.0,137.0 594.0,128.0 590.0,121.0" fill="none" stroke="#dfe1db" stroke-width="0.5" vector-effect="non-scaling-stroke"/>
<polyline points="582.0,101.0 590.0,104.0 596.0,98.0 600.0,92.0 606.0,86.0 614.0,82.0 622.0,75.0 632.0,68.0 640.0,66.0 648.0,67.0 656.0,67.0 662.0,72.0" fill="none" stroke="#dfe1db" stroke-width="0.5" vector-effect="non-scaling-stroke"/>
<polyline points="590.0,121.0 596.0,116.0 598.0,108.0 596.0,98.0" fill="none" stroke="#dfe1db" stroke-width="0.5" vector-effect="non-scaling-stroke"/>
<polyline points="598.0,108.0 604.0,106.0 606.0,98.0 604.0,90.0" fill="none" stroke="#dfe1db" stroke-width="0.5" vector-effect="non-scaling-stroke"/>
<polyline points="594.0,128.0 602.0,131.0 610.0,132.0 618.0,129.0 626.0,126.0" fill="none" stroke="#dfe1db" stroke-width="0.5" vector-effect="non-scaling-stroke"/>
<polyline points="590.0,137.0 598.0,142.0 606.0,145.0 614.0,144.0 620.0,141.0" fill="none" stroke="#dfe1db" stroke-width="0.5" vector-effect="non-scaling-stroke"/>
<polyline points="626.0,126.0 632.0,124.0 638.0,121.0 642.0,117.0" fill="none" stroke="#dfe1db" stroke-width="0.5" vector-effect="non-scaling-stroke"/>
<polyline points="604.0,106.0 612.0,106.0 620.0,104.0 628.0,101.0 634.0,103.0 640.0,112.0" fill="none" stroke="#dfe1db" stroke-width="0.5" vector-effect="non-scaling-stroke"/>
<polyline points="626.0,126.0 630.0,132.0 630.0,138.0" fill="none" stroke="#dfe1db" stroke-width="0.5" vector-effect="non-scaling-stroke"/>
<polyline points="640.0,66.0 640.0,58.0 636.0,50.0 632.0,42.0 630.0,34.0 632.0,26.0 629.0,18.0" fill="none" stroke="#dfe1db" stroke-width="0.5" vector-effect="non-scaling-stroke"/>
<polyline points="656.0,67.0 664.0,66.0 672.0,68.0 676.0,63.0" fill="none" stroke="#dfe1db" stroke-width="0.5" vector-effect="non-scaling-stroke"/>
<polyline points="606.0,98.0 612.0,96.0 618.0,96.0 624.0,92.0 628.0,96.0" fill="none" stroke="#dfe1db" stroke-width="0.5" vector-effect="non-scaling-stroke"/>
<path d="M571.9 158.2L629.7 29.2M568.5 177.2L637.6 47.8M568.8 175.6L622.6 58.4M572.3 168.6L609.3 67.5M565.9 172.7L608.9 81.7M567.5 174.7L607.4 89.9M571.9 158.2L623.0 88.5M567.5 169.0L633.9 106.7M571.0 159.9L642.5 122.8M571.0 166.1L664.6 54.1M573.7 162.9L663.6 52.8M562.8 167.4L663.7 48.8M571.0 159.9L658.8 49.7M569.7 164.2L604.5 85.2M572.3 168.6L526.1 106.2M550.3 171.7L574.1 157.8M569.4 172.5L571.0 166.1M557.2 168.6L572.3 168.6M571.0 159.9L568.5 173.0M555.3 164.9L575.2 163.9" fill="none" stroke="#dbf3ba" stroke-width="1.0" stroke-opacity="0.95" vector-effect="non-scaling-stroke"/>
<path d="M571.9 158.2L564.1 94.3M553.7 162.6L668.6 38.8M556.8 169.9L652.5 52.3M572.3 168.6L608.4 64.7M569.7 173.4L602.5 84.5M568.3 169.9L624.8 90.3M560.3 167.1L625.1 100.3M553.4 163.9L641.6 127.4M571.9 158.2L661.2 55.3M571.9 158.2L661.7 49.4M571.0 157.6L668.8 48.2M574.1 157.8L669.7 45.7M575.2 163.9L478.3 80.1M568.8 175.6L567.2 178.5M553.4 165.5L565.3 168.3M569.1 172.3L568.5 173.0" fill="none" stroke="#a3cfd5" stroke-width="1.0" stroke-opacity="0.9" vector-effect="non-scaling-stroke"/>
<path d="M573.7 162.9L564.1 94.3M571.9 158.2L633.0 46.9M569.7 164.2L631.2 57.4M571.3 171.2L617.5 68.0M553.4 163.9L656.7 80.8M573.7 162.9L627.5 108.2M575.2 163.9L572.2 122.3M550.3 171.7L643.0 128.3M568.5 177.2L605.8 197.6M575.2 163.9L564.1 94.3M566.9 171.2L568.3 169.9M556.8 164.3L573.2 174.1M555.3 164.9L571.9 158.2M569.7 167.7L570.4 164.9M557.2 168.6L569.1 172.3M565.9 172.7L568.8 175.6M557.2 168.6L572.9 172.8M553.7 162.6L574.1 157.8M549.4 168.6L567.5 169.0M553.7 162.6L569.1 180.4M553.4 163.9L572.7 170.6" fill="none" stroke="#3a8995" stroke-width="0.9" stroke-opacity="0.8" vector-effect="non-scaling-stroke"/>
<path d="M550.0 167.4L664.6 54.1M562.8 167.4L664.6 54.1M556.8 164.3L667.0 53.9M559.0 166.9L666.4 47.3M569.7 167.7L663.7 58.2M571.0 157.6L663.7 58.2M560.3 167.1L662.5 51.0M571.0 159.9L661.2 55.3M571.0 166.1L663.4 54.3M575.2 163.9L663.4 54.3M569.7 164.2L667.2 48.1M569.7 164.2L663.2 49.4M567.5 169.0L665.8 50.0M575.2 163.9L665.8 50.0M569.7 167.7L667.0 47.1M569.7 164.2L663.6 52.8M569.7 158.5L661.5 48.8M562.8 167.4L661.5 48.8M572.4 165.5L663.0 54.5M569.7 164.2L661.9 49.8M569.7 158.5L661.7 49.4M571.9 158.2L667.1 48.7M573.7 162.9L667.1 48.7M569.7 164.2L665.4 47.7M570.4 164.9L670.2 46.2M562.8 167.4L660.6 51.5M562.8 167.4L660.6 51.5M569.7 158.5L661.9 55.4M573.7 162.9L668.2 49.6M569.1 165.5L668.2 49.6M569.7 164.2L667.2 51.1M571.9 158.2L666.5 53.9M574.1 157.8L666.5 53.9M569.7 158.5L663.7 48.8M569.7 164.2L662.1 49.1M573.7 162.9L659.1 49.5M575.2 163.9L659.1 49.5M573.7 162.9L667.8 48.0M569.7 167.7L659.3 49.8M570.4 164.9L661.7 53.8M569.1 165.5L661.7 53.8M573.7 162.9L668.8 48.2M569.7 167.7L662.7 53.4M575.2 163.9L661.5 49.2M573.7 162.9L661.5 49.2M575.2 163.9L659.2 49.5M569.7 164.2L664.5 57.4M569.7 158.5L664.0 49.3M571.9 158.2L664.0 49.3M571.0 157.6L668.8 48.5M569.7 158.5L669.7 45.7M571.9 158.2L666.1 47.2M570.4 164.9L666.2 55.0M569.7 167.7L666.2 55.0M574.1 157.8L658.8 49.7M568.3 169.9L664.0 47.4M571.0 166.1L662.0 49.2M573.7 162.9L662.0 49.2M571.0 166.1L665.8 47.1" fill="none" stroke="#3a8995" stroke-width="1.0" stroke-opacity="0.8" vector-effect="non-scaling-stroke"/>
<path d="M567.5 169.0L629.7 29.2M569.7 164.2L637.6 47.8M569.7 173.4L622.6 58.4M562.8 167.4L609.3 67.5M571.0 166.1L608.9 81.7M575.7 180.6L607.4 89.9M569.7 167.7L624.8 90.3M568.3 169.9L633.9 106.7M566.9 171.2L641.6 127.4M570.4 164.9L664.6 54.1M569.7 164.2L661.5 48.8M571.9 158.2L659.1 49.5M575.2 163.9L658.8 49.7M564.1 179.6L604.5 85.2M571.0 157.6L526.1 106.2M550.9 170.7L568.5 173.0M553.4 165.5L567.9 172.1M555.0 168.6L571.0 166.1M556.2 167.4L567.6 166.5M556.8 164.3L569.1 165.5" fill="none" stroke="#dbf3ba" stroke-width="1.0" stroke-opacity="0.95" vector-effect="non-scaling-stroke"/>
<path d="M569.7 164.2L629.0 20.0M567.5 169.0L628.4 40.5M571.9 177.9L652.5 52.3M551.5 167.7L609.3 67.5M560.3 167.1L591.9 87.6M571.3 171.2L623.0 93.0M569.7 167.7L625.1 100.3M565.9 172.7L641.6 127.4M574.1 157.8L667.2 48.1M572.3 168.6L667.1 48.7M569.7 158.5L662.7 53.4M571.0 166.1L666.1 47.2M568.5 177.2L478.3 80.1M569.4 172.5L568.5 173.0M571.0 159.9L569.8 172.9M569.1 172.3L568.8 173.1" fill="none" stroke="#a3cfd5" stroke-width="1.0" stroke-opacity="0.9" vector-effect="non-scaling-stroke"/>
<path d="M562.8 167.4L564.1 94.3M568.8 175.6L641.6 50.1M570.0 179.5L622.6 58.4M569.7 173.4L638.8 68.4M569.7 158.5L631.2 87.2M575.2 163.9L627.5 108.2M570.4 164.9L572.2 122.3M574.1 157.8L643.0 128.3M565.3 168.3L605.8 197.6M550.0 167.4L571.9 177.9M555.3 164.9L569.4 172.5M555.0 168.6L568.3 169.9M553.4 165.5L571.0 157.6M556.2 167.4L569.1 172.3M556.8 164.3L571.9 177.9M556.8 164.3L569.7 167.7M571.3 171.2L571.9 158.2M553.4 163.9L571.0 166.1M555.0 168.6L573.2 174.1M555.3 164.9L573.7 162.9M550.3 171.7L568.8 178.8" fill="none" stroke="#3a8995" stroke-width="0.9" stroke-opacity="0.8" vector-effect="non-scaling-stroke"/>
<path d="M574.1 157.8L664.6 54.1M569.1 165.5L667.0 53.9M569.1 165.5L667.0 53.9M569.7 167.7L666.4 47.3M566.9 171.2L663.7 58.2M562.8 167.4L663.7 58.2M549.4 168.6L662.5 51.0M569.7 158.5L661.2 55.3M549.4 168.6L663.4 54.3M553.7 162.6L663.4 54.3M571.9 158.2L667.2 48.1M569.1 165.5L663.2 49.4M573.7 162.9L665.8 50.0M573.7 162.9L665.8 50.0M562.8 167.4L667.0 47.1M571.0 157.6L663.6 52.8M571.0 159.9L661.5 48.8M571.0 157.6L663.0 54.5M559.0 166.9L663.0 54.5M550.0 167.4L661.9 49.8M573.7 162.9L661.7 49.4M570.4 164.9L667.1 48.7M571.0 166.1L667.1 48.7M571.9 158.2L665.4 47.7M573.7 162.9L670.2 46.2M549.4 168.6L660.6 51.5M551.5 167.7L660.6 51.5M573.7 162.9L661.9 55.4M571.0 157.6L668.2 49.6M569.7 164.2L668.2 49.6M569.7 158.5L667.2 51.1M569.1 165.5L666.5 53.9M551.5 167.7L663.7 48.8M569.7 167.7L663.7 48.8M569.7 164.2L662.1 49.1M571.9 158.2L659.1 49.5M571.0 159.9L659.1 49.5M575.2 163.9L667.8 48.0M573.7 162.9L659.3 49.8M572.4 165.5L661.7 53.8M571.0 159.9L661.7 53.8M562.8 167.4L668.8 48.2M562.8 167.4L662.7 53.4M572.4 165.5L661.5 49.2M574.1 157.8L661.5 49.2M570.4 164.9L659.2 49.5M571.0 166.1L664.5 57.4M569.7 158.5L664.0 49.3M565.3 168.3L664.0 49.3M571.0 157.6L668.8 48.5M575.2 163.9L669.7 45.7M571.0 157.6L666.1 47.2M572.4 165.5L666.2 55.0M560.3 167.1L666.2 55.0M571.0 166.1L658.8 49.7M556.8 164.3L664.0 47.4M556.8 164.3L662.0 49.2M573.7 162.9L662.0 49.2M571.9 158.2L665.8 47.1" fill="none" stroke="#3a8995" stroke-width="1.0" stroke-opacity="0.8" vector-effect="non-scaling-stroke"/>
<path d="M575.2 163.9L629.7 29.2M568.3 169.9L637.6 47.8M568.5 177.2L624.2 60.2M556.8 164.3L617.5 68.0M569.7 173.4L601.6 81.2M568.8 175.6L607.4 89.9M569.2 183.2L624.8 90.3M565.3 168.3L633.9 106.7M569.2 183.2L641.6 127.4M569.1 165.5L667.0 53.9M571.0 157.6L663.0 54.5M575.2 163.9L667.8 48.0M569.7 167.7L665.8 47.1M565.3 168.3L478.3 80.1M575.7 180.6L526.1 106.2M550.3 171.7L566.7 171.8M550.0 167.4L574.1 157.8M568.8 178.8L567.9 172.1M556.8 164.3L568.2 172.3M553.4 163.9L569.4 172.5" fill="none" stroke="#dbf3ba" stroke-width="1.0" stroke-opacity="0.95" vector-effect="non-scaling-stroke"/>
<path d="M570.4 164.9L629.0 20.0M573.2 174.1L628.4 40.5M575.2 163.9L631.2 57.4M565.3 168.3L638.8 68.4M550.9 170.7L591.9 87.6M568.3 169.9L623.0 93.0M571.9 177.9L633.9 106.7M571.9 158.2L643.0 128.3M571.0 166.1L663.2 49.4M570.4 164.9L665.4 47.7M562.8 167.4L659.2 49.5M559.0 166.9L666.1 47.2M562.5 169.0L541.8 119.7M550.3 171.7L568.5 173.0M555.3 164.9L575.7 180.6M569.7 158.5L569.7 164.2" fill="none" stroke="#a3cfd5" stroke-width="1.0" stroke-opacity="0.9" vector-effect="non-scaling-stroke"/>
<path d="M572.9 172.8L629.0 20.0M571.9 158.2L641.6 50.1M573.7 162.9L624.2 60.2M575.7 180.6L617.7 73.9M569.1 165.5L623.0 88.5M566.9 176.3L627.5 108.2M568.8 175.6L606.4 123.7M571.9 158.2L599.3 201.5M566.9 176.3L604.5 85.2M551.5 167.7L571.3 172.4M555.0 168.6L568.8 175.6M550.0 167.4L569.7 173.4M567.2 178.5L567.5 174.7M573.7 162.9L574.1 157.8M553.7 162.6L568.8 175.6M556.2 167.4L573.2 174.1M571.9 177.9L565.3 168.3M551.5 167.7L571.3 171.2M550.9 170.7L569.7 164.2M568.5 173.0L572.7 170.6M550.0 167.4L571.3 171.2" fill="none" stroke="#3a8995" stroke-width="0.9" stroke-opacity="0.8" vector-effect="non-scaling-stroke"/>
<path d="M572.4 165.5L664.6 54.1M565.3 168.3L667.0 53.9M562.5 169.0L667.0 53.9M571.0 159.9L666.4 47.3M571.0 157.6L663.7 58.2M571.9 158.2L662.5 51.0M573.7 162.9L662.5 51.0M574.1 157.8L661.2 55.3M571.9 158.2L663.4 54.3M573.7 162.9L667.2 48.1M571.9 158.2L667.2 48.1M572.4 165.5L663.2 49.4M565.3 168.3L665.8 50.0M562.8 167.4L667.0 47.1M569.7 158.5L667.0 47.1M572.4 165.5L663.6 52.8M569.7 158.5L661.5 48.8M573.7 162.9L663.0 54.5M569.1 165.5L663.0 54.5M550.3 171.7L661.9 49.8M569.7 164.2L661.7 49.4M574.1 157.8L667.1 48.7M571.0 166.1L667.1 48.7M559.0 166.9L665.4 47.7M571.9 158.2L670.2 46.2M573.7 162.9L660.6 51.5M556.8 164.3L660.6 51.5M559.0 166.9L661.9 55.4M570.4 164.9L668.2 49.6M569.7 158.5L668.2 49.6M566.9 171.2L667.2 51.1M553.7 162.6L666.5 53.9M575.2 163.9L663.7 48.8M569.1 165.5L663.7 48.8M572.4 165.5L662.1 49.1M572.4 165.5L659.1 49.5M574.1 157.8L667.8 48.0M562.8 167.4L667.8 48.0M568.3 169.9L659.3 49.8M569.7 158.5L661.7 53.8M569.7 158.5L668.8 48.2M573.7 162.9L668.8 48.2M571.0 157.6L662.7 53.4M555.3 164.9L661.5 49.2M569.7 158.5L661.5 49.2M571.0 166.1L659.2 49.5M571.9 158.2L664.5 57.4M569.1 165.5L664.0 49.3M571.0 159.9L664.0 49.3M574.1 157.8L668.8 48.5M569.7 167.7L669.7 45.7M569.7 164.2L666.1 47.2M562.8 167.4L666.2 55.0M550.0 167.4L666.2 55.0M571.0 157.6L658.8 49.7M573.7 162.9L664.0 47.4M570.4 164.9L662.0 49.2M569.1 165.5L662.0 49.2M572.4 165.5L665.8 47.1" fill="none" stroke="#3a8995" stroke-width="1.0" stroke-opacity="0.8" vector-effect="non-scaling-stroke"/>
<path d="M550.3 171.7L641.8 37.0M573.7 162.9L630.3 52.5M571.0 166.1L647.6 63.3M574.1 157.8L638.8 68.4M569.7 173.4L602.5 84.5M566.9 176.3L656.7 80.8M575.2 163.9L624.8 90.3M569.7 173.4L633.9 106.7M569.1 165.5L599.3 201.5M569.7 158.5L667.0 53.9M575.2 163.9L661.9 49.8M569.1 165.5L659.3 49.8M565.9 172.7L600.5 77.5M571.9 177.9L478.3 80.1M569.7 167.7L571.0 159.9M571.3 172.4L568.2 172.3M553.7 162.6L567.6 166.5M572.3 168.6L567.5 174.7M550.9 170.7L568.8 173.1M556.8 164.3L568.8 175.6" fill="none" stroke="#dbf3ba" stroke-width="1.0" stroke-opacity="0.95" vector-effect="non-scaling-stroke"/>
<path d="M571.0 159.9L630.6 24.6M570.4 164.9L627.0 45.0M568.8 175.6L631.2 57.4M572.9 172.8L643.6 68.4M571.3 174.4L591.9 87.6M553.7 162.6L623.9 87.6M574.1 157.8L627.5 108.2M571.0 157.6L643.0 128.3M575.2 163.9L665.8 50.0M569.7 164.2L665.4 47.7M551.5 167.7L659.2 49.5M562.8 167.4L664.0 47.4M566.9 176.3L541.8 119.7M568.2 172.3L567.5 173.1M570.4 164.9L571.0 166.1M572.4 165.5L569.7 158.5" fill="none" stroke="#a3cfd5" stroke-width="1.0" stroke-opacity="0.9" vector-effect="non-scaling-stroke"/>
<path d="M571.3 174.4L630.6 24.6M569.7 164.2L641.6 50.1M571.9 158.2L638.5 60.7M570.0 179.5L613.5 79.7M550.0 167.4L623.9 87.6M564.1 179.6L642.1 107.1M564.1 179.6L642.5 122.8M553.7 162.6L599.3 201.5M570.0 179.5L532.5 115.0M553.4 163.9L570.2 172.0M549.4 168.6L568.2 172.3M550.9 170.7L567.2 178.5M550.0 167.4L573.7 162.9M571.9 177.9L567.5 174.7M569.1 172.3L571.0 166.1M549.4 168.6L570.4 175.6M551.5 167.7L570.7 171.7M549.4 168.6L572.4 165.5M555.0 168.6L573.2 174.1M568.8 178.8L575.2 163.9M569.2 183.2L565.9 172.7" fill="none" stroke="#3a8995" stroke-width="0.9" stroke-opacity="0.8" vector-effect="non-scaling-stroke"/>
<path d="M572.3 168.6L664.6 54.1M569.7 164.2L667.0 53.9M575.2 163.9L666.4 47.3M571.0 166.1L666.4 47.3M568.3 169.9L663.7 58.2M575.2 163.9L662.5 51.0M569.1 165.5L662.5 51.0M575.2 163.9L661.2 55.3M569.7 167.7L663.4 54.3M571.0 159.9L667.2 48.1M572.4 165.5L667.2 48.1M567.5 169.0L663.2 49.4M562.8 167.4L665.8 50.0M570.4 164.9L667.0 47.1M571.0 159.9L667.0 47.1M575.2 163.9L663.6 52.8M562.8 167.4L661.5 48.8M569.7 164.2L663.0 54.5M569.7 158.5L663.0 54.5M569.7 164.2L661.9 49.8M570.4 164.9L661.7 49.4M549.4 168.6L667.1 48.7M571.9 158.2L665.4 47.7M571.0 166.1L665.4 47.7M571.0 166.1L670.2 46.2M571.0 159.9L660.6 51.5M568.3 169.9L661.9 55.4M569.1 165.5L661.9 55.4M569.1 165.5L668.2 49.6M571.9 158.2L667.2 51.1M572.4 165.5L667.2 51.1M569.7 158.5L666.5 53.9M571.0 166.1L663.7 48.8M550.0 167.4L662.1 49.1M569.1 165.5L662.1 49.1M572.4 165.5L659.1 49.5M575.2 163.9L667.8 48.0M560.3 167.1L667.8 48.0M574.1 157.8L659.3 49.8M569.7 167.7L661.7 53.8M571.0 157.6L668.8 48.2M571.0 159.9L668.8 48.2M569.7 167.7L662.7 53.4M571.9 158.2L661.5 49.2M562.8 167.4L659.2 49.5M560.3 167.1L659.2 49.5M553.4 163.9L664.5 57.4M569.7 167.7L664.0 49.3M549.4 168.6L664.0 49.3M569.7 158.5L668.8 48.5M553.7 162.6L669.7 45.7M572.3 168.6L666.1 47.2M571.0 159.9L666.2 55.0M574.1 157.8L658.8 49.7M572.4 165.5L658.8 49.7M562.8 167.4L664.0 47.4M571.0 166.1L662.0 49.2M571.0 166.1L662.0 49.2M569.1 165.5L665.8 47.1" fill="none" stroke="#3a8995" stroke-width="1.0" stroke-opacity="0.8" vector-effect="non-scaling-stroke"/>
<path d="M568.8 175.6L668.6 38.8M569.7 164.2L630.3 52.5M574.1 157.8L647.6 63.3M562.8 167.4L643.6 68.4M575.7 180.6L602.5 84.5M570.0 179.5L640.3 82.4M550.3 171.7L623.0 93.0M573.7 162.9L567.3 108.5M575.2 163.9L599.3 201.5M574.1 157.8L661.2 55.3M571.0 157.6L661.7 49.4M569.7 158.5L661.5 49.2M575.7 180.6L600.5 77.5M572.4 165.5L478.3 80.1M550.3 171.7L567.2 178.5M569.2 183.2L571.3 172.4M572.4 165.5L571.3 172.4M557.2 168.6L571.0 157.6M549.4 168.6L569.7 158.5M553.4 163.9L572.3 168.6" fill="none" stroke="#dbf3ba" stroke-width="1.0" stroke-opacity="0.95" vector-effect="non-scaling-stroke"/>
<path d="M571.0 159.9L630.6 24.6M571.0 166.1L627.0 45.0M573.7 162.9L624.2 60.2M567.5 169.0L643.6 68.4M570.0 179.5L598.0 88.5M571.3 171.2L565.1 94.3M571.9 177.9L642.1 107.1M565.3 168.3L599.3 201.5M573.7 162.9L665.8 50.0M573.7 162.9L665.4 47.7M562.8 167.4L668.8 48.5M571.0 166.1L665.8 47.1M570.4 164.9L564.1 94.3M565.3 168.3L567.2 178.5M557.2 168.6L566.9 171.5" fill="none" stroke="#a3cfd5" stroke-width="1.0" stroke-opacity="0.9" vector-effect="non-scaling-stroke"/>
<path d="M570.4 164.9L641.8 37.0M567.5 169.0L630.3 52.5M572.9 172.8L647.6 63.3M572.3 168.6L613.5 79.7M559.0 166.9L586.5 100.0M571.0 166.1L642.1 107.1M568.3 169.9L642.5 122.8M571.9 177.9L602.3 198.5M575.7 180.6L532.5 115.0M557.2 168.6L575.7 180.6M571.3 172.4L567.6 166.5M556.2 167.4L567.5 174.7M574.1 157.8L568.3 169.9M568.3 169.9L568.5 173.0M566.9 176.3L566.7 171.8M553.7 162.6L568.3 169.9M570.7 171.7L565.3 168.3M568.2 172.3L571.0 157.6M567.5 169.0L569.7 164.2M556.2 167.4L574.1 157.8M553.4 163.9L569.2 183.2" fill="none" stroke="#3a8995" stroke-width="0.9" stroke-opacity="0.8" vector-effect="non-scaling-stroke"/>
<path d="M569.7 164.2L664.6 54.1M556.8 164.3L667.0 53.9M571.9 158.2L666.4 47.3M575.2 163.9L666.4 47.3M559.0 166.9L663.7 58.2M571.9 158.2L662.5 51.0M565.3 168.3L662.5 51.0M569.7 167.7L661.2 55.3M569.1 165.5L663.4 54.3M569.1 165.5L667.2 48.1M569.7 158.5L667.2 48.1M571.9 158.2L663.2 49.4M560.3 167.1L665.8 50.0M569.7 164.2L667.0 47.1M569.7 167.7L667.0 47.1M569.7 167.7L663.6 52.8M572.4 165.5L661.5 48.8M562.8 167.4L663.0 54.5M569.1 165.5L661.9 49.8M575.2 163.9L661.9 49.8M569.7 167.7L661.7 49.4M569.7 164.2L667.1 48.7M569.7 158.5L665.4 47.7M575.2 163.9L670.2 46.2M562.8 167.4L670.2 46.2M560.3 167.1L660.6 51.5M571.9 158.2L661.9 55.4M569.7 164.2L661.9 55.4M569.7 158.5L668.2 49.6M571.0 166.1L667.2 51.1M569.1 165.5L667.2 51.1M571.0 166.1L666.5 53.9M553.7 162.6L663.7 48.8M571.3 171.2L662.1 49.1M572.4 165.5L662.1 49.1M569.7 158.5L659.1 49.5M553.4 163.9L667.8 48.0M556.8 164.3L659.3 49.8M569.7 167.7L659.3 49.8M569.7 164.2L661.7 53.8M569.7 164.2L668.8 48.2M562.8 167.4L668.8 48.2M556.8 164.3L662.7 53.4M575.2 163.9L661.5 49.2M562.8 167.4L659.2 49.5M569.7 167.7L664.5 57.4M571.0 157.6L664.5 57.4M571.9 158.2L664.0 49.3M562.8 167.4L668.8 48.5M550.9 170.7L668.8 48.5M559.0 166.9L669.7 45.7M571.0 159.9L666.1 47.2M560.3 167.1L666.2 55.0M574.1 157.8L658.8 49.7M569.7 164.2L658.8 49.7M574.1 157.8L664.0 47.4M574.1 157.8L662.0 49.2M556.8 164.3L665.8 47.1M574.1 157.8L665.8 47.1" fill="none" stroke="#3a8995" stroke-width="1.0" stroke-opacity="0.8" vector-effect="non-scaling-stroke"/>
<path d="M567.5 174.7L627.0 45.0M571.0 166.1L652.5 52.3M550.0 167.4L654.3 64.4M569.1 180.4L617.7 73.9M569.2 183.2L602.5 84.5M571.3 171.2L640.3 82.4M572.3 168.6L623.9 87.6M551.5 167.7L567.3 108.5M571.0 159.9L602.3 198.5M575.2 163.9L663.4 54.3M575.2 163.9L660.6 51.5M569.7 167.7L659.2 49.5M573.2 174.1L600.5 77.5M568.5 177.2L478.3 80.1M555.0 168.6L575.7 180.6M549.4 168.6L569.1 172.3M556.8 169.9L567.6 166.5M553.4 163.9L566.7 171.8M551.5 167.7L568.8 175.6M571.3 171.2L569.7 158.5" fill="none" stroke="#dbf3ba" stroke-width="1.0" stroke-opacity="0.95" vector-effect="non-scaling-stroke"/>
<path d="M572.3 168.6L629.7 29.2M571.9 177.9L633.0 46.9M562.8 167.4L638.5 60.7M571.3 171.2L613.5 79.7M550.0 167.4L656.7 80.8M569.7 167.7L586.5 100.0M571.3 171.2L572.2 122.3M571.0 157.6L605.8 197.6M571.0 166.1L663.6 52.8M553.4 163.9L666.5 53.9M569.1 165.5L668.8 48.5M559.0 166.9L600.5 77.5M569.1 165.5L564.1 94.3M568.5 173.0L570.2 172.0M568.5 177.2L564.1 179.6" fill="none" stroke="#a3cfd5" stroke-width="1.0" stroke-opacity="0.9" vector-effect="non-scaling-stroke"/>
<path d="M562.5 169.0L641.8 37.0M562.5 169.0L634.8 56.5M572.3 168.6L654.3 64.4M562.8 167.4L601.6 81.2M564.1 179.6L586.5 100.0M568.3 169.9L642.1 107.1M565.3 168.3L642.5 122.8M565.3 168.3L602.3 198.5M569.7 164.2L532.5 115.0M549.4 168.6L567.2 178.5M553.4 163.9L569.7 173.4M550.3 171.7L570.0 179.5M549.4 168.6L575.7 180.6M556.8 169.9L572.7 170.6M557.2 168.6L571.9 177.9M556.8 169.9L569.7 158.5M570.0 179.5L573.7 162.9M568.8 178.8L571.9 158.2M571.0 166.1L571.3 172.4M555.0 168.6L566.9 171.5M550.0 167.4L570.4 164.9" fill="none" stroke="#3a8995" stroke-width="0.9" stroke-opacity="0.8" vector-effect="non-scaling-stroke"/>
<path d="M559.0 166.9L664.6 54.1M573.7 162.9L667.0 53.9M571.9 158.2L666.4 47.3M571.0 159.9L666.4 47.3M569.7 158.5L663.7 58.2M571.9 158.2L662.5 51.0M551.5 167.7L662.5 51.0M573.7 162.9L661.2 55.3M569.7 167.7L663.4 54.3M570.4 164.9L667.2 48.1M565.3 168.3L663.2 49.4M571.0 166.1L663.2 49.4M571.3 171.2L665.8 50.0M562.8 167.4L667.0 47.1M550.9 170.7L663.6 52.8M573.7 162.9L663.6 52.8M574.1 157.8L661.5 48.8M560.3 167.1L663.0 54.5M551.5 167.7L661.9 49.8M550.3 171.7L661.9 49.8M569.7 158.5L661.7 49.4M572.4 165.5L667.1 48.7M571.9 158.2L665.4 47.7M575.2 163.9L670.2 46.2M569.7 158.5L670.2 46.2M574.1 157.8L660.6 51.5M562.8 167.4L661.9 55.4M569.7 158.5L661.9 55.4M562.8 167.4L668.2 49.6M571.0 159.9L667.2 51.1M571.0 166.1L667.2 51.1M569.1 165.5L666.5 53.9M550.3 171.7L663.7 48.8M569.7 158.5L662.1 49.1M571.0 157.6L662.1 49.1M571.0 159.9L659.1 49.5M550.3 171.7L667.8 48.0M562.5 169.0L659.3 49.8M571.0 166.1L659.3 49.8M569.7 158.5L661.7 53.8M569.1 165.5L668.8 48.2M571.0 157.6L662.7 53.4M574.1 157.8L662.7 53.4M571.0 157.6L661.5 49.2M572.4 165.5L659.2 49.5M569.7 167.7L664.5 57.4M553.7 162.6L664.5 57.4M571.0 166.1L664.0 49.3M569.7 158.5L668.8 48.5M571.9 158.2L668.8 48.5M571.9 158.2L669.7 45.7M569.7 158.5L666.1 47.2M562.8 167.4L666.2 55.0M569.7 164.2L658.8 49.7M571.0 166.1L664.0 47.4M562.8 167.4L664.0 47.4M572.3 168.6L662.0 49.2M574.1 157.8L665.8 47.1M571.0 166.1L665.8 47.1" fill="none" stroke="#3a8995" stroke-width="1.0" stroke-opacity="0.8" vector-effect="non-scaling-stroke"/>
<path d="M574.1 157.8L633.0 46.9M567.5 169.0L634.8 56.5M571.0 166.1L654.3 64.4M573.7 162.9L617.7 73.9M573.7 162.9L598.0 88.5M569.2 183.2L631.2 87.2M572.3 168.6L565.1 94.3M569.1 165.5L606.4 123.7M560.3 167.1L602.3 198.5M573.7 162.9L663.4 54.3M571.0 166.1L667.2 51.1M556.8 164.3L669.7 45.7M571.3 174.4L616.2 121.9M565.3 168.3L478.3 80.1M553.4 165.5L573.2 174.1M553.4 163.9L570.4 175.6M571.3 174.4L568.5 173.0M553.4 165.5L569.2 183.2M553.7 162.6L573.7 162.9M551.5 167.7L569.7 164.2" fill="none" stroke="#dbf3ba" stroke-width="1.0" stroke-opacity="0.95" vector-effect="non-scaling-stroke"/>
<path d="M570.4 164.9L641.8 37.0M572.3 168.6L641.6 50.1M571.0 159.9L638.5 60.7M571.0 166.1L608.9 81.7M555.3 164.9L640.3 82.4M569.1 165.5L625.1 100.3M572.4 165.5L606.4 123.7M562.8 167.4L664.6 54.1M574.1 157.8L661.5 48.8M562.5 169.0L667.8 48.0M570.4 164.9L669.7 45.7M556.8 164.3L616.2 121.9M572.3 168.6L564.1 94.3M553.4 165.5L570.4 164.9M550.0 167.4L571.3 172.4" fill="none" stroke="#a3cfd5" stroke-width="1.0" stroke-opacity="0.9" vector-effect="non-scaling-stroke"/>
<path d="M569.1 165.5L628.4 40.5M550.9 170.7L634.8 56.5M570.4 164.9L608.4 64.7M572.3 168.6L601.6 81.2M569.7 173.4L625.1 100.3M572.3 168.6L642.1 107.1M573.7 162.9L641.6 127.4M571.3 174.4L602.3 198.5M571.0 166.1L532.5 115.0M550.9 170.7L569.4 172.5M571.0 166.1L571.9 158.2M550.0 167.4L569.7 164.2M553.4 163.9L567.6 166.5M571.0 166.1L568.8 178.8M569.2 183.2L570.7 171.7M553.7 162.6L569.7 164.2M556.8 164.3L572.7 170.6M569.1 165.5L570.4 175.6M571.3 174.4L569.7 173.4M555.0 168.6L568.5 177.2M555.3 164.9L566.7 171.8" fill="none" stroke="#3a8995" stroke-width="0.9" stroke-opacity="0.8" vector-effect="non-scaling-stroke"/>
<path d="M571.0 159.9L664.6 54.1M567.5 169.0L667.0 53.9M569.7 158.5L666.4 47.3M569.7 167.7L666.4 47.3M569.1 165.5L663.7 58.2M573.7 162.9L662.5 51.0M562.8 167.4L661.2 55.3M567.5 169.0L661.2 55.3M574.1 157.8L663.4 54.3M570.4 164.9L667.2 48.1M571.0 159.9L663.2 49.4M571.0 159.9L663.2 49.4M574.1 157.8L665.8 50.0M551.5 167.7L667.0 47.1M562.8 167.4L663.6 52.8M574.1 157.8L663.6 52.8M569.7 164.2L661.5 48.8M569.7 164.2L663.0 54.5M569.7 164.2L661.9 49.8M571.0 166.1L661.7 49.4M569.1 165.5L661.7 49.4M573.7 162.9L667.1 48.7M570.4 164.9L665.4 47.7M569.7 164.2L670.2 46.2M572.3 168.6L670.2 46.2M569.7 164.2L660.6 51.5M559.0 166.9L661.9 55.4M568.3 169.9L661.9 55.4M549.4 168.6L668.2 49.6M571.9 158.2L667.2 51.1M571.0 157.6L666.5 53.9M553.4 163.9L666.5 53.9M551.5 167.7L663.7 48.8M570.4 164.9L662.1 49.1M575.2 163.9L662.1 49.1M569.7 164.2L659.1 49.5M570.4 164.9L667.8 48.0M569.1 165.5L659.3 49.8M569.1 165.5L659.3 49.8M569.7 164.2L661.7 53.8M571.0 166.1L668.8 48.2M571.3 171.2L662.7 53.4M567.5 169.0L662.7 53.4M572.4 165.5L661.5 49.2M569.7 164.2L659.2 49.5M571.0 157.6L664.5 57.4M571.0 159.9L664.5 57.4M549.4 168.6L664.0 49.3M575.2 163.9L668.8 48.5M572.4 165.5L669.7 45.7M571.3 171.2L666.1 47.2M570.4 164.9L666.1 47.2M571.0 159.9L666.2 55.0M572.4 165.5L658.8 49.7M572.4 165.5L664.0 47.4M553.7 162.6L664.0 47.4M551.5 167.7L662.0 49.2M569.1 165.5L665.8 47.1" fill="none" stroke="#3a8995" stroke-width="1.0" stroke-opacity="0.8" vector-effect="non-scaling-stroke"/>
<path d="M572.3 168.6L633.0 46.9M553.4 163.9L631.2 57.4M571.0 159.9L608.4 64.7M569.7 158.5L613.5 79.7M574.1 157.8L598.0 88.5M575.2 163.9L623.0 88.5M571.0 159.9L565.1 94.3M569.7 167.7L606.4 123.7M571.0 166.1L605.8 197.6M556.8 169.9L667.0 47.1M569.7 158.5L663.7 48.8M569.1 165.5L666.1 47.2M575.7 180.6L616.2 121.9M550.3 171.7L526.1 106.2M571.3 174.4L566.9 171.2M571.0 166.1L566.9 171.2M555.3 164.9L568.5 173.0M570.4 175.6L570.2 172.0M555.3 164.9L574.1 157.8" fill="none" stroke="#dbf3ba" stroke-width="1.0" stroke-opacity="0.95" vector-effect="non-scaling-stroke"/>
<path d="M570.0 179.5L668.6 38.8M569.7 167.7L630.3 52.5M571.0 157.6L647.6 63.3M562.8 167.4L601.6 81.2M569.7 164.2L631.2 87.2M567.5 169.0L625.1 100.3M569.7 173.4L642.5 122.8M569.1 165.5L663.7 58.2M569.7 158.5L661.9 49.8M568.3 169.9L661.7 53.8M550.9 170.7L669.7 45.7M569.2 183.2L604.5 85.2M565.3 168.3L566.9 171.5M556.8 169.9L568.8 173.1M553.7 162.6L569.1 180.4" fill="none" stroke="#a3cfd5" stroke-width="1.0" stroke-opacity="0.9" vector-effect="non-scaling-stroke"/>
<path d="M566.9 176.3L628.4 40.5M566.9 176.3L634.8 56.5M565.9 172.7L617.5 68.0M553.4 163.9L607.4 89.9M555.3 164.9L627.5 108.2M569.2 183.2L567.3 108.5M569.1 165.5L643.0 128.3M569.7 164.2L605.8 197.6M567.5 169.0L564.1 94.3M553.4 163.9L571.3 171.2M555.3 164.9L571.3 174.4M553.4 165.5L565.3 168.3M571.3 172.4L571.0 157.6M557.2 168.6L567.2 178.5M572.3 168.6L570.0 179.5M569.1 172.3L568.3 169.9M550.0 167.4L566.9 176.3M553.4 165.5L568.5 177.2M555.0 168.6L565.9 172.7M550.9 170.7L565.9 172.7M571.0 166.1L566.9 171.5" fill="none" stroke="#3a8995" stroke-width="0.9" stroke-opacity="0.8" vector-effect="non-scaling-stroke"/>
<path d="M571.0 159.9L664.6 54.1M569.7 164.2L667.0 53.9M569.7 164.2L666.4 47.3M575.2 163.9L663.7 58.2M571.3 171.2L663.7 58.2M571.9 158.2L662.5 51.0M569.7 164.2L661.2 55.3M571.0 157.6L661.2 55.3M559.0 166.9L663.4 54.3M551.5 167.7L667.2 48.1M562.8 167.4L663.2 49.4M565.3 168.3L663.2 49.4M553.7 162.6L665.8 50.0M571.0 166.1L667.0 47.1M573.7 162.9L663.6 52.8M573.7 162.9L661.5 48.8M568.3 169.9L661.5 48.8M550.0 167.4L663.0 54.5M575.2 163.9L661.9 49.8M571.0 159.9L661.7 49.4M570.4 164.9L661.7 49.4M550.0 167.4L667.1 48.7M569.7 158.5L665.4 47.7M571.0 159.9L670.2 46.2M572.4 165.5L670.2 46.2M566.9 171.2L660.6 51.5M574.1 157.8L661.9 55.4M569.7 167.7L668.2 49.6M570.4 164.9L668.2 49.6M571.0 166.1L667.2 51.1M553.7 162.6L666.5 53.9M565.3 168.3L666.5 53.9M556.8 164.3L663.7 48.8M573.7 162.9L662.1 49.1M573.7 162.9L659.1 49.5M569.7 167.7L659.1 49.5M562.8 167.4L667.8 48.0M562.8 167.4L659.3 49.8M556.8 169.9L661.7 53.8M572.4 165.5L661.7 53.8M571.0 159.9L668.8 48.2M568.3 169.9L662.7 53.4M551.5 167.7L662.7 53.4M573.7 162.9L661.5 49.2M550.9 170.7L659.2 49.5M559.0 166.9L664.5 57.4M571.0 157.6L664.5 57.4M569.7 158.5L664.0 49.3M565.3 168.3L668.8 48.5M551.5 167.7L669.7 45.7M570.4 164.9L666.1 47.2M573.7 162.9L666.2 55.0M562.8 167.4L666.2 55.0M574.1 157.8L658.8 49.7M572.4 165.5L664.0 47.4M572.4 165.5L664.0 47.4M574.1 157.8L662.0 49.2M562.8 167.4L665.8 47.1" fill="none" stroke="#3a8995" stroke-width="1.0" stroke-opacity="0.8" vector-effect="non-scaling-stroke"/>
</g>
<path d="M494.7 220.0L526.1 226.1M495.7 232.4L530.3 223.3M490.2 221.5L548.0 218.8M479.2 229.7L548.0 218.8M484.7 218.8L532.2 219.7M490.2 221.5L535.8 200.5M477.4 238.3L539.5 232.4M477.4 238.3L532.2 203.2M473.2 232.4L538.5 202.3M484.7 223.3L535.8 207.3M494.7 220.0L548.0 218.8M479.2 229.7L530.3 223.3M485.6 215.1L525.8 233.4M475.6 241.2L532.2 203.2M484.7 218.8L532.2 229.7M492.9 228.8L540.0 223.3M495.7 232.4L526.1 226.1M489.3 232.4L409.3 251.8M477.4 238.3L397.4 225.8M474.7 228.8L394.7 237.6M492.9 228.8L433.4 148.8M492.9 228.8L475.6 148.8M473.2 232.4L426.1 152.4M484.7 218.8L425.2 138.8M473.2 232.4L452.9 152.4M484.7 223.3L445.6 143.3M484.7 218.8L427.1 138.8M484.7 223.3L449.3 143.3M492.9 228.8L469.0 148.8M473.2 232.4L439.9 152.4M523.9 254.3L574.4 324.3M531.2 243.4L563.7 313.4M523.5 241.5L540.9 311.5M548.0 218.8L580.7 288.8M548.0 218.8L578.9 288.8M525.8 233.4L547.1 303.4M533.5 242.0L589.8 312.0M538.5 202.3L553.7 272.3M532.5 244.6L569.2 314.6M525.8 249.8L555.3 319.8M490.2 221.5L590.2 261.1M475.6 241.2L575.6 290.1M492.9 228.8L592.9 283.0M479.2 229.7L579.2 278.2M479.2 229.7L579.2 279.0M473.2 232.4L573.2 291.3M484.7 223.3L584.7 276.8M477.4 238.3L577.4 293.4" fill="none" stroke="#dbf3ba" stroke-width="0.9" stroke-opacity="0.9"/>
<path d="M492.9 228.8L412.9 221.6M474.7 228.8L394.7 242.3M475.6 241.2L395.6 226.6M494.7 220.0L414.7 196.4M485.6 215.1L405.6 203.7M477.4 238.3L397.4 233.8M494.7 220.0L414.7 237.9M495.7 232.4L415.7 241.5M494.7 236.1L414.7 249.5M479.2 229.7L459.1 149.7M484.7 218.8L448.6 138.8M474.7 228.8L417.5 148.8M494.7 236.1L451.4 156.1M533.5 242.0L545.5 312.0M515.7 263.8L570.7 333.8M528.0 236.0L578.8 306.0M532.5 244.6L567.1 314.6M523.9 254.3L548.3 324.3M523.5 241.5L565.2 311.5M532.2 203.2L587.5 273.2M532.2 229.7L576.2 299.7M532.2 203.2L580.0 273.2M484.7 218.8L584.7 259.8M494.7 220.0L594.7 278.2M484.7 223.3L584.7 268.9M494.7 220.0L594.7 261.3M473.2 232.4L573.2 273.0M485.6 215.1L585.6 263.5" fill="none" stroke="#a3cfd5" stroke-width="0.9" stroke-opacity="0.85"/>
<path d="M490.2 221.5L539.5 232.4M484.7 223.3L540.0 223.3M475.6 241.2L532.2 219.7M494.7 220.0L535.8 200.5M494.7 236.1L539.5 232.4M492.9 228.8L532.2 203.2M492.9 228.8L539.5 232.4M485.6 215.1L543.6 216.0M492.9 228.8L544.9 201.1M479.2 229.7L535.8 200.5M489.3 232.4L538.5 202.3M485.6 215.1L525.8 233.4M492.9 228.8L543.6 216.0M490.2 221.5L532.2 219.7M477.4 238.3L530.3 223.3M494.7 220.0L534.0 221.5M495.7 232.4L538.5 202.3M477.4 238.3L532.2 229.7M490.2 221.5L539.5 232.4M477.4 238.3L532.2 229.7M477.4 238.3L532.2 229.7M489.3 232.4L538.5 202.3M492.9 228.8L526.1 226.1M484.7 218.8L530.3 223.3M479.2 229.7L544.9 201.1M474.7 228.8L530.3 223.3M479.2 229.7L532.2 219.7M484.7 223.3L530.3 223.3M477.4 238.3L532.2 229.7M494.7 220.0L532.2 219.7M485.6 215.1L535.8 225.1M485.6 215.1L539.5 232.4M492.9 228.8L526.1 226.1M490.2 221.5L526.1 226.1M479.2 229.7L539.5 232.4M489.3 232.4L526.1 226.1M475.6 241.2L535.8 225.1M492.9 228.8L535.8 200.5M490.2 221.5L535.8 200.5M494.7 236.1L539.5 232.4M473.2 232.4L535.8 207.3M484.7 218.8L532.2 229.7M484.7 218.8L544.9 201.1M490.2 221.5L540.0 223.3M479.2 229.7L532.2 229.7M494.7 220.0L532.2 219.7M489.3 232.4L532.2 229.7M492.9 228.8L532.2 203.2M485.6 215.1L532.2 229.7M490.2 221.5L530.3 223.3M492.9 228.8L543.6 216.0M494.7 220.0L532.2 229.7M484.7 218.8L532.2 203.2M479.2 229.7L399.2 258.4M479.2 229.7L399.2 240.9M489.3 232.4L409.3 211.6M475.6 241.2L395.6 250.4M484.7 223.3L404.7 237.1M475.6 241.2L395.6 237.6M489.3 232.4L409.3 229.7M495.7 232.4L415.7 220.4M484.7 223.3L404.7 203.0M494.7 220.0L414.7 221.5M523.9 240.7L553.1 310.7M548.0 218.8L606.8 288.8M534.9 241.2L563.3 311.2M528.5 257.1L546.8 327.1M515.7 263.8L552.2 333.8M532.2 203.2L575.1 273.2M529.4 245.2L572.3 315.2M527.6 243.0L554.5 313.0M535.8 200.5L590.3 270.5M535.8 207.3L555.1 277.3M548.0 218.8L576.0 288.8M540.0 223.3L551.9 293.3M527.6 243.0L577.1 313.0M523.5 241.5L546.0 311.5M548.0 218.8L594.4 288.8M519.4 231.5L545.6 301.5M532.0 246.0L544.0 316.0M532.2 203.2L577.7 273.2M540.0 223.3L593.2 293.3M531.2 243.4L580.9 313.4M523.9 254.3L542.6 324.3M475.6 241.2L575.6 298.2M475.6 241.2L575.6 283.6M495.7 232.4L595.7 279.8M485.6 215.1L585.6 269.8" fill="none" stroke="#3a8995" stroke-width="0.8" stroke-opacity="0.75"/>
</g>
<polyline points="467.4,217.8 468.8,220.6 467.4,222.4 469.2,225.1 466.0,226.0" fill="none" stroke="#222" stroke-width="0.7" stroke-linejoin="round"/>
<polyline points="465.5,250.7 467.4,250.3 470.1,253.4 471.0,257.1 473.8,261.6 475.6,266.2 477.4,269.9 475.6,274.4 473.8,278.1 472.5,281.7" fill="none" stroke="#222" stroke-width="0.7" stroke-linejoin="round"/>
<polyline points="506.6,281.7 508.4,278.1 512.1,277.2 516.6,275.3 519.4,273.5 523.0,274.4 525.8,276.2 529.4,275.3 533.1,274.1 536.7,272.6 540.4,274.4 544.0,273.5 549.5,270.8 555.0,270.8 556.8,269.5" fill="none" stroke="#222" stroke-width="0.7" stroke-linejoin="round"/>
<circle cx="535.8" cy="200.5" r="2.4" fill="#98d4a0" stroke="#141c16" stroke-width="0.7"/>
<circle cx="532.2" cy="203.2" r="2.4" fill="#98d4a0" stroke="#141c16" stroke-width="0.7"/>
<circle cx="538.5" cy="202.3" r="2.4" fill="#98d4a0" stroke="#141c16" stroke-width="0.7"/>
<circle cx="544.9" cy="201.1" r="2.4" fill="#98d4a0" stroke="#141c16" stroke-width="0.7"/>
<circle cx="535.8" cy="207.3" r="2.4" fill="#98d4a0" stroke="#141c16" stroke-width="0.7"/>
<circle cx="485.6" cy="215.1" r="2.4" fill="#98d4a0" stroke="#141c16" stroke-width="0.7"/>
<circle cx="484.7" cy="218.8" r="2.4" fill="#98d4a0" stroke="#141c16" stroke-width="0.7"/>
<circle cx="490.2" cy="221.5" r="2.4" fill="#98d4a0" stroke="#141c16" stroke-width="0.7"/>
<circle cx="494.7" cy="220.0" r="2.4" fill="#98d4a0" stroke="#141c16" stroke-width="0.7"/>
<circle cx="474.7" cy="228.8" r="2.4" fill="#98d4a0" stroke="#141c16" stroke-width="0.7"/>
<circle cx="479.2" cy="229.7" r="2.4" fill="#98d4a0" stroke="#141c16" stroke-width="0.7"/>
<circle cx="473.2" cy="232.4" r="2.4" fill="#98d4a0" stroke="#141c16" stroke-width="0.7"/>
<circle cx="477.4" cy="238.3" r="2.4" fill="#98d4a0" stroke="#141c16" stroke-width="0.7"/>
<circle cx="475.6" cy="241.2" r="2.4" fill="#98d4a0" stroke="#141c16" stroke-width="0.7"/>
<circle cx="501.1" cy="227.3" r="2.4" fill="#98d4a0" stroke="#141c16" stroke-width="0.7"/>
<circle cx="504.8" cy="227.9" r="2.4" fill="#98d4a0" stroke="#141c16" stroke-width="0.7"/>
<circle cx="512.1" cy="228.8" r="2.4" fill="#98d4a0" stroke="#141c16" stroke-width="0.7"/>
<circle cx="511.2" cy="233.4" r="2.4" fill="#98d4a0" stroke="#141c16" stroke-width="0.7"/>
<circle cx="519.4" cy="231.5" r="2.4" fill="#98d4a0" stroke="#141c16" stroke-width="0.7"/>
<circle cx="532.2" cy="219.7" r="2.4" fill="#98d4a0" stroke="#141c16" stroke-width="0.7"/>
<circle cx="534.0" cy="221.5" r="2.4" fill="#98d4a0" stroke="#141c16" stroke-width="0.7"/>
<circle cx="530.3" cy="223.3" r="2.4" fill="#98d4a0" stroke="#141c16" stroke-width="0.7"/>
<circle cx="535.8" cy="225.1" r="2.4" fill="#98d4a0" stroke="#141c16" stroke-width="0.7"/>
<circle cx="540.0" cy="223.3" r="2.4" fill="#98d4a0" stroke="#141c16" stroke-width="0.7"/>
<circle cx="543.6" cy="216.0" r="2.4" fill="#98d4a0" stroke="#141c16" stroke-width="0.7"/>
<circle cx="548.0" cy="218.8" r="2.4" fill="#98d4a0" stroke="#141c16" stroke-width="0.7"/>
<circle cx="532.2" cy="229.7" r="2.4" fill="#98d4a0" stroke="#141c16" stroke-width="0.7"/>
<circle cx="539.5" cy="232.4" r="2.4" fill="#98d4a0" stroke="#141c16" stroke-width="0.7"/>
<circle cx="525.8" cy="233.4" r="2.4" fill="#98d4a0" stroke="#141c16" stroke-width="0.7"/>
<circle cx="536.7" cy="239.7" r="2.4" fill="#98d4a0" stroke="#141c16" stroke-width="0.7"/>
<circle cx="541.3" cy="244.3" r="2.4" fill="#98d4a0" stroke="#141c16" stroke-width="0.7"/>
<circle cx="542.2" cy="248.0" r="2.4" fill="#98d4a0" stroke="#141c16" stroke-width="0.7"/>
<circle cx="525.8" cy="249.8" r="2.4" fill="#98d4a0" stroke="#141c16" stroke-width="0.7"/>
<circle cx="529.4" cy="252.5" r="2.4" fill="#98d4a0" stroke="#141c16" stroke-width="0.7"/>
<circle cx="536.7" cy="248.9" r="2.4" fill="#98d4a0" stroke="#141c16" stroke-width="0.7"/>
<circle cx="523.9" cy="254.3" r="2.4" fill="#98d4a0" stroke="#141c16" stroke-width="0.7"/>
<circle cx="528.5" cy="257.1" r="2.4" fill="#98d4a0" stroke="#141c16" stroke-width="0.7"/>
<circle cx="538.5" cy="258.9" r="2.4" fill="#98d4a0" stroke="#141c16" stroke-width="0.7"/>
<circle cx="533.1" cy="263.5" r="2.4" fill="#98d4a0" stroke="#141c16" stroke-width="0.7"/>
<circle cx="530.3" cy="266.2" r="2.4" fill="#98d4a0" stroke="#141c16" stroke-width="0.7"/>
<circle cx="515.7" cy="263.8" r="2.4" fill="#98d4a0" stroke="#141c16" stroke-width="0.7"/>
<circle cx="549.5" cy="266.8" r="2.4" fill="#98d4a0" stroke="#141c16" stroke-width="0.7"/>
<circle cx="530.7" cy="274.1" r="2.4" fill="#98d4a0" stroke="#141c16" stroke-width="0.7"/>
<circle cx="523.9" cy="239.7" r="2.4" fill="#98d4a0" stroke="#141c16" stroke-width="0.7"/>
<circle cx="494.7" cy="236.1" r="2.4" fill="#98d4a0" stroke="#141c16" stroke-width="0.7"/>
<circle cx="528.0" cy="236.0" r="2.4" fill="#98d4a0" stroke="#141c16" stroke-width="0.7"/>
<circle cx="532.0" cy="246.0" r="2.4" fill="#98d4a0" stroke="#141c16" stroke-width="0.7"/>
<circle cx="521.0" cy="244.0" r="2.4" fill="#98d4a0" stroke="#141c16" stroke-width="0.7"/>
<circle cx="512.0" cy="229.5" r="2.4" fill="#a8dcdc" stroke="#141c16" stroke-width="0.7"/>
<circle cx="513.5" cy="226.5" r="2.4" fill="#a8dcdc" stroke="#141c16" stroke-width="0.7"/>
<circle cx="523.5" cy="241.5" r="2.4" fill="#8a6db0" stroke="#141c16" stroke-width="0.7"/>
<circle cx="526.8" cy="242.2" r="2.4" fill="#8a6db0" stroke="#141c16" stroke-width="0.7"/>
<circle cx="530.2" cy="242.8" r="2.4" fill="#8a6db0" stroke="#141c16" stroke-width="0.7"/>
<circle cx="533.5" cy="242.0" r="2.4" fill="#8a6db0" stroke="#141c16" stroke-width="0.7"/>
<circle cx="528.6" cy="244.8" r="2.4" fill="#8a6db0" stroke="#141c16" stroke-width="0.7"/>
<circle cx="532.5" cy="244.6" r="2.4" fill="#8a6db0" stroke="#141c16" stroke-width="0.7"/>
<circle cx="536.8" cy="243.2" r="2.4" fill="#8a6db0" stroke="#141c16" stroke-width="0.7"/>
<circle cx="484.7" cy="223.3" r="2.4" fill="#8a6db0" stroke="#141c16" stroke-width="0.7"/>
<circle cx="492.9" cy="228.8" r="2.4" fill="#8a6db0" stroke="#141c16" stroke-width="0.7"/>
<circle cx="495.7" cy="232.4" r="2.4" fill="#8a6db0" stroke="#141c16" stroke-width="0.7"/>
<circle cx="489.3" cy="232.4" r="2.4" fill="#8a6db0" stroke="#141c16" stroke-width="0.7"/>
<circle cx="526.1" cy="226.1" r="2.4" fill="#8a6db0" stroke="#141c16" stroke-width="0.7"/>
<circle cx="523.9" cy="240.7" r="2.4" fill="#8a6db0" stroke="#141c16" stroke-width="0.7"/>
<circle cx="527.6" cy="243.0" r="2.4" fill="#8a6db0" stroke="#141c16" stroke-width="0.7"/>
<circle cx="531.2" cy="243.4" r="2.4" fill="#8a6db0" stroke="#141c16" stroke-width="0.7"/>
<circle cx="534.9" cy="241.2" r="2.4" fill="#8a6db0" stroke="#141c16" stroke-width="0.7"/>
<circle cx="540.9" cy="237.9" r="2.4" fill="#8a6db0" stroke="#141c16" stroke-width="0.7"/>
<circle cx="525.8" cy="245.2" r="2.4" fill="#8a6db0" stroke="#141c16" stroke-width="0.7"/>
<circle cx="529.4" cy="245.2" r="2.4" fill="#8a6db0" stroke="#141c16" stroke-width="0.7"/>
<circle cx="534.0" cy="252.5" r="2.4" fill="#8a6db0" stroke="#141c16" stroke-width="0.7"/>
<circle cx="524.9" cy="260.7" r="2.4" fill="#8a6db0" stroke="#141c16" stroke-width="0.7"/>
<circle cx="529.4" cy="261.6" r="2.4" fill="#8a6db0" stroke="#141c16" stroke-width="0.7"/>
<rect x="465.5" y="192.3" width="91.3" height="89.4" fill="none" stroke="#222" stroke-width="1.1"/>
</g>
<g transform="translate(0,0)">
<polyline points="615.4,146.3 622.0,142.5 629.9,139.0 636.0,137.0 642.6,135.4" fill="none" stroke="#dcdcdc" stroke-width="0.5"/>
<polyline points="619.0,146.3 622.6,155.3 619.0,166.2" fill="none" stroke="#dcdcdc" stroke-width="0.5"/>
<polyline points="600.8,162.6 606.3,166.2 617.2,169.8 629.9,168.0 639.0,162.6 646.2,160.8" fill="none" stroke="#dcdcdc" stroke-width="0.5"/>
<polyline points="606.3,166.2 604.5,175.3 600.8,184.4 601.0,189.0" fill="none" stroke="#dcdcdc" stroke-width="0.5"/>
<polyline points="629.9,168.0 633.5,159.0 631.7,149.9 629.9,139.0" fill="none" stroke="#dcdcdc" stroke-width="0.5"/>
<polyline points="639.0,162.6 642.6,153.5 646.2,144.4 649.8,137.2" fill="none" stroke="#dcdcdc" stroke-width="0.5"/>
<polyline points="573.0,155.0 580.9,166.2 591.8,162.6 600.8,162.6" fill="none" stroke="#dcdcdc" stroke-width="0.5"/>
<polyline points="580.0,151.0 590.0,150.0 600.0,148.0 608.0,147.0 615.4,146.3" fill="none" stroke="#dcdcdc" stroke-width="0.5"/>
<polyline points="462.5,107.0 475.0,114.0 488.0,117.0 500.0,118.0 512.0,110.0 522.0,104.0 532.0,98.0 540.0,90.0 546.0,82.0 547.0,77.5" fill="none" stroke="#dcdcdc" stroke-width="0.5"/>
<polyline points="512.0,110.0 522.0,118.0 535.0,122.0 545.0,126.0 553.0,134.0" fill="none" stroke="#dcdcdc" stroke-width="0.5"/>
<polyline points="553.0,134.0 551.0,142.0 549.0,150.0 547.0,158.0 546.5,165.0" fill="none" stroke="#dcdcdc" stroke-width="0.5"/>
<polyline points="546.0,82.0 552.0,92.0 558.0,99.0 564.0,104.0 568.0,110.0" fill="none" stroke="#dcdcdc" stroke-width="0.5"/>
<polyline points="553.0,134.0 558.0,126.0 563.0,118.0 568.0,110.0" fill="none" stroke="#dcdcdc" stroke-width="0.5"/>
<polyline points="547.0,77.5 556.0,87.0 566.0,93.0 576.0,97.0 582.0,101.0" fill="none" stroke="#dcdcdc" stroke-width="0.5"/>
<polyline points="568.0,110.0 576.0,115.0 584.0,118.0 590.0,121.0" fill="none" stroke="#dcdcdc" stroke-width="0.5"/>
<polyline points="547.0,158.0 556.0,159.0 565.0,157.0 573.0,155.0 580.0,151.0" fill="none" stroke="#dcdcdc" stroke-width="0.5"/>
<polyline points="580.0,151.0 586.0,145.0 590.0,137.0 594.0,128.0 590.0,121.0" fill="none" stroke="#dcdcdc" stroke-width="0.5"/>
<polyline points="582.0,101.0 590.0,104.0 596.0,98.0 600.0,92.0 606.0,86.0 614.0,82.0 622.0,75.0 632.0,68.0 640.0,66.0 648.0,67.0 656.0,67.0 662.0,72.0" fill="none" stroke="#dcdcdc" stroke-width="0.5"/>
<polyline points="590.0,121.0 596.0,116.0 598.0,108.0 596.0,98.0" fill="none" stroke="#dcdcdc" stroke-width="0.5"/>
<polyline points="598.0,108.0 604.0,106.0 606.0,98.0 604.0,90.0" fill="none" stroke="#dcdcdc" stroke-width="0.5"/>
<polyline points="594.0,128.0 602.0,131.0 610.0,132.0 618.0,129.0 626.0,126.0" fill="none" stroke="#dcdcdc" stroke-width="0.5"/>
<polyline points="590.0,137.0 598.0,142.0 606.0,145.0 614.0,144.0 620.0,141.0" fill="none" stroke="#dcdcdc" stroke-width="0.5"/>
<polyline points="626.0,126.0 632.0,124.0 638.0,121.0 642.0,117.0" fill="none" stroke="#dcdcdc" stroke-width="0.5"/>
<polyline points="604.0,106.0 612.0,106.0 620.0,104.0 628.0,101.0 634.0,103.0 640.0,112.0" fill="none" stroke="#dcdcdc" stroke-width="0.5"/>
<polyline points="626.0,126.0 630.0,132.0 630.0,138.0" fill="none" stroke="#dcdcdc" stroke-width="0.5"/>
<polyline points="640.0,66.0 640.0,58.0 636.0,50.0 632.0,42.0 630.0,34.0 632.0,26.0 629.0,18.0" fill="none" stroke="#dcdcdc" stroke-width="0.5"/>
<polyline points="656.0,67.0 664.0,66.0 672.0,68.0 676.0,63.0" fill="none" stroke="#dcdcdc" stroke-width="0.5"/>
<polyline points="606.0,98.0 612.0,96.0 618.0,96.0 624.0,92.0 628.0,96.0" fill="none" stroke="#dcdcdc" stroke-width="0.5"/>
<polygon points="450.0,74.3 451.0,72.4 452.8,71.8 454.6,71.1 456.4,70.6 458.0,70.8 459.4,71.9 461.0,72.1 462.3,71.1 464.0,70.9 465.5,70.3 467.8,70.4 470.1,69.7 471.6,69.1 473.3,69.3 474.9,69.1 476.5,68.8 478.2,67.8 480.1,67.5 482.0,67.0 483.1,65.2 483.8,63.3 483.9,61.6 484.3,60.0 483.9,58.3 484.2,56.6 484.2,54.9 484.7,53.3 486.6,52.9 488.4,52.4 490.6,53.2 492.9,53.3 493.9,51.9 494.7,50.5 495.8,49.0 496.5,47.3 497.7,45.9 498.4,44.2 500.3,44.3 502.0,45.1 503.9,45.4 505.7,46.0 507.2,44.7 508.4,43.2 509.5,42.0 510.3,40.5 512.1,39.1 513.9,37.8 515.8,37.4 517.6,37.8 519.1,39.5 520.3,41.4 521.7,42.5 522.8,43.7 523.9,45.1 524.3,47.0 525.4,48.6 525.8,50.5 525.3,52.1 525.1,53.8 525.7,55.5 525.2,57.2 524.9,58.8 526.3,59.7 527.6,60.6 529.5,60.6 531.3,61.4 533.0,62.3 534.9,62.4 536.7,63.4 537.9,64.9 539.5,66.1 540.4,67.8 540.6,69.7 541.3,71.5 542.2,72.9 543.7,73.6 545.0,74.6 545.8,76.1 547.7,76.0 549.4,76.6 551.3,76.3 553.1,77.0 554.9,76.8 556.6,77.2 558.2,77.8 560.0,77.5 561.8,77.7 563.7,78.0 565.5,78.5 567.4,78.3 569.2,79.1 571.0,79.3 572.9,79.6 574.6,80.5 576.3,81.4 578.3,81.2 580.0,82.1 581.9,81.9 583.7,81.7 585.5,81.1 587.4,81.2 589.2,80.3 591.2,80.2 593.0,79.5 594.7,78.4 596.0,77.2 597.8,76.8 599.2,75.7 600.5,74.4 600.9,72.5 602.0,71.1 602.7,69.6 602.8,67.9 603.8,66.6 604.7,63.8 606.5,63.2 608.4,62.9 610.0,61.8 611.5,60.6 612.9,59.3 614.3,58.2 615.1,56.6 616.6,55.6 617.1,53.7 618.1,52.0 618.4,50.1 619.4,48.3 620.2,46.5 619.6,44.7 618.9,42.9 618.4,41.0 619.1,39.5 619.1,37.8 618.9,36.1 619.9,34.7 620.0,33.0 620.5,31.4 621.3,30.0 621.8,28.4 622.6,27.0 623.2,25.4 624.0,24.0 624.8,22.3 626.2,21.0 626.9,19.2 628.4,18.1 629.3,16.4 631.0,15.3 633.0,15.2 634.9,14.6 636.6,13.6 638.4,13.8 640.2,14.3 642.1,14.1 643.9,14.6 645.6,15.7 647.6,16.3 649.4,17.3 650.4,18.7 650.5,20.4 651.7,21.6 652.5,23.1 653.1,24.6 654.1,26.0 655.6,26.9 656.7,28.2 657.8,29.5 659.4,30.5 660.4,31.9 662.2,32.6 664.1,32.6 666.0,32.9 667.7,33.7 669.4,34.4 671.3,34.0 673.1,34.6 675.1,34.1 677.0,33.2 678.6,31.9 680.5,30.6 682.3,29.2 684.1,30.1 683.9,32.0 683.3,33.8 682.3,35.5 681.6,37.5 680.4,39.2 680.7,41.0 680.8,42.9 680.7,44.7 681.4,46.5 682.5,48.3 681.1,49.2 679.6,50.1 678.0,50.5 675.5,52.1 676.2,53.9 677.4,55.5 678.2,57.2 678.7,59.1 678.2,60.8 677.7,62.5 677.4,64.2 676.4,65.6 674.9,66.4 673.5,67.4 672.3,68.6 670.8,69.4 669.5,70.5 668.3,71.7 666.8,72.5 665.8,73.9 664.2,74.7 662.4,75.0 661.2,77.0 660.4,79.1 659.2,80.3 658.1,81.6 657.3,83.2 655.8,85.2 654.5,86.3 653.2,87.3 652.2,88.8 650.7,89.8 649.9,91.4 648.5,92.5 646.5,93.5 645.8,91.4 645.1,89.3 645.3,87.7 646.1,86.2 647.0,84.2 647.6,82.2 645.5,82.8 644.3,84.7 642.5,86.0 640.6,87.3 639.0,89.0 637.7,90.9 636.0,92.5 635.7,94.7 634.5,96.5 635.8,98.4 636.5,100.5 637.9,102.6 640.0,101.1 641.2,100.0 642.5,99.0 644.0,98.5 646.0,98.8 648.1,99.0 649.9,99.2 651.7,99.5 652.2,101.6 650.2,102.1 648.8,103.3 647.1,104.1 645.1,105.7 643.0,107.7 641.5,110.3 640.0,112.0 640.9,114.1 641.7,116.3 642.5,117.9 644.0,119.0 645.1,120.4 646.2,121.8 646.8,123.4 648.0,124.5 649.3,125.6 649.8,127.2 650.3,128.8 651.6,130.0 652.3,131.5 653.5,132.6 655.5,134.0 657.5,135.5 655.5,137.0 655.0,139.5 654.4,142.6 654.6,145.5 654.4,148.1 653.8,149.9 653.2,151.7 652.4,153.5 651.7,155.3 651.0,157.1 650.3,159.0 649.3,160.7 648.9,162.6 648.2,164.6 646.8,166.2 645.5,167.9 644.4,169.8 643.2,171.0 642.3,172.4 641.0,173.5 639.6,174.6 638.3,175.8 637.1,177.1 635.8,178.3 634.0,178.7 632.6,179.8 631.1,180.7 629.6,181.6 628.1,182.5 626.5,183.0 625.2,184.1 623.5,184.4 622.0,184.9 620.5,185.7 619.0,186.2 617.3,186.2 615.8,187.1 614.1,186.9 612.6,187.5 610.8,188.0 609.2,188.7 607.5,189.5 605.8,191.0 605.0,192.8 604.5,191.5 603.2,191.0 601.9,189.3 601.0,188.8 599.3,188.4 597.5,188.4 595.8,188.0 594.1,186.7 592.0,186.0 590.2,185.6 588.7,184.3 587.0,183.6 585.5,182.9 584.0,182.3 582.0,182.2 580.0,182.5 578.4,183.1 576.8,183.9 575.0,184.0 573.3,184.1 571.7,183.6 570.0,183.5 568.3,183.7 566.6,183.7 565.0,183.2 563.9,184.4 562.8,185.9 561.5,187.3 560.4,190.2 558.6,189.7 556.9,189.1 555.2,188.5 553.4,187.9 551.7,187.4 550.4,186.1 551.0,183.2 548.1,182.0 546.4,179.7 546.2,178.1 545.5,176.6 545.2,175.0 543.5,174.2 541.7,173.9 541.6,172.2 542.8,170.9 542.8,169.2 544.2,167.9 545.8,166.8 546.9,165.1 546.3,163.3 545.0,162.0 543.7,160.8 542.0,160.0 540.7,158.7 540.0,157.0 538.6,155.6 537.5,154.0 534.9,152.9 533.3,154.3 531.5,155.3 529.5,155.6 527.7,156.3 525.8,156.9 523.9,157.1 522.0,157.2 519.9,156.6 518.2,155.3 516.6,154.6 515.5,153.1 514.1,152.1 512.4,151.5 510.5,151.3 508.6,150.7 506.7,150.6 505.8,152.0 504.8,153.4 502.9,151.5 501.0,150.8 499.1,150.3 497.2,149.6 495.6,149.2 494.0,149.2 492.4,148.7 490.6,147.9 489.1,146.7 487.3,146.0 485.8,144.8 484.3,143.7 483.2,142.1 481.2,141.6 480.0,140.1 478.5,138.7 477.7,136.7 476.2,135.3 474.1,134.7 472.3,133.6 470.5,132.4 469.1,130.9 467.4,129.8 465.7,128.6 464.5,127.2 463.5,125.8 462.7,124.1 461.8,122.6 461.0,121.0 460.9,119.1 460.8,117.1 460.0,115.3 461.4,114.2 462.8,113.0 463.8,111.5 464.5,109.7 464.8,107.8 464.8,105.8 464.2,104.0 463.2,102.4 461.9,101.0 460.4,100.0 459.3,98.6 458.1,97.2 457.0,95.6 456.3,93.8 455.2,92.2 454.3,90.5 452.9,89.3 452.0,87.8 450.5,86.7 451.8,85.7 453.3,84.8 452.1,83.0 451.3,81.1 450.5,79.1 450.3,77.5 450.3,75.9 450.0,74.3" fill="none" stroke="#161616" stroke-width="0.8" stroke-linejoin="miter" stroke-miterlimit="3"/>
<polyline points="641.5,110.3 641.1,111.5 640.0,112.0 641.2,113.2 641.3,114.8 641.7,116.3 643.3,117.2 644.0,119.0 645.7,119.9 646.2,121.8 647.2,123.1 648.0,124.5 648.3,126.3 649.8,127.2 650.2,128.9 651.6,130.0 652.2,131.6 653.5,132.6 654.8,132.9 655.5,134.0 656.5,134.8 657.5,135.5 656.7,136.6 655.5,137.0 655.8,138.4 655.0,139.5 655.4,141.2 654.4,142.6 655.0,144.0 654.6,145.5 653.7,146.7 654.4,148.1 653.4,149.1 653.1,150.3 653.2,151.7 652.2,152.7 652.7,154.3 651.7,155.3 651.6,156.7 650.6,157.7 650.3,159.0 649.4,160.0 648.8,161.2 648.9,162.6 647.6,163.5 648.1,165.4 646.8,166.2 645.8,167.3 644.9,168.4 644.4,169.8 643.5,170.7 643.1,172.0 641.9,172.6 641.0,173.5 640.5,174.9 638.5,174.7 637.6,175.7 637.1,177.1 635.9,177.7 635.0,178.8 633.3,178.5 632.6,179.8 631.4,180.4 630.0,180.6 628.9,181.3 628.1,182.5 626.9,183.0 625.9,183.6 624.6,183.8 623.5,184.4 622.4,185.0 621.5,185.9 620.3,186.1 619.0,186.2 617.6,185.9 616.6,187.5 615.3,187.8 613.8,187.0 612.6,187.5 611.5,188.4 610.0,188.4 608.8,189.0 607.5,189.5 606.8,190.5 605.8,191.0" fill="none" stroke="#111" stroke-width="0.95" stroke-linejoin="miter"/>
<polygon points="597.5,199.8 596.6,203.3 598.4,205.9 601.5,207.2 604.5,205.9 606.3,203.3 607.6,199.8 607.2,196.7 604.5,195.8 601.0,196.3" fill="none" stroke="#222" stroke-width="0.7"/>
<ellipse cx="656.7" cy="172.3" rx="3.0" ry="8.4" transform="rotate(18 656.7 172.3)" fill="none" stroke="#222" stroke-width="0.7"/>
<line x1="600.5" y1="217.4" x2="603.1" y2="222.6" stroke="#222" stroke-width="0.75"/>
<line x1="605.7" y1="239" x2="606.6" y2="243.3" stroke="#222" stroke-width="0.75"/>
<line x1="595.3" y1="265.7" x2="596.2" y2="270.9" stroke="#222" stroke-width="0.75"/>
<line x1="651.4" y1="202.8" x2="654.0" y2="198.4" stroke="#222" stroke-width="0.75"/>
<line x1="651.4" y1="215.7" x2="651.9" y2="220" stroke="#222" stroke-width="0.75"/>
<line x1="651.4" y1="236.4" x2="652.2" y2="241.6" stroke="#222" stroke-width="0.75"/>
<line x1="635.0" y1="262.2" x2="638.4" y2="258.8" stroke="#222" stroke-width="0.75"/>
<line x1="616.9" y1="282.1" x2="622.1" y2="283.8" stroke="#222" stroke-width="0.75"/>
<line x1="659.5" y1="184" x2="660.0" y2="187.5" stroke="#222" stroke-width="0.75"/>
<line x1="611.0" y1="213" x2="612.8" y2="214.2" stroke="#1a1a1a" stroke-width="0.75"/>
<line x1="612.0" y1="214.2" x2="613.0" y2="212.8" stroke="#1a1a1a" stroke-width="0.75"/>
<line x1="613.8" y1="216.2" x2="615.5" y2="217.2" stroke="#1a1a1a" stroke-width="0.75"/>
<line x1="616.3" y1="213.3" x2="617.6" y2="214.6" stroke="#1a1a1a" stroke-width="0.75"/>
<line x1="612.2" y1="218.3" x2="613.4" y2="219.2" stroke="#1a1a1a" stroke-width="0.75"/>
<line x1="615.5" y1="218.5" x2="616.5" y2="217.8" stroke="#1a1a1a" stroke-width="0.75"/>
<line x1="629.0" y1="243" x2="629.0" y2="245" stroke="#1a1a1a" stroke-width="0.75"/>
<line x1="629.3" y1="246.3" x2="629.3" y2="248.3" stroke="#1a1a1a" stroke-width="0.75"/>
<line x1="628.7" y1="249.4" x2="629.2" y2="251.2" stroke="#1a1a1a" stroke-width="0.75"/>
<line x1="627.8" y1="244" x2="628.6" y2="244.4" stroke="#1a1a1a" stroke-width="0.75"/>
<line x1="636.0" y1="245.2" x2="638.0" y2="244.2" stroke="#1a1a1a" stroke-width="0.75"/>
<line x1="640.0" y1="244.5" x2="642.0" y2="243.5" stroke="#1a1a1a" stroke-width="0.75"/>
<line x1="643.0" y1="245.5" x2="645.0" y2="244.5" stroke="#1a1a1a" stroke-width="0.75"/>
<line x1="638.5" y1="247.2" x2="640.5" y2="246.5" stroke="#1a1a1a" stroke-width="0.75"/>
<line x1="602.5" y1="262.8" x2="604.5" y2="261.5" stroke="#1a1a1a" stroke-width="0.75"/>
<line x1="605.5" y1="261.5" x2="606.5" y2="260.8" stroke="#1a1a1a" stroke-width="0.75"/>
<line x1="619.5" y1="272.6" x2="619.8" y2="276" stroke="#1a1a1a" stroke-width="0.75"/>
<line x1="616.5" y1="282" x2="621.5" y2="283.5" stroke="#1a1a1a" stroke-width="0.75"/>
<line x1="617.0" y1="284.5" x2="621.0" y2="285.5" stroke="#1a1a1a" stroke-width="0.75"/>
<line x1="619.5" y1="199.3" x2="620.8" y2="199.6" stroke="#1a1a1a" stroke-width="0.75"/>
<line x1="622.5" y1="200.2" x2="623.8" y2="200.4" stroke="#1a1a1a" stroke-width="0.75"/>
<ellipse cx="627.2" cy="218.3" rx="2.3" ry="1.2" transform="rotate(-30 627.2 218.3)" fill="none" stroke="#1a1a1a" stroke-width="0.8"/>
<line x1="626.1" y1="255.5" x2="626.1" y2="255.5" stroke="#222" stroke-width="0.6"/>
<line x1="630.0" y1="249.1" x2="630.3" y2="249.7" stroke="#222" stroke-width="0.6"/>
<line x1="615.6" y1="259.8" x2="614.7" y2="260.7" stroke="#222" stroke-width="0.6"/>
<circle cx="630.9" cy="248.7" r="0.45" fill="#222"/>
<line x1="625.8" y1="260.3" x2="626.1" y2="260.3" stroke="#222" stroke-width="0.6"/>
<circle cx="632.2" cy="253.8" r="0.45" fill="#222"/>
<line x1="635.2" y1="252.8" x2="635.0" y2="253.7" stroke="#222" stroke-width="0.6"/>
<circle cx="637.6" cy="246.0" r="0.45" fill="#222"/>
<line x1="615.1" y1="256.7" x2="614.7" y2="255.9" stroke="#222" stroke-width="0.6"/>
<line x1="622.6" y1="262.4" x2="621.9" y2="261.9" stroke="#222" stroke-width="0.6"/>
<line x1="636.1" y1="249.0" x2="636.0" y2="248.4" stroke="#222" stroke-width="0.6"/>
<line x1="634.2" y1="248.2" x2="633.5" y2="248.1" stroke="#222" stroke-width="0.6"/>
<circle cx="621.8" cy="261.0" r="0.45" fill="#222"/>
<line x1="624.4" y1="260.5" x2="623.6" y2="261.5" stroke="#222" stroke-width="0.6"/>
<circle cx="635.4" cy="251.6" r="0.45" fill="#222"/>
<line x1="629.9" y1="250.1" x2="629.6" y2="250.0" stroke="#222" stroke-width="0.6"/>
<line x1="618.7" y1="262.2" x2="618.9" y2="262.0" stroke="#222" stroke-width="0.6"/>
<line x1="640.9" y1="250.1" x2="640.4" y2="250.7" stroke="#222" stroke-width="0.6"/>
<circle cx="630.3" cy="251.0" r="0.45" fill="#222"/>
<circle cx="633.9" cy="247.2" r="0.45" fill="#222"/>
<line x1="630.8" y1="250.8" x2="630.2" y2="249.8" stroke="#222" stroke-width="0.6"/>
<circle cx="620.8" cy="253.6" r="0.45" fill="#222"/>
<circle cx="629.6" cy="248.2" r="0.45" fill="#222"/>
<circle cx="629.9" cy="248.4" r="0.45" fill="#222"/>
<line x1="613.5" y1="261.5" x2="614.4" y2="260.5" stroke="#222" stroke-width="0.6"/>
<line x1="631.4" y1="254.2" x2="631.1" y2="255.2" stroke="#222" stroke-width="0.6"/>
<line x1="623.2" y1="257.6" x2="623.9" y2="257.5" stroke="#222" stroke-width="0.6"/>
<circle cx="629.6" cy="256.6" r="0.45" fill="#222"/>
<circle cx="629.9" cy="256.4" r="0.45" fill="#222"/>
<line x1="624.3" y1="258.5" x2="624.1" y2="259.2" stroke="#222" stroke-width="0.6"/>
<circle cx="615.4" cy="258.8" r="0.45" fill="#222"/>
<circle cx="630.4" cy="254.2" r="0.45" fill="#222"/>
<line x1="633.3" y1="254.5" x2="634.1" y2="254.0" stroke="#222" stroke-width="0.6"/>
<circle cx="632.7" cy="249.4" r="0.45" fill="#222"/>
<circle cx="645.3" cy="220" r="0.5" fill="#222"/>
<circle cx="633.3" cy="227.8" r="0.5" fill="#222"/>
<circle cx="618.0" cy="203" r="0.5" fill="#222"/>
<circle cx="645.0" cy="226" r="0.5" fill="#222"/>
<polygon points="506.1,61.5 572.7,170.6 570.4,175.6 568.8,178.8 567.2,178.5 555.0,168.6 553.4,165.5" fill="#f0f2eb"/>
<polygon points="470.1,70.6 572.7,170.6 570.4,175.6 568.8,178.8 567.2,178.5 555.0,168.6" fill="#f0f2eb"/>
<polygon points="483.4,70.3 572.7,170.6 570.4,175.6 568.8,178.8 567.2,178.5 555.0,168.6" fill="#f0f2eb"/>
<polygon points="489.8,73.4 572.7,170.6 570.4,175.6 568.8,178.8 567.2,178.5 555.0,168.6" fill="#f0f2eb"/>
<polygon points="478.3,80.1 572.7,170.6 570.4,175.6 568.8,178.8 567.2,178.5 555.0,168.6" fill="#f0f2eb"/>
<polygon points="455.5,94.3 567.6,166.5 572.7,170.6 570.4,175.6 568.8,178.8 567.2,178.5" fill="#f0f2eb"/>
<polygon points="470.5,96.5 567.6,166.5 572.7,170.6 570.4,175.6 568.8,178.8 567.2,178.5 555.0,168.6" fill="#f0f2eb"/>
<polygon points="507.5,84.9 572.7,170.6 570.4,175.6 568.8,178.8 567.2,178.5 555.0,168.6" fill="#f0f2eb"/>
<polygon points="511.7,86.5 572.7,170.6 570.4,175.6 568.8,178.8 567.2,178.5 555.0,168.6" fill="#f0f2eb"/>
<polygon points="517.9,81.9 572.7,170.6 570.4,175.6 568.8,178.8 567.2,178.5 555.0,168.6 553.4,165.5" fill="#f0f2eb"/>
<polygon points="540.4,73.4 572.7,170.6 570.4,175.6 568.8,178.8 567.2,178.5 555.0,168.6 553.4,165.5" fill="#f0f2eb"/>
<polygon points="540.4,75.6 572.7,170.6 570.4,175.6 568.8,178.8 567.2,178.5 555.0,168.6 553.4,165.5" fill="#f0f2eb"/>
<polygon points="526.1,106.2 572.7,170.6 570.4,175.6 568.8,178.8 567.2,178.5 555.0,168.6 553.4,165.5" fill="#f0f2eb"/>
<polygon points="532.5,115.0 572.7,170.6 570.4,175.6 568.8,178.8 567.2,178.5 555.0,168.6 553.4,165.5" fill="#f0f2eb"/>
<polygon points="541.8,119.7 572.7,170.6 570.4,175.6 568.8,178.8 567.2,178.5 555.0,168.6 553.4,165.5" fill="#f0f2eb"/>
<polygon points="544.3,108.6 572.7,170.6 570.4,175.6 568.8,178.8 567.2,178.5 555.0,168.6 553.4,165.5" fill="#f0f2eb"/>
<polygon points="553.4,165.5 564.1,94.3 572.7,170.6 570.4,175.6 568.8,178.8 567.2,178.5 555.0,168.6" fill="#f0f2eb"/>
<polygon points="553.4,165.5 629.0,20.0 572.7,170.6 570.4,175.6 568.8,178.8 567.2,178.5 555.0,168.6" fill="#f0f2eb"/>
<polygon points="553.4,165.5 630.6,24.6 572.7,170.6 570.4,175.6 568.8,178.8 567.2,178.5 555.0,168.6" fill="#f0f2eb"/>
<polygon points="553.4,165.5 629.7,29.2 572.7,170.6 570.4,175.6 568.8,178.8 567.2,178.5 555.0,168.6" fill="#f0f2eb"/>
<polygon points="553.4,165.5 641.8,37.0 568.8,178.8 567.2,178.5 555.0,168.6" fill="#f0f2eb"/>
<polygon points="553.4,165.5 668.6,38.8 568.8,178.8 567.2,178.5 555.0,168.6" fill="#f0f2eb"/>
<polygon points="553.4,165.5 628.4,40.5 572.7,170.6 570.4,175.6 568.8,178.8 567.2,178.5 555.0,168.6" fill="#f0f2eb"/>
<polygon points="553.4,165.5 627.0,45.0 572.7,170.6 570.4,175.6 568.8,178.8 567.2,178.5 555.0,168.6" fill="#f0f2eb"/>
<polygon points="553.4,165.5 633.0,46.9 570.4,175.6 568.8,178.8 567.2,178.5 555.0,168.6" fill="#f0f2eb"/>
<polygon points="553.4,165.5 637.6,47.8 568.8,178.8 567.2,178.5 555.0,168.6" fill="#f0f2eb"/>
<polygon points="553.4,165.5 641.6,50.1 568.8,178.8 567.2,178.5 555.0,168.6" fill="#f0f2eb"/>
<polygon points="553.4,165.5 630.3,52.5 570.4,175.6 568.8,178.8 567.2,178.5 555.0,168.6" fill="#f0f2eb"/>
<polygon points="553.4,165.5 652.5,52.3 568.8,178.8 567.2,178.5 555.0,168.6" fill="#f0f2eb"/>
<polygon points="553.4,165.5 634.8,56.5 568.8,178.8 567.2,178.5 555.0,168.6" fill="#f0f2eb"/>
<polygon points="553.4,165.5 631.2,57.4 568.8,178.8 567.2,178.5 555.0,168.6" fill="#f0f2eb"/>
<polygon points="553.4,165.5 622.6,58.4 572.7,170.6 570.4,175.6 568.8,178.8 567.2,178.5 555.0,168.6" fill="#f0f2eb"/>
<polygon points="553.4,165.5 624.2,60.2 572.7,170.6 570.4,175.6 568.8,178.8 567.2,178.5 555.0,168.6" fill="#f0f2eb"/>
<polygon points="553.4,165.5 638.5,60.7 568.8,178.8 567.2,178.5 555.0,168.6" fill="#f0f2eb"/>
<polygon points="553.4,165.5 647.6,63.3 568.8,178.8 567.2,178.5 555.0,168.6" fill="#f0f2eb"/>
<polygon points="553.4,165.5 654.3,64.4 568.8,178.8 567.2,178.5 555.0,168.6" fill="#f0f2eb"/>
<polygon points="553.4,165.5 608.4,64.7 572.7,170.6 570.4,175.6 568.8,178.8 567.2,178.5 555.0,168.6" fill="#f0f2eb"/>
<polygon points="553.4,165.5 609.3,67.5 572.7,170.6 570.4,175.6 568.8,178.8 567.2,178.5 555.0,168.6" fill="#f0f2eb"/>
<polygon points="553.4,165.5 617.5,68.0 572.7,170.6 570.4,175.6 568.8,178.8 567.2,178.5 555.0,168.6" fill="#f0f2eb"/>
<polygon points="553.4,165.5 638.8,68.4 568.8,178.8 567.2,178.5 555.0,168.6" fill="#f0f2eb"/>
<polygon points="553.4,165.5 643.6,68.4 568.8,178.8 567.2,178.5 555.0,168.6" fill="#f0f2eb"/>
<polygon points="553.4,165.5 617.7,73.9 572.7,170.6 570.4,175.6 568.8,178.8 567.2,178.5 555.0,168.6" fill="#f0f2eb"/>
<polygon points="553.4,165.5 613.5,79.7 572.7,170.6 570.4,175.6 568.8,178.8 567.2,178.5 555.0,168.6" fill="#f0f2eb"/>
<polygon points="553.4,165.5 608.9,81.7 572.7,170.6 570.4,175.6 568.8,178.8 567.2,178.5 555.0,168.6" fill="#f0f2eb"/>
<polygon points="553.4,165.5 601.6,81.2 572.7,170.6 570.4,175.6 568.8,178.8 567.2,178.5 555.0,168.6" fill="#f0f2eb"/>
<polygon points="553.4,165.5 602.5,84.5 572.7,170.6 570.4,175.6 568.8,178.8 567.2,178.5 555.0,168.6" fill="#f0f2eb"/>
<polygon points="553.4,165.5 591.9,87.6 572.7,170.6 570.4,175.6 568.8,178.8 567.2,178.5 555.0,168.6" fill="#f0f2eb"/>
<polygon points="553.4,165.5 598.0,88.5 572.7,170.6 570.4,175.6 568.8,178.8 567.2,178.5 555.0,168.6" fill="#f0f2eb"/>
<polygon points="553.4,165.5 607.4,89.9 572.7,170.6 570.4,175.6 568.8,178.8 567.2,178.5 555.0,168.6" fill="#f0f2eb"/>
<polygon points="553.4,165.5 656.7,80.8 568.8,178.8 567.2,178.5 555.0,168.6" fill="#f0f2eb"/>
<polygon points="553.4,165.5 640.3,82.4 568.8,178.8 567.2,178.5 555.0,168.6" fill="#f0f2eb"/>
<polygon points="553.4,165.5 631.2,87.2 568.8,178.8 567.2,178.5 555.0,168.6" fill="#f0f2eb"/>
<polygon points="553.4,165.5 623.0,88.5 568.8,178.8 567.2,178.5 555.0,168.6" fill="#f0f2eb"/>
<polygon points="553.4,165.5 624.8,90.3 568.8,178.8 567.2,178.5 555.0,168.6" fill="#f0f2eb"/>
<polygon points="553.4,165.5 623.0,93.0 568.8,178.8 567.2,178.5 555.0,168.6" fill="#f0f2eb"/>
<polygon points="553.4,165.5 623.9,87.6 568.8,178.8 567.2,178.5 555.0,168.6" fill="#f0f2eb"/>
<polygon points="553.4,165.5 565.1,94.3 572.7,170.6 570.4,175.6 568.8,178.8 567.2,178.5 555.0,168.6" fill="#f0f2eb"/>
<polygon points="553.4,165.5 586.5,100.0 572.7,170.6 570.4,175.6 568.8,178.8 567.2,178.5 555.0,168.6" fill="#f0f2eb"/>
<polygon points="553.4,165.5 625.1,100.3 568.8,178.8 567.2,178.5 555.0,168.6" fill="#f0f2eb"/>
<polygon points="553.4,165.5 633.9,106.7 568.8,178.8 567.2,178.5 555.0,168.6" fill="#f0f2eb"/>
<polygon points="553.4,165.5 627.5,108.2 568.8,178.8 567.2,178.5 555.0,168.6" fill="#f0f2eb"/>
<polygon points="553.4,165.5 642.1,107.1 568.8,178.8 567.2,178.5 555.0,168.6" fill="#f0f2eb"/>
<polygon points="553.4,165.5 567.3,108.5 572.7,170.6 570.4,175.6 568.8,178.8 567.2,178.5 555.0,168.6" fill="#f0f2eb"/>
<polygon points="553.4,165.5 572.2,122.3 572.7,170.6 570.4,175.6 568.8,178.8 567.2,178.5 555.0,168.6" fill="#f0f2eb"/>
<polygon points="553.4,165.5 606.4,123.7 568.8,178.8 567.2,178.5 555.0,168.6" fill="#f0f2eb"/>
<polygon points="553.4,165.5 642.5,122.8 568.8,178.8 567.2,178.5 555.0,168.6" fill="#f0f2eb"/>
<polygon points="553.4,165.5 641.6,127.4 568.8,178.8 567.2,178.5 555.0,168.6" fill="#f0f2eb"/>
<polygon points="553.4,165.5 643.0,128.3 568.8,178.8 567.2,178.5 555.0,168.6" fill="#f0f2eb"/>
<polygon points="532.2,115.5 572.7,170.6 570.4,175.6 568.8,178.8 567.2,178.5 555.0,168.6 553.4,165.5" fill="#f0f2eb"/>
<polygon points="541.6,119.5 572.7,170.6 570.4,175.6 568.8,178.8 567.2,178.5 555.0,168.6 553.4,165.5" fill="#f0f2eb"/>
<polygon points="553.4,165.5 567.6,166.5 572.7,170.6 599.3,201.5 567.2,178.5 555.0,168.6" fill="#f0f2eb"/>
<polygon points="553.4,165.5 567.6,166.5 572.7,170.6 602.3,198.5 567.2,178.5 555.0,168.6" fill="#f0f2eb"/>
<polygon points="553.4,165.5 567.6,166.5 572.7,170.6 605.8,197.6 567.2,178.5 555.0,168.6" fill="#f0f2eb"/>
<polygon points="553.4,165.5 664.6,54.1 568.8,178.8 567.2,178.5 555.0,168.6" fill="#f0f2eb"/>
<polygon points="553.4,165.5 667.0,53.9 568.8,178.8 567.2,178.5 555.0,168.6" fill="#f0f2eb"/>
<polygon points="553.4,165.5 666.4,47.3 568.8,178.8 567.2,178.5 555.0,168.6" fill="#f0f2eb"/>
<polygon points="553.4,165.5 663.7,58.2 568.8,178.8 567.2,178.5 555.0,168.6" fill="#f0f2eb"/>
<polygon points="553.4,165.5 662.5,51.0 568.8,178.8 567.2,178.5 555.0,168.6" fill="#f0f2eb"/>
<polygon points="553.4,165.5 661.2,55.3 568.8,178.8 567.2,178.5 555.0,168.6" fill="#f0f2eb"/>
<polygon points="553.4,165.5 663.4,54.3 568.8,178.8 567.2,178.5 555.0,168.6" fill="#f0f2eb"/>
<polygon points="553.4,165.5 667.2,48.1 568.8,178.8 567.2,178.5 555.0,168.6" fill="#f0f2eb"/>
<polygon points="553.4,165.5 663.2,49.4 568.8,178.8 567.2,178.5 555.0,168.6" fill="#f0f2eb"/>
<polygon points="553.4,165.5 665.8,50.0 568.8,178.8 567.2,178.5 555.0,168.6" fill="#f0f2eb"/>
<polygon points="553.4,165.5 667.0,47.1 568.8,178.8 567.2,178.5 555.0,168.6" fill="#f0f2eb"/>
<polygon points="553.4,165.5 663.6,52.8 568.8,178.8 567.2,178.5 555.0,168.6" fill="#f0f2eb"/>
<polygon points="553.4,165.5 661.5,48.8 568.8,178.8 567.2,178.5 555.0,168.6" fill="#f0f2eb"/>
<polygon points="553.4,165.5 663.0,54.5 568.8,178.8 567.2,178.5 555.0,168.6" fill="#f0f2eb"/>
<polygon points="553.4,165.5 661.9,49.8 568.8,178.8 567.2,178.5 555.0,168.6" fill="#f0f2eb"/>
<polygon points="553.4,165.5 661.7,49.4 568.8,178.8 567.2,178.5 555.0,168.6" fill="#f0f2eb"/>
<polygon points="553.4,165.5 667.1,48.7 568.8,178.8 567.2,178.5 555.0,168.6" fill="#f0f2eb"/>
<polygon points="553.4,165.5 665.4,47.7 568.8,178.8 567.2,178.5 555.0,168.6" fill="#f0f2eb"/>
<polygon points="553.4,165.5 670.2,46.2 568.8,178.8 567.2,178.5 555.0,168.6" fill="#f0f2eb"/>
<polygon points="553.4,165.5 660.6,51.5 568.8,178.8 567.2,178.5 555.0,168.6" fill="#f0f2eb"/>
<polygon points="553.4,165.5 661.9,55.4 568.8,178.8 567.2,178.5 555.0,168.6" fill="#f0f2eb"/>
<polygon points="553.4,165.5 668.2,49.6 568.8,178.8 567.2,178.5 555.0,168.6" fill="#f0f2eb"/>
<polygon points="553.4,165.5 667.2,51.1 568.8,178.8 567.2,178.5 555.0,168.6" fill="#f0f2eb"/>
<polygon points="553.4,165.5 666.5,53.9 568.8,178.8 567.2,178.5 555.0,168.6" fill="#f0f2eb"/>
<polygon points="553.4,165.5 663.7,48.8 568.8,178.8 567.2,178.5 555.0,168.6" fill="#f0f2eb"/>
<polygon points="553.4,165.5 662.1,49.1 568.8,178.8 567.2,178.5 555.0,168.6" fill="#f0f2eb"/>
<polygon points="553.4,165.5 659.1,49.5 568.8,178.8 567.2,178.5 555.0,168.6" fill="#f0f2eb"/>
<polygon points="553.4,165.5 667.8,48.0 568.8,178.8 567.2,178.5 555.0,168.6" fill="#f0f2eb"/>
<polygon points="553.4,165.5 659.3,49.8 568.8,178.8 567.2,178.5 555.0,168.6" fill="#f0f2eb"/>
<polygon points="553.4,165.5 661.7,53.8 568.8,178.8 567.2,178.5 555.0,168.6" fill="#f0f2eb"/>
<polygon points="553.4,165.5 668.8,48.2 568.8,178.8 567.2,178.5 555.0,168.6" fill="#f0f2eb"/>
<polygon points="553.4,165.5 662.7,53.4 568.8,178.8 567.2,178.5 555.0,168.6" fill="#f0f2eb"/>
<polygon points="553.4,165.5 661.5,49.2 568.8,178.8 567.2,178.5 555.0,168.6" fill="#f0f2eb"/>
<polygon points="553.4,165.5 659.2,49.5 568.8,178.8 567.2,178.5 555.0,168.6" fill="#f0f2eb"/>
<polygon points="553.4,165.5 664.5,57.4 568.8,178.8 567.2,178.5 555.0,168.6" fill="#f0f2eb"/>
<polygon points="553.4,165.5 664.0,49.3 568.8,178.8 567.2,178.5 555.0,168.6" fill="#f0f2eb"/>
<polygon points="553.4,165.5 668.8,48.5 568.8,178.8 567.2,178.5 555.0,168.6" fill="#f0f2eb"/>
<polygon points="553.4,165.5 669.7,45.7 568.8,178.8 567.2,178.5 555.0,168.6" fill="#f0f2eb"/>
<polygon points="553.4,165.5 666.1,47.2 568.8,178.8 567.2,178.5 555.0,168.6" fill="#f0f2eb"/>
<polygon points="553.4,165.5 666.2,55.0 568.8,178.8 567.2,178.5 555.0,168.6" fill="#f0f2eb"/>
<polygon points="553.4,165.5 658.8,49.7 568.8,178.8 567.2,178.5 555.0,168.6" fill="#f0f2eb"/>
<polygon points="553.4,165.5 664.0,47.4 568.8,178.8 567.2,178.5 555.0,168.6" fill="#f0f2eb"/>
<polygon points="553.4,165.5 662.0,49.2 568.8,178.8 567.2,178.5 555.0,168.6" fill="#f0f2eb"/>
<polygon points="553.4,165.5 665.8,47.1 568.8,178.8 567.2,178.5 555.0,168.6" fill="#f0f2eb"/>
<polygon points="553.4,165.5 600.5,77.5 572.7,170.6 570.4,175.6 568.8,178.8 567.2,178.5 555.0,168.6" fill="#f0f2eb"/>
<polygon points="553.4,165.5 616.2,121.9 568.8,178.8 567.2,178.5 555.0,168.6" fill="#f0f2eb"/>
<polygon points="553.4,165.5 604.5,85.2 572.7,170.6 570.4,175.6 568.8,178.8 567.2,178.5 555.0,168.6" fill="#f0f2eb"/>
<polyline points="615.4,146.3 622.0,142.5 629.9,139.0 636.0,137.0 642.6,135.4" fill="none" stroke="#dfe1db" stroke-width="0.5"/>
<polyline points="619.0,146.3 622.6,155.3 619.0,166.2" fill="none" stroke="#dfe1db" stroke-width="0.5"/>
<polyline points="600.8,162.6 606.3,166.2 617.2,169.8 629.9,168.0 639.0,162.6 646.2,160.8" fill="none" stroke="#dfe1db" stroke-width="0.5"/>
<polyline points="606.3,166.2 604.5,175.3 600.8,184.4 601.0,189.0" fill="none" stroke="#dfe1db" stroke-width="0.5"/>
<polyline points="629.9,168.0 633.5,159.0 631.7,149.9 629.9,139.0" fill="none" stroke="#dfe1db" stroke-width="0.5"/>
<polyline points="639.0,162.6 642.6,153.5 646.2,144.4 649.8,137.2" fill="none" stroke="#dfe1db" stroke-width="0.5"/>
<polyline points="573.0,155.0 580.9,166.2 591.8,162.6 600.8,162.6" fill="none" stroke="#dfe1db" stroke-width="0.5"/>
<polyline points="580.0,151.0 590.0,150.0 600.0,148.0 608.0,147.0 615.4,146.3" fill="none" stroke="#dfe1db" stroke-width="0.5"/>
<polyline points="462.5,107.0 475.0,114.0 488.0,117.0 500.0,118.0 512.0,110.0 522.0,104.0 532.0,98.0 540.0,90.0 546.0,82.0 547.0,77.5" fill="none" stroke="#dfe1db" stroke-width="0.5"/>
<polyline points="512.0,110.0 522.0,118.0 535.0,122.0 545.0,126.0 553.0,134.0" fill="none" stroke="#dfe1db" stroke-width="0.5"/>
<polyline points="553.0,134.0 551.0,142.0 549.0,150.0 547.0,158.0 546.5,165.0" fill="none" stroke="#dfe1db" stroke-width="0.5"/>
<polyline points="546.0,82.0 552.0,92.0 558.0,99.0 564.0,104.0 568.0,110.0" fill="none" stroke="#dfe1db" stroke-width="0.5"/>
<polyline points="553.0,134.0 558.0,126.0 563.0,118.0 568.0,110.0" fill="none" stroke="#dfe1db" stroke-width="0.5"/>
<polyline points="547.0,77.5 556.0,87.0 566.0,93.0 576.0,97.0 582.0,101.0" fill="none" stroke="#dfe1db" stroke-width="0.5"/>
<polyline points="568.0,110.0 576.0,115.0 584.0,118.0 590.0,121.0" fill="none" stroke="#dfe1db" stroke-width="0.5"/>
<polyline points="547.0,158.0 556.0,159.0 565.0,157.0 573.0,155.0 580.0,151.0" fill="none" stroke="#dfe1db" stroke-width="0.5"/>
<polyline points="580.0,151.0 586.0,145.0 590.0,137.0 594.0,128.0 590.0,121.0" fill="none" stroke="#dfe1db" stroke-width="0.5"/>
<polyline points="582.0,101.0 590.0,104.0 596.0,98.0 600.0,92.0 606.0,86.0 614.0,82.0 622.0,75.0 632.0,68.0 640.0,66.0 648.0,67.0 656.0,67.0 662.0,72.0" fill="none" stroke="#dfe1db" stroke-width="0.5"/>
<polyline points="590.0,121.0 596.0,116.0 598.0,108.0 596.0,98.0" fill="none" stroke="#dfe1db" stroke-width="0.5"/>
<polyline points="598.0,108.0 604.0,106.0 606.0,98.0 604.0,90.0" fill="none" stroke="#dfe1db" stroke-width="0.5"/>
<polyline points="594.0,128.0 602.0,131.0 610.0,132.0 618.0,129.0 626.0,126.0" fill="none" stroke="#dfe1db" stroke-width="0.5"/>
<polyline points="590.0,137.0 598.0,142.0 606.0,145.0 614.0,144.0 620.0,141.0" fill="none" stroke="#dfe1db" stroke-width="0.5"/>
<polyline points="626.0,126.0 632.0,124.0 638.0,121.0 642.0,117.0" fill="none" stroke="#dfe1db" stroke-width="0.5"/>
<polyline points="604.0,106.0 612.0,106.0 620.0,104.0 628.0,101.0 634.0,103.0 640.0,112.0" fill="none" stroke="#dfe1db" stroke-width="0.5"/>
<polyline points="626.0,126.0 630.0,132.0 630.0,138.0" fill="none" stroke="#dfe1db" stroke-width="0.5"/>
<polyline points="640.0,66.0 640.0,58.0 636.0,50.0 632.0,42.0 630.0,34.0 632.0,26.0 629.0,18.0" fill="none" stroke="#dfe1db" stroke-width="0.5"/>
<polyline points="656.0,67.0 664.0,66.0 672.0,68.0 676.0,63.0" fill="none" stroke="#dfe1db" stroke-width="0.5"/>
<polyline points="606.0,98.0 612.0,96.0 618.0,96.0 624.0,92.0 628.0,96.0" fill="none" stroke="#dfe1db" stroke-width="0.5"/>
<path d="M553.4 165.5L566.9 171.5M553.4 165.5L567.5 173.1M556.2 167.4L565.9 172.7M555.3 164.9L567.5 173.1M557.2 168.6L569.4 172.5M556.2 167.4L569.4 172.5M553.4 165.5L569.4 172.5M555.3 164.9L568.2 172.3M555.0 168.6L565.9 172.7M555.0 168.6L565.9 172.7M556.8 164.3L567.5 173.1M556.8 164.3L568.8 173.1M556.8 164.3L567.5 173.1M553.4 165.5L566.9 171.5M557.2 168.6L568.8 173.1M557.2 168.6L568.8 173.1M555.0 168.6L569.4 172.5M556.2 167.4L569.4 172.5M567.6 166.5L569.4 172.5M567.6 166.5L570.7 171.7M567.6 166.5L568.8 173.1M567.6 166.5L571.0 173.7M572.7 170.6L568.2 172.3M572.7 170.6L569.4 172.5M572.7 170.6L570.4 175.6" fill="none" stroke="#3a8995" stroke-width="0.6" stroke-opacity="0.7"/>
<circle cx="542.6" cy="109.6" r="2.1" fill="#8a6db0" stroke="#141c16" stroke-width="0.7"/>
<circle cx="506.1" cy="61.5" r="2.1" fill="#98d4a0" stroke="#141c16" stroke-width="0.7"/>
<circle cx="470.1" cy="70.6" r="2.1" fill="#98d4a0" stroke="#141c16" stroke-width="0.7"/>
<circle cx="483.4" cy="70.3" r="2.1" fill="#98d4a0" stroke="#141c16" stroke-width="0.7"/>
<circle cx="489.8" cy="73.4" r="2.1" fill="#98d4a0" stroke="#141c16" stroke-width="0.7"/>
<circle cx="478.3" cy="80.1" r="2.1" fill="#98d4a0" stroke="#141c16" stroke-width="0.7"/>
<circle cx="455.5" cy="94.3" r="2.1" fill="#98d4a0" stroke="#141c16" stroke-width="0.7"/>
<circle cx="470.5" cy="96.5" r="2.1" fill="#98d4a0" stroke="#141c16" stroke-width="0.7"/>
<circle cx="507.5" cy="84.9" r="2.1" fill="#98d4a0" stroke="#141c16" stroke-width="0.7"/>
<circle cx="511.7" cy="86.5" r="2.1" fill="#98d4a0" stroke="#141c16" stroke-width="0.7"/>
<circle cx="517.9" cy="81.9" r="2.1" fill="#98d4a0" stroke="#141c16" stroke-width="0.7"/>
<circle cx="540.4" cy="73.4" r="2.1" fill="#98d4a0" stroke="#141c16" stroke-width="0.7"/>
<circle cx="540.4" cy="75.6" r="2.1" fill="#98d4a0" stroke="#141c16" stroke-width="0.7"/>
<circle cx="526.1" cy="106.2" r="2.1" fill="#98d4a0" stroke="#141c16" stroke-width="0.7"/>
<circle cx="532.5" cy="115.0" r="2.1" fill="#98d4a0" stroke="#141c16" stroke-width="0.7"/>
<circle cx="541.8" cy="119.7" r="2.1" fill="#98d4a0" stroke="#141c16" stroke-width="0.7"/>
<circle cx="544.3" cy="108.6" r="2.1" fill="#98d4a0" stroke="#141c16" stroke-width="0.7"/>
<circle cx="564.1" cy="94.3" r="2.1" fill="#98d4a0" stroke="#141c16" stroke-width="0.7"/>
<circle cx="629.0" cy="20.0" r="2.1" fill="#98d4a0" stroke="#141c16" stroke-width="0.7"/>
<circle cx="630.6" cy="24.6" r="2.1" fill="#98d4a0" stroke="#141c16" stroke-width="0.7"/>
<circle cx="629.7" cy="29.2" r="2.1" fill="#98d4a0" stroke="#141c16" stroke-width="0.7"/>
<circle cx="641.8" cy="37.0" r="2.1" fill="#98d4a0" stroke="#141c16" stroke-width="0.7"/>
<circle cx="668.6" cy="38.8" r="2.1" fill="#98d4a0" stroke="#141c16" stroke-width="0.7"/>
<circle cx="628.4" cy="40.5" r="2.1" fill="#98d4a0" stroke="#141c16" stroke-width="0.7"/>
<circle cx="627.0" cy="45.0" r="2.1" fill="#98d4a0" stroke="#141c16" stroke-width="0.7"/>
<circle cx="633.0" cy="46.9" r="2.1" fill="#98d4a0" stroke="#141c16" stroke-width="0.7"/>
<circle cx="637.6" cy="47.8" r="2.1" fill="#98d4a0" stroke="#141c16" stroke-width="0.7"/>
<circle cx="641.6" cy="50.1" r="2.1" fill="#98d4a0" stroke="#141c16" stroke-width="0.7"/>
<circle cx="630.3" cy="52.5" r="2.1" fill="#98d4a0" stroke="#141c16" stroke-width="0.7"/>
<circle cx="652.5" cy="52.3" r="2.1" fill="#98d4a0" stroke="#141c16" stroke-width="0.7"/>
<circle cx="634.8" cy="56.5" r="2.1" fill="#98d4a0" stroke="#141c16" stroke-width="0.7"/>
<circle cx="631.2" cy="57.4" r="2.1" fill="#98d4a0" stroke="#141c16" stroke-width="0.7"/>
<circle cx="622.6" cy="58.4" r="2.1" fill="#98d4a0" stroke="#141c16" stroke-width="0.7"/>
<circle cx="624.2" cy="60.2" r="2.1" fill="#98d4a0" stroke="#141c16" stroke-width="0.7"/>
<circle cx="638.5" cy="60.7" r="2.1" fill="#98d4a0" stroke="#141c16" stroke-width="0.7"/>
<circle cx="647.6" cy="63.3" r="2.1" fill="#98d4a0" stroke="#141c16" stroke-width="0.7"/>
<circle cx="654.3" cy="64.4" r="2.1" fill="#98d4a0" stroke="#141c16" stroke-width="0.7"/>
<circle cx="608.4" cy="64.7" r="2.1" fill="#98d4a0" stroke="#141c16" stroke-width="0.7"/>
<circle cx="609.3" cy="67.5" r="2.1" fill="#98d4a0" stroke="#141c16" stroke-width="0.7"/>
<circle cx="617.5" cy="68.0" r="2.1" fill="#98d4a0" stroke="#141c16" stroke-width="0.7"/>
<circle cx="638.8" cy="68.4" r="2.1" fill="#98d4a0" stroke="#141c16" stroke-width="0.7"/>
<circle cx="643.6" cy="68.4" r="2.1" fill="#98d4a0" stroke="#141c16" stroke-width="0.7"/>
<circle cx="617.7" cy="73.9" r="2.1" fill="#98d4a0" stroke="#141c16" stroke-width="0.7"/>
<circle cx="613.5" cy="79.7" r="2.1" fill="#98d4a0" stroke="#141c16" stroke-width="0.7"/>
<circle cx="608.9" cy="81.7" r="2.1" fill="#98d4a0" stroke="#141c16" stroke-width="0.7"/>
<circle cx="601.6" cy="81.2" r="2.1" fill="#98d4a0" stroke="#141c16" stroke-width="0.7"/>
<circle cx="602.5" cy="84.5" r="2.1" fill="#98d4a0" stroke="#141c16" stroke-width="0.7"/>
<circle cx="591.9" cy="87.6" r="2.1" fill="#98d4a0" stroke="#141c16" stroke-width="0.7"/>
<circle cx="598.0" cy="88.5" r="2.1" fill="#98d4a0" stroke="#141c16" stroke-width="0.7"/>
<circle cx="607.4" cy="89.9" r="2.1" fill="#98d4a0" stroke="#141c16" stroke-width="0.7"/>
<circle cx="656.7" cy="80.8" r="2.1" fill="#98d4a0" stroke="#141c16" stroke-width="0.7"/>
<circle cx="640.3" cy="82.4" r="2.1" fill="#98d4a0" stroke="#141c16" stroke-width="0.7"/>
<circle cx="631.2" cy="87.2" r="2.1" fill="#98d4a0" stroke="#141c16" stroke-width="0.7"/>
<circle cx="623.0" cy="88.5" r="2.1" fill="#98d4a0" stroke="#141c16" stroke-width="0.7"/>
<circle cx="624.8" cy="90.3" r="2.1" fill="#98d4a0" stroke="#141c16" stroke-width="0.7"/>
<circle cx="623.0" cy="93.0" r="2.1" fill="#98d4a0" stroke="#141c16" stroke-width="0.7"/>
<circle cx="623.9" cy="87.6" r="2.1" fill="#98d4a0" stroke="#141c16" stroke-width="0.7"/>
<circle cx="565.1" cy="94.3" r="2.1" fill="#98d4a0" stroke="#141c16" stroke-width="0.7"/>
<circle cx="586.5" cy="100.0" r="2.1" fill="#98d4a0" stroke="#141c16" stroke-width="0.7"/>
<circle cx="625.1" cy="100.3" r="2.1" fill="#98d4a0" stroke="#141c16" stroke-width="0.7"/>
<circle cx="633.9" cy="106.7" r="2.1" fill="#98d4a0" stroke="#141c16" stroke-width="0.7"/>
<circle cx="627.5" cy="108.2" r="2.1" fill="#98d4a0" stroke="#141c16" stroke-width="0.7"/>
<circle cx="642.1" cy="107.1" r="2.1" fill="#98d4a0" stroke="#141c16" stroke-width="0.7"/>
<circle cx="567.3" cy="108.5" r="2.1" fill="#98d4a0" stroke="#141c16" stroke-width="0.7"/>
<circle cx="572.2" cy="122.3" r="2.1" fill="#98d4a0" stroke="#141c16" stroke-width="0.7"/>
<circle cx="606.4" cy="123.7" r="2.1" fill="#98d4a0" stroke="#141c16" stroke-width="0.7"/>
<circle cx="642.5" cy="122.8" r="2.1" fill="#98d4a0" stroke="#141c16" stroke-width="0.7"/>
<circle cx="641.6" cy="127.4" r="2.1" fill="#98d4a0" stroke="#141c16" stroke-width="0.7"/>
<circle cx="643.0" cy="128.3" r="2.1" fill="#98d4a0" stroke="#141c16" stroke-width="0.7"/>
<circle cx="532.2" cy="115.5" r="2.1" fill="#98d4a0" stroke="#141c16" stroke-width="0.7"/>
<circle cx="541.6" cy="119.5" r="2.1" fill="#98d4a0" stroke="#141c16" stroke-width="0.7"/>
<circle cx="599.3" cy="201.5" r="2.1" fill="#98d4a0" stroke="#141c16" stroke-width="0.7"/>
<circle cx="602.3" cy="198.5" r="2.1" fill="#98d4a0" stroke="#141c16" stroke-width="0.7"/>
<circle cx="605.8" cy="197.6" r="2.1" fill="#98d4a0" stroke="#141c16" stroke-width="0.7"/>
<circle cx="664.6" cy="54.1" r="2.1" fill="#98d4a0" stroke="#141c16" stroke-width="0.7"/>
<circle cx="667.0" cy="53.9" r="2.1" fill="#98d4a0" stroke="#141c16" stroke-width="0.7"/>
<circle cx="666.4" cy="47.3" r="2.1" fill="#98d4a0" stroke="#141c16" stroke-width="0.7"/>
<circle cx="663.7" cy="58.2" r="2.1" fill="#98d4a0" stroke="#141c16" stroke-width="0.7"/>
<circle cx="662.5" cy="51.0" r="2.1" fill="#98d4a0" stroke="#141c16" stroke-width="0.7"/>
<circle cx="661.2" cy="55.3" r="2.1" fill="#98d4a0" stroke="#141c16" stroke-width="0.7"/>
<circle cx="663.4" cy="54.3" r="2.1" fill="#98d4a0" stroke="#141c16" stroke-width="0.7"/>
<circle cx="667.2" cy="48.1" r="2.1" fill="#98d4a0" stroke="#141c16" stroke-width="0.7"/>
<circle cx="663.2" cy="49.4" r="2.1" fill="#98d4a0" stroke="#141c16" stroke-width="0.7"/>
<circle cx="665.8" cy="50.0" r="2.1" fill="#98d4a0" stroke="#141c16" stroke-width="0.7"/>
<circle cx="667.0" cy="47.1" r="2.1" fill="#98d4a0" stroke="#141c16" stroke-width="0.7"/>
<circle cx="663.6" cy="52.8" r="2.1" fill="#98d4a0" stroke="#141c16" stroke-width="0.7"/>
<circle cx="661.5" cy="48.8" r="2.1" fill="#98d4a0" stroke="#141c16" stroke-width="0.7"/>
<circle cx="663.0" cy="54.5" r="2.1" fill="#98d4a0" stroke="#141c16" stroke-width="0.7"/>
<circle cx="661.9" cy="49.8" r="2.1" fill="#98d4a0" stroke="#141c16" stroke-width="0.7"/>
<circle cx="661.7" cy="49.4" r="2.1" fill="#98d4a0" stroke="#141c16" stroke-width="0.7"/>
<circle cx="667.1" cy="48.7" r="2.1" fill="#98d4a0" stroke="#141c16" stroke-width="0.7"/>
<circle cx="665.4" cy="47.7" r="2.1" fill="#98d4a0" stroke="#141c16" stroke-width="0.7"/>
<circle cx="670.2" cy="46.2" r="2.1" fill="#98d4a0" stroke="#141c16" stroke-width="0.7"/>
<circle cx="660.6" cy="51.5" r="2.1" fill="#98d4a0" stroke="#141c16" stroke-width="0.7"/>
<circle cx="661.9" cy="55.4" r="2.1" fill="#98d4a0" stroke="#141c16" stroke-width="0.7"/>
<circle cx="668.2" cy="49.6" r="2.1" fill="#98d4a0" stroke="#141c16" stroke-width="0.7"/>
<circle cx="667.2" cy="51.1" r="2.1" fill="#98d4a0" stroke="#141c16" stroke-width="0.7"/>
<circle cx="666.5" cy="53.9" r="2.1" fill="#98d4a0" stroke="#141c16" stroke-width="0.7"/>
<circle cx="663.7" cy="48.8" r="2.1" fill="#98d4a0" stroke="#141c16" stroke-width="0.7"/>
<circle cx="662.1" cy="49.1" r="2.1" fill="#98d4a0" stroke="#141c16" stroke-width="0.7"/>
<circle cx="659.1" cy="49.5" r="2.1" fill="#98d4a0" stroke="#141c16" stroke-width="0.7"/>
<circle cx="667.8" cy="48.0" r="2.1" fill="#98d4a0" stroke="#141c16" stroke-width="0.7"/>
<circle cx="659.3" cy="49.8" r="2.1" fill="#98d4a0" stroke="#141c16" stroke-width="0.7"/>
<circle cx="661.7" cy="53.8" r="2.1" fill="#98d4a0" stroke="#141c16" stroke-width="0.7"/>
<circle cx="668.8" cy="48.2" r="2.1" fill="#98d4a0" stroke="#141c16" stroke-width="0.7"/>
<circle cx="662.7" cy="53.4" r="2.1" fill="#98d4a0" stroke="#141c16" stroke-width="0.7"/>
<circle cx="661.5" cy="49.2" r="2.1" fill="#98d4a0" stroke="#141c16" stroke-width="0.7"/>
<circle cx="659.2" cy="49.5" r="2.1" fill="#98d4a0" stroke="#141c16" stroke-width="0.7"/>
<circle cx="664.5" cy="57.4" r="2.1" fill="#98d4a0" stroke="#141c16" stroke-width="0.7"/>
<circle cx="664.0" cy="49.3" r="2.1" fill="#98d4a0" stroke="#141c16" stroke-width="0.7"/>
<circle cx="668.8" cy="48.5" r="2.1" fill="#98d4a0" stroke="#141c16" stroke-width="0.7"/>
<circle cx="669.7" cy="45.7" r="2.1" fill="#98d4a0" stroke="#141c16" stroke-width="0.7"/>
<circle cx="666.1" cy="47.2" r="2.1" fill="#98d4a0" stroke="#141c16" stroke-width="0.7"/>
<circle cx="666.2" cy="55.0" r="2.1" fill="#98d4a0" stroke="#141c16" stroke-width="0.7"/>
<circle cx="658.8" cy="49.7" r="2.1" fill="#98d4a0" stroke="#141c16" stroke-width="0.7"/>
<circle cx="664.0" cy="47.4" r="2.1" fill="#98d4a0" stroke="#141c16" stroke-width="0.7"/>
<circle cx="662.0" cy="49.2" r="2.1" fill="#98d4a0" stroke="#141c16" stroke-width="0.7"/>
<circle cx="665.8" cy="47.1" r="2.1" fill="#98d4a0" stroke="#141c16" stroke-width="0.7"/>
<circle cx="600.5" cy="77.5" r="2.1" fill="#a8dcdc" stroke="#141c16" stroke-width="0.7"/>
<circle cx="616.2" cy="121.9" r="2.1" fill="#a8dcdc" stroke="#141c16" stroke-width="0.7"/>
<circle cx="604.5" cy="85.2" r="2.1" fill="#f3f0b0" stroke="#141c16" stroke-width="0.7"/>
<circle cx="571.0" cy="157.6" r="2.1" fill="#98d4a0" stroke="#141c16" stroke-width="0.7"/>
<circle cx="569.7" cy="158.5" r="2.1" fill="#98d4a0" stroke="#141c16" stroke-width="0.7"/>
<circle cx="571.9" cy="158.2" r="2.1" fill="#98d4a0" stroke="#141c16" stroke-width="0.7"/>
<circle cx="574.1" cy="157.8" r="2.1" fill="#98d4a0" stroke="#141c16" stroke-width="0.7"/>
<circle cx="571.0" cy="159.9" r="2.1" fill="#98d4a0" stroke="#141c16" stroke-width="0.7"/>
<circle cx="553.7" cy="162.6" r="2.1" fill="#98d4a0" stroke="#141c16" stroke-width="0.7"/>
<circle cx="553.4" cy="163.9" r="2.1" fill="#98d4a0" stroke="#141c16" stroke-width="0.7"/>
<circle cx="555.3" cy="164.9" r="2.1" fill="#98d4a0" stroke="#141c16" stroke-width="0.7"/>
<circle cx="556.8" cy="164.3" r="2.1" fill="#98d4a0" stroke="#141c16" stroke-width="0.7"/>
<circle cx="550.0" cy="167.4" r="2.1" fill="#98d4a0" stroke="#141c16" stroke-width="0.7"/>
<circle cx="551.5" cy="167.7" r="2.1" fill="#98d4a0" stroke="#141c16" stroke-width="0.7"/>
<circle cx="549.4" cy="168.6" r="2.1" fill="#98d4a0" stroke="#141c16" stroke-width="0.7"/>
<circle cx="550.9" cy="170.7" r="2.1" fill="#98d4a0" stroke="#141c16" stroke-width="0.7"/>
<circle cx="550.3" cy="171.7" r="2.1" fill="#98d4a0" stroke="#141c16" stroke-width="0.7"/>
<circle cx="559.0" cy="166.9" r="2.1" fill="#98d4a0" stroke="#141c16" stroke-width="0.7"/>
<circle cx="560.3" cy="167.1" r="2.1" fill="#98d4a0" stroke="#141c16" stroke-width="0.7"/>
<circle cx="562.8" cy="167.4" r="2.1" fill="#98d4a0" stroke="#141c16" stroke-width="0.7"/>
<circle cx="562.5" cy="169.0" r="2.1" fill="#98d4a0" stroke="#141c16" stroke-width="0.7"/>
<circle cx="565.3" cy="168.3" r="2.1" fill="#98d4a0" stroke="#141c16" stroke-width="0.7"/>
<circle cx="569.7" cy="164.2" r="2.1" fill="#98d4a0" stroke="#141c16" stroke-width="0.7"/>
<circle cx="570.4" cy="164.9" r="2.1" fill="#98d4a0" stroke="#141c16" stroke-width="0.7"/>
<circle cx="569.1" cy="165.5" r="2.1" fill="#98d4a0" stroke="#141c16" stroke-width="0.7"/>
<circle cx="571.0" cy="166.1" r="2.1" fill="#98d4a0" stroke="#141c16" stroke-width="0.7"/>
<circle cx="572.4" cy="165.5" r="2.1" fill="#98d4a0" stroke="#141c16" stroke-width="0.7"/>
<circle cx="573.7" cy="162.9" r="2.1" fill="#98d4a0" stroke="#141c16" stroke-width="0.7"/>
<circle cx="575.2" cy="163.9" r="2.1" fill="#98d4a0" stroke="#141c16" stroke-width="0.7"/>
<circle cx="569.7" cy="167.7" r="2.1" fill="#98d4a0" stroke="#141c16" stroke-width="0.7"/>
<circle cx="572.3" cy="168.6" r="2.1" fill="#98d4a0" stroke="#141c16" stroke-width="0.7"/>
<circle cx="567.5" cy="169.0" r="2.1" fill="#98d4a0" stroke="#141c16" stroke-width="0.7"/>
<circle cx="571.3" cy="171.2" r="2.1" fill="#98d4a0" stroke="#141c16" stroke-width="0.7"/>
<circle cx="572.9" cy="172.8" r="2.1" fill="#98d4a0" stroke="#141c16" stroke-width="0.7"/>
<circle cx="573.2" cy="174.1" r="2.1" fill="#98d4a0" stroke="#141c16" stroke-width="0.7"/>
<circle cx="567.5" cy="174.7" r="2.1" fill="#98d4a0" stroke="#141c16" stroke-width="0.7"/>
<circle cx="568.8" cy="175.6" r="2.1" fill="#98d4a0" stroke="#141c16" stroke-width="0.7"/>
<circle cx="571.3" cy="174.4" r="2.1" fill="#98d4a0" stroke="#141c16" stroke-width="0.7"/>
<circle cx="566.9" cy="176.3" r="2.1" fill="#98d4a0" stroke="#141c16" stroke-width="0.7"/>
<circle cx="568.5" cy="177.2" r="2.1" fill="#98d4a0" stroke="#141c16" stroke-width="0.7"/>
<circle cx="571.9" cy="177.9" r="2.1" fill="#98d4a0" stroke="#141c16" stroke-width="0.7"/>
<circle cx="570.0" cy="179.5" r="2.1" fill="#98d4a0" stroke="#141c16" stroke-width="0.7"/>
<circle cx="569.1" cy="180.4" r="2.1" fill="#98d4a0" stroke="#141c16" stroke-width="0.7"/>
<circle cx="564.1" cy="179.6" r="2.1" fill="#98d4a0" stroke="#141c16" stroke-width="0.7"/>
<circle cx="575.7" cy="180.6" r="2.1" fill="#98d4a0" stroke="#141c16" stroke-width="0.7"/>
<circle cx="569.2" cy="183.2" r="2.1" fill="#98d4a0" stroke="#141c16" stroke-width="0.7"/>
<circle cx="566.9" cy="171.2" r="2.1" fill="#98d4a0" stroke="#141c16" stroke-width="0.7"/>
<circle cx="556.8" cy="169.9" r="2.1" fill="#98d4a0" stroke="#141c16" stroke-width="0.7"/>
<circle cx="568.3" cy="169.9" r="2.1" fill="#98d4a0" stroke="#141c16" stroke-width="0.7"/>
<circle cx="569.7" cy="173.4" r="2.1" fill="#98d4a0" stroke="#141c16" stroke-width="0.7"/>
<circle cx="565.9" cy="172.7" r="2.1" fill="#98d4a0" stroke="#141c16" stroke-width="0.7"/>
<circle cx="566.7" cy="171.8" r="2.1" fill="#8a6db0" stroke="#141c16" stroke-width="0.7"/>
<circle cx="567.9" cy="172.1" r="2.1" fill="#8a6db0" stroke="#141c16" stroke-width="0.7"/>
<circle cx="569.1" cy="172.3" r="2.1" fill="#8a6db0" stroke="#141c16" stroke-width="0.7"/>
<circle cx="570.2" cy="172.0" r="2.1" fill="#8a6db0" stroke="#141c16" stroke-width="0.7"/>
<circle cx="568.5" cy="173.0" r="2.1" fill="#8a6db0" stroke="#141c16" stroke-width="0.7"/>
<circle cx="569.8" cy="172.9" r="2.1" fill="#8a6db0" stroke="#141c16" stroke-width="0.7"/>
<circle cx="571.3" cy="172.4" r="2.1" fill="#8a6db0" stroke="#141c16" stroke-width="0.7"/>
<circle cx="553.4" cy="165.5" r="2.1" fill="#8a6db0" stroke="#141c16" stroke-width="0.7"/>
<circle cx="556.2" cy="167.4" r="2.1" fill="#8a6db0" stroke="#141c16" stroke-width="0.7"/>
<circle cx="557.2" cy="168.6" r="2.1" fill="#8a6db0" stroke="#141c16" stroke-width="0.7"/>
<circle cx="555.0" cy="168.6" r="2.1" fill="#8a6db0" stroke="#141c16" stroke-width="0.7"/>
<circle cx="567.6" cy="166.5" r="2.1" fill="#8a6db0" stroke="#141c16" stroke-width="0.7"/>
<circle cx="566.9" cy="171.5" r="2.1" fill="#8a6db0" stroke="#141c16" stroke-width="0.7"/>
<circle cx="568.2" cy="172.3" r="2.1" fill="#8a6db0" stroke="#141c16" stroke-width="0.7"/>
<circle cx="569.4" cy="172.5" r="2.1" fill="#8a6db0" stroke="#141c16" stroke-width="0.7"/>
<circle cx="570.7" cy="171.7" r="2.1" fill="#8a6db0" stroke="#141c16" stroke-width="0.7"/>
<circle cx="572.7" cy="170.6" r="2.1" fill="#8a6db0" stroke="#141c16" stroke-width="0.7"/>
<circle cx="567.5" cy="173.1" r="2.1" fill="#8a6db0" stroke="#141c16" stroke-width="0.7"/>
<circle cx="568.8" cy="173.1" r="2.1" fill="#8a6db0" stroke="#141c16" stroke-width="0.7"/>
<circle cx="570.4" cy="175.6" r="2.1" fill="#8a6db0" stroke="#141c16" stroke-width="0.7"/>
<circle cx="567.2" cy="178.5" r="2.1" fill="#8a6db0" stroke="#141c16" stroke-width="0.7"/>
<circle cx="568.8" cy="178.8" r="2.1" fill="#8a6db0" stroke="#141c16" stroke-width="0.7"/>
<rect x="546.8" y="154.7" width="31.4" height="31.1" stroke="#111" stroke-width="0.95" stroke-dasharray="2.8 1.9" fill="none"/>
<line x1="465.5" y1="192.3" x2="546.8" y2="154.7" stroke="#111" stroke-width="0.95" stroke-dasharray="2.8 1.9" fill="none"/>
<line x1="556.8" y1="281.7" x2="578.2" y2="185.8" stroke="#111" stroke-width="0.95" stroke-dasharray="2.8 1.9" fill="none"/>
<rect x="465.5" y="192.3" width="91.3" height="89.4" fill="#fff"/>
<g clip-path="url(#insclip)"><g transform="translate(-1124.399,-252.400) scale(2.9076,2.8746)">
<polygon points="506.1,61.5 572.7,170.6 570.4,175.6 568.8,178.8 567.2,178.5 555.0,168.6 553.4,165.5" fill="#f0f2eb"/>
<polygon points="470.1,70.6 572.7,170.6 570.4,175.6 568.8,178.8 567.2,178.5 555.0,168.6" fill="#f0f2eb"/>
<polygon points="483.4,70.3 572.7,170.6 570.4,175.6 568.8,178.8 567.2,178.5 555.0,168.6" fill="#f0f2eb"/>
<polygon points="489.8,73.4 572.7,170.6 570.4,175.6 568.8,178.8 567.2,178.5 555.0,168.6" fill="#f0f2eb"/>
<polygon points="478.3,80.1 572.7,170.6 570.4,175.6 568.8,178.8 567.2,178.5 555.0,168.6" fill="#f0f2eb"/>
<polygon points="455.5,94.3 567.6,166.5 572.7,170.6 570.4,175.6 568.8,178.8 567.2,178.5" fill="#f0f2eb"/>
<polygon points="470.5,96.5 567.6,166.5 572.7,170.6 570.4,175.6 568.8,178.8 567.2,178.5 555.0,168.6" fill="#f0f2eb"/>
<polygon points="507.5,84.9 572.7,170.6 570.4,175.6 568.8,178.8 567.2,178.5 555.0,168.6" fill="#f0f2eb"/>
<polygon points="511.7,86.5 572.7,170.6 570.4,175.6 568.8,178.8 567.2,178.5 555.0,168.6" fill="#f0f2eb"/>
<polygon points="517.9,81.9 572.7,170.6 570.4,175.6 568.8,178.8 567.2,178.5 555.0,168.6 553.4,165.5" fill="#f0f2eb"/>
<polygon points="540.4,73.4 572.7,170.6 570.4,175.6 568.8,178.8 567.2,178.5 555.0,168.6 553.4,165.5" fill="#f0f2eb"/>
<polygon points="540.4,75.6 572.7,170.6 570.4,175.6 568.8,178.8 567.2,178.5 555.0,168.6 553.4,165.5" fill="#f0f2eb"/>
<polygon points="526.1,106.2 572.7,170.6 570.4,175.6 568.8,178.8 567.2,178.5 555.0,168.6 553.4,165.5" fill="#f0f2eb"/>
<polygon points="532.5,115.0 572.7,170.6 570.4,175.6 568.8,178.8 567.2,178.5 555.0,168.6 553.4,165.5" fill="#f0f2eb"/>
<polygon points="541.8,119.7 572.7,170.6 570.4,175.6 568.8,178.8 567.2,178.5 555.0,168.6 553.4,165.5" fill="#f0f2eb"/>
<polygon points="544.3,108.6 572.7,170.6 570.4,175.6 568.8,178.8 567.2,178.5 555.0,168.6 553.4,165.5" fill="#f0f2eb"/>
<polygon points="553.4,165.5 564.1,94.3 572.7,170.6 570.4,175.6 568.8,178.8 567.2,178.5 555.0,168.6" fill="#f0f2eb"/>
<polygon points="553.4,165.5 629.0,20.0 572.7,170.6 570.4,175.6 568.8,178.8 567.2,178.5 555.0,168.6" fill="#f0f2eb"/>
<polygon points="553.4,165.5 630.6,24.6 572.7,170.6 570.4,175.6 568.8,178.8 567.2,178.5 555.0,168.6" fill="#f0f2eb"/>
<polygon points="553.4,165.5 629.7,29.2 572.7,170.6 570.4,175.6 568.8,178.8 567.2,178.5 555.0,168.6" fill="#f0f2eb"/>
<polygon points="553.4,165.5 641.8,37.0 568.8,178.8 567.2,178.5 555.0,168.6" fill="#f0f2eb"/>
<polygon points="553.4,165.5 668.6,38.8 568.8,178.8 567.2,178.5 555.0,168.6" fill="#f0f2eb"/>
<polygon points="553.4,165.5 628.4,40.5 572.7,170.6 570.4,175.6 568.8,178.8 567.2,178.5 555.0,168.6" fill="#f0f2eb"/>
<polygon points="553.4,165.5 627.0,45.0 572.7,170.6 570.4,175.6 568.8,178.8 567.2,178.5 555.0,168.6" fill="#f0f2eb"/>
<polygon points="553.4,165.5 633.0,46.9 570.4,175.6 568.8,178.8 567.2,178.5 555.0,168.6" fill="#f0f2eb"/>
<polygon points="553.4,165.5 637.6,47.8 568.8,178.8 567.2,178.5 555.0,168.6" fill="#f0f2eb"/>
<polygon points="553.4,165.5 641.6,50.1 568.8,178.8 567.2,178.5 555.0,168.6" fill="#f0f2eb"/>
<polygon points="553.4,165.5 630.3,52.5 570.4,175.6 568.8,178.8 567.2,178.5 555.0,168.6" fill="#f0f2eb"/>
<polygon points="553.4,165.5 652.5,52.3 568.8,178.8 567.2,178.5 555.0,168.6" fill="#f0f2eb"/>
<polygon points="553.4,165.5 634.8,56.5 568.8,178.8 567.2,178.5 555.0,168.6" fill="#f0f2eb"/>
<polygon points="553.4,165.5 631.2,57.4 568.8,178.8 567.2,178.5 555.0,168.6" fill="#f0f2eb"/>
<polygon points="553.4,165.5 622.6,58.4 572.7,170.6 570.4,175.6 568.8,178.8 567.2,178.5 555.0,168.6" fill="#f0f2eb"/>
<polygon points="553.4,165.5 624.2,60.2 572.7,170.6 570.4,175.6 568.8,178.8 567.2,178.5 555.0,168.6" fill="#f0f2eb"/>
<polygon points="553.4,165.5 638.5,60.7 568.8,178.8 567.2,178.5 555.0,168.6" fill="#f0f2eb"/>
<polygon points="553.4,165.5 647.6,63.3 568.8,178.8 567.2,178.5 555.0,168.6" fill="#f0f2eb"/>
<polygon points="553.4,165.5 654.3,64.4 568.8,178.8 567.2,178.5 555.0,168.6" fill="#f0f2eb"/>
<polygon points="553.4,165.5 608.4,64.7 572.7,170.6 570.4,175.6 568.8,178.8 567.2,178.5 555.0,168.6" fill="#f0f2eb"/>
<polygon points="553.4,165.5 609.3,67.5 572.7,170.6 570.4,175.6 568.8,178.8 567.2,178.5 555.0,168.6" fill="#f0f2eb"/>
<polygon points="553.4,165.5 617.5,68.0 572.7,170.6 570.4,175.6 568.8,178.8 567.2,178.5 555.0,168.6" fill="#f0f2eb"/>
<polygon points="553.4,165.5 638.8,68.4 568.8,178.8 567.2,178.5 555.0,168.6" fill="#f0f2eb"/>
<polygon points="553.4,165.5 643.6,68.4 568.8,178.8 567.2,178.5 555.0,168.6" fill="#f0f2eb"/>
<polygon points="553.4,165.5 617.7,73.9 572.7,170.6 570.4,175.6 568.8,178.8 567.2,178.5 555.0,168.6" fill="#f0f2eb"/>
<polygon points="553.4,165.5 613.5,79.7 572.7,170.6 570.4,175.6 568.8,178.8 567.2,178.5 555.0,168.6" fill="#f0f2eb"/>
<polygon points="553.4,165.5 608.9,81.7 572.7,170.6 570.4,175.6 568.8,178.8 567.2,178.5 555.0,168.6" fill="#f0f2eb"/>
<polygon points="553.4,165.5 601.6,81.2 572.7,170.6 570.4,175.6 568.8,178.8 567.2,178.5 555.0,168.6" fill="#f0f2eb"/>
<polygon points="553.4,165.5 602.5,84.5 572.7,170.6 570.4,175.6 568.8,178.8 567.2,178.5 555.0,168.6" fill="#f0f2eb"/>
<polygon points="553.4,165.5 591.9,87.6 572.7,170.6 570.4,175.6 568.8,178.8 567.2,178.5 555.0,168.6" fill="#f0f2eb"/>
<polygon points="553.4,165.5 598.0,88.5 572.7,170.6 570.4,175.6 568.8,178.8 567.2,178.5 555.0,168.6" fill="#f0f2eb"/>
<polygon points="553.4,165.5 607.4,89.9 572.7,170.6 570.4,175.6 568.8,178.8 567.2,178.5 555.0,168.6" fill="#f0f2eb"/>
<polygon points="553.4,165.5 656.7,80.8 568.8,178.8 567.2,178.5 555.0,168.6" fill="#f0f2eb"/>
<polygon points="553.4,165.5 640.3,82.4 568.8,178.8 567.2,178.5 555.0,168.6" fill="#f0f2eb"/>
<polygon points="553.4,165.5 631.2,87.2 568.8,178.8 567.2,178.5 555.0,168.6" fill="#f0f2eb"/>
<polygon points="553.4,165.5 623.0,88.5 568.8,178.8 567.2,178.5 555.0,168.6" fill="#f0f2eb"/>
<polygon points="553.4,165.5 624.8,90.3 568.8,178.8 567.2,178.5 555.0,168.6" fill="#f0f2eb"/>
<polygon points="553.4,165.5 623.0,93.0 568.8,178.8 567.2,178.5 555.0,168.6" fill="#f0f2eb"/>
<polygon points="553.4,165.5 623.9,87.6 568.8,178.8 567.2,178.5 555.0,168.6" fill="#f0f2eb"/>
<polygon points="553.4,165.5 565.1,94.3 572.7,170.6 570.4,175.6 568.8,178.8 567.2,178.5 555.0,168.6" fill="#f0f2eb"/>
<polygon points="553.4,165.5 586.5,100.0 572.7,170.6 570.4,175.6 568.8,178.8 567.2,178.5 555.0,168.6" fill="#f0f2eb"/>
<polygon points="553.4,165.5 625.1,100.3 568.8,178.8 567.2,178.5 555.0,168.6" fill="#f0f2eb"/>
<polygon points="553.4,165.5 633.9,106.7 568.8,178.8 567.2,178.5 555.0,168.6" fill="#f0f2eb"/>
<polygon points="553.4,165.5 627.5,108.2 568.8,178.8 567.2,178.5 555.0,168.6" fill="#f0f2eb"/>
<polygon points="553.4,165.5 642.1,107.1 568.8,178.8 567.2,178.5 555.0,168.6" fill="#f0f2eb"/>
<polygon points="553.4,165.5 567.3,108.5 572.7,170.6 570.4,175.6 568.8,178.8 567.2,178.5 555.0,168.6" fill="#f0f2eb"/>
<polygon points="553.4,165.5 572.2,122.3 572.7,170.6 570.4,175.6 568.8,178.8 567.2,178.5 555.0,168.6" fill="#f0f2eb"/>
<polygon points="553.4,165.5 606.4,123.7 568.8,178.8 567.2,178.5 555.0,168.6" fill="#f0f2eb"/>
<polygon points="553.4,165.5 642.5,122.8 568.8,178.8 567.2,178.5 555.0,168.6" fill="#f0f2eb"/>
<polygon points="553.4,165.5 641.6,127.4 568.8,178.8 567.2,178.5 555.0,168.6" fill="#f0f2eb"/>
<polygon points="553.4,165.5 643.0,128.3 568.8,178.8 567.2,178.5 555.0,168.6" fill="#f0f2eb"/>
<polygon points="532.2,115.5 572.7,170.6 570.4,175.6 568.8,178.8 567.2,178.5 555.0,168.6 553.4,165.5" fill="#f0f2eb"/>
<polygon points="541.6,119.5 572.7,170.6 570.4,175.6 568.8,178.8 567.2,178.5 555.0,168.6 553.4,165.5" fill="#f0f2eb"/>
<polygon points="553.4,165.5 567.6,166.5 572.7,170.6 599.3,201.5 567.2,178.5 555.0,168.6" fill="#f0f2eb"/>
<polygon points="553.4,165.5 567.6,166.5 572.7,170.6 602.3,198.5 567.2,178.5 555.0,168.6" fill="#f0f2eb"/>
<polygon points="553.4,165.5 567.6,166.5 572.7,170.6 605.8,197.6 567.2,178.5 555.0,168.6" fill="#f0f2eb"/>
<polygon points="553.4,165.5 664.6,54.1 568.8,178.8 567.2,178.5 555.0,168.6" fill="#f0f2eb"/>
<polygon points="553.4,165.5 667.0,53.9 568.8,178.8 567.2,178.5 555.0,168.6" fill="#f0f2eb"/>
<polygon points="553.4,165.5 666.4,47.3 568.8,178.8 567.2,178.5 555.0,168.6" fill="#f0f2eb"/>
<polygon points="553.4,165.5 663.7,58.2 568.8,178.8 567.2,178.5 555.0,168.6" fill="#f0f2eb"/>
<polygon points="553.4,165.5 662.5,51.0 568.8,178.8 567.2,178.5 555.0,168.6" fill="#f0f2eb"/>
<polygon points="553.4,165.5 661.2,55.3 568.8,178.8 567.2,178.5 555.0,168.6" fill="#f0f2eb"/>
<polygon points="553.4,165.5 663.4,54.3 568.8,178.8 567.2,178.5 555.0,168.6" fill="#f0f2eb"/>
<polygon points="553.4,165.5 667.2,48.1 568.8,178.8 567.2,178.5 555.0,168.6" fill="#f0f2eb"/>
<polygon points="553.4,165.5 663.2,49.4 568.8,178.8 567.2,178.5 555.0,168.6" fill="#f0f2eb"/>
<polygon points="553.4,165.5 665.8,50.0 568.8,178.8 567.2,178.5 555.0,168.6" fill="#f0f2eb"/>
<polygon points="553.4,165.5 667.0,47.1 568.8,178.8 567.2,178.5 555.0,168.6" fill="#f0f2eb"/>
<polygon points="553.4,165.5 663.6,52.8 568.8,178.8 567.2,178.5 555.0,168.6" fill="#f0f2eb"/>
<polygon points="553.4,165.5 661.5,48.8 568.8,178.8 567.2,178.5 555.0,168.6" fill="#f0f2eb"/>
<polygon points="553.4,165.5 663.0,54.5 568.8,178.8 567.2,178.5 555.0,168.6" fill="#f0f2eb"/>
<polygon points="553.4,165.5 661.9,49.8 568.8,178.8 567.2,178.5 555.0,168.6" fill="#f0f2eb"/>
<polygon points="553.4,165.5 661.7,49.4 568.8,178.8 567.2,178.5 555.0,168.6" fill="#f0f2eb"/>
<polygon points="553.4,165.5 667.1,48.7 568.8,178.8 567.2,178.5 555.0,168.6" fill="#f0f2eb"/>
<polygon points="553.4,165.5 665.4,47.7 568.8,178.8 567.2,178.5 555.0,168.6" fill="#f0f2eb"/>
<polygon points="553.4,165.5 670.2,46.2 568.8,178.8 567.2,178.5 555.0,168.6" fill="#f0f2eb"/>
<polygon points="553.4,165.5 660.6,51.5 568.8,178.8 567.2,178.5 555.0,168.6" fill="#f0f2eb"/>
<polygon points="553.4,165.5 661.9,55.4 568.8,178.8 567.2,178.5 555.0,168.6" fill="#f0f2eb"/>
<polygon points="553.4,165.5 668.2,49.6 568.8,178.8 567.2,178.5 555.0,168.6" fill="#f0f2eb"/>
<polygon points="553.4,165.5 667.2,51.1 568.8,178.8 567.2,178.5 555.0,168.6" fill="#f0f2eb"/>
<polygon points="553.4,165.5 666.5,53.9 568.8,178.8 567.2,178.5 555.0,168.6" fill="#f0f2eb"/>
<polygon points="553.4,165.5 663.7,48.8 568.8,178.8 567.2,178.5 555.0,168.6" fill="#f0f2eb"/>
<polygon points="553.4,165.5 662.1,49.1 568.8,178.8 567.2,178.5 555.0,168.6" fill="#f0f2eb"/>
<polygon points="553.4,165.5 659.1,49.5 568.8,178.8 567.2,178.5 555.0,168.6" fill="#f0f2eb"/>
<polygon points="553.4,165.5 667.8,48.0 568.8,178.8 567.2,178.5 555.0,168.6" fill="#f0f2eb"/>
<polygon points="553.4,165.5 659.3,49.8 568.8,178.8 567.2,178.5 555.0,168.6" fill="#f0f2eb"/>
<polygon points="553.4,165.5 661.7,53.8 568.8,178.8 567.2,178.5 555.0,168.6" fill="#f0f2eb"/>
<polygon points="553.4,165.5 668.8,48.2 568.8,178.8 567.2,178.5 555.0,168.6" fill="#f0f2eb"/>
<polygon points="553.4,165.5 662.7,53.4 568.8,178.8 567.2,178.5 555.0,168.6" fill="#f0f2eb"/>
<polygon points="553.4,165.5 661.5,49.2 568.8,178.8 567.2,178.5 555.0,168.6" fill="#f0f2eb"/>
<polygon points="553.4,165.5 659.2,49.5 568.8,178.8 567.2,178.5 555.0,168.6" fill="#f0f2eb"/>
<polygon points="553.4,165.5 664.5,57.4 568.8,178.8 567.2,178.5 555.0,168.6" fill="#f0f2eb"/>
<polygon points="553.4,165.5 664.0,49.3 568.8,178.8 567.2,178.5 555.0,168.6" fill="#f0f2eb"/>
<polygon points="553.4,165.5 668.8,48.5 568.8,178.8 567.2,178.5 555.0,168.6" fill="#f0f2eb"/>
<polygon points="553.4,165.5 669.7,45.7 568.8,178.8 567.2,178.5 555.0,168.6" fill="#f0f2eb"/>
<polygon points="553.4,165.5 666.1,47.2 568.8,178.8 567.2,178.5 555.0,168.6" fill="#f0f2eb"/>
<polygon points="553.4,165.5 666.2,55.0 568.8,178.8 567.2,178.5 555.0,168.6" fill="#f0f2eb"/>
<polygon points="553.4,165.5 658.8,49.7 568.8,178.8 567.2,178.5 555.0,168.6" fill="#f0f2eb"/>
<polygon points="553.4,165.5 664.0,47.4 568.8,178.8 567.2,178.5 555.0,168.6" fill="#f0f2eb"/>
<polygon points="553.4,165.5 662.0,49.2 568.8,178.8 567.2,178.5 555.0,168.6" fill="#f0f2eb"/>
<polygon points="553.4,165.5 665.8,47.1 568.8,178.8 567.2,178.5 555.0,168.6" fill="#f0f2eb"/>
<polygon points="553.4,165.5 600.5,77.5 572.7,170.6 570.4,175.6 568.8,178.8 567.2,178.5 555.0,168.6" fill="#f0f2eb"/>
<polygon points="553.4,165.5 616.2,121.9 568.8,178.8 567.2,178.5 555.0,168.6" fill="#f0f2eb"/>
<polygon points="553.4,165.5 604.5,85.2 572.7,170.6 570.4,175.6 568.8,178.8 567.2,178.5 555.0,168.6" fill="#f0f2eb"/>
<polygon points="546.8,154.7 578.2,154.7 578.2,185.8 575.2,185.8 546.8,173.4" fill="#f0f2eb"/>
<path d="M553.4 165.5L566.9 171.5M553.4 165.5L567.5 173.1M556.2 167.4L565.9 172.7M555.3 164.9L567.5 173.1M557.2 168.6L569.4 172.5M556.2 167.4L569.4 172.5M553.4 165.5L569.4 172.5M555.3 164.9L568.2 172.3M555.0 168.6L565.9 172.7M555.0 168.6L565.9 172.7M556.8 164.3L567.5 173.1M556.8 164.3L568.8 173.1M556.8 164.3L567.5 173.1M553.4 165.5L566.9 171.5M557.2 168.6L568.8 173.1M557.2 168.6L568.8 173.1M555.0 168.6L569.4 172.5M556.2 167.4L569.4 172.5M567.6 166.5L569.4 172.5M567.6 166.5L570.7 171.7M567.6 166.5L568.8 173.1M567.6 166.5L571.0 173.7M572.7 170.6L568.2 172.3M572.7 170.6L569.4 172.5M572.7 170.6L570.4 175.6" fill="none" stroke="#3a8995" stroke-width="0.6" stroke-opacity="0.7" vector-effect="non-scaling-stroke"/>
</g>
</g>
<polyline points="467.4,217.8 468.8,220.6 467.4,222.4 469.2,225.1 466.0,226.0" fill="none" stroke="#222" stroke-width="0.7" stroke-linejoin="round"/>
<polyline points="465.5,250.7 467.4,250.3 470.1,253.4 471.0,257.1 473.8,261.6 475.6,266.2 477.4,269.9 475.6,274.4 473.8,278.1 472.5,281.7" fill="none" stroke="#222" stroke-width="0.7" stroke-linejoin="round"/>
<polyline points="506.6,281.7 508.4,278.1 512.1,277.2 516.6,275.3 519.4,273.5 523.0,274.4 525.8,276.2 529.4,275.3 533.1,274.1 536.7,272.6 540.4,274.4 544.0,273.5 549.5,270.8 555.0,270.8 556.8,269.5" fill="none" stroke="#222" stroke-width="0.7" stroke-linejoin="round"/>
<circle cx="535.8" cy="200.5" r="2.4" fill="#98d4a0" stroke="#141c16" stroke-width="0.7"/>
<circle cx="532.2" cy="203.2" r="2.4" fill="#98d4a0" stroke="#141c16" stroke-width="0.7"/>
<circle cx="538.5" cy="202.3" r="2.4" fill="#98d4a0" stroke="#141c16" stroke-width="0.7"/>
<circle cx="544.9" cy="201.1" r="2.4" fill="#98d4a0" stroke="#141c16" stroke-width="0.7"/>
<circle cx="535.8" cy="207.3" r="2.4" fill="#98d4a0" stroke="#141c16" stroke-width="0.7"/>
<circle cx="485.6" cy="215.1" r="2.4" fill="#98d4a0" stroke="#141c16" stroke-width="0.7"/>
<circle cx="484.7" cy="218.8" r="2.4" fill="#98d4a0" stroke="#141c16" stroke-width="0.7"/>
<circle cx="490.2" cy="221.5" r="2.4" fill="#98d4a0" stroke="#141c16" stroke-width="0.7"/>
<circle cx="494.7" cy="220.0" r="2.4" fill="#98d4a0" stroke="#141c16" stroke-width="0.7"/>
<circle cx="474.7" cy="228.8" r="2.4" fill="#98d4a0" stroke="#141c16" stroke-width="0.7"/>
<circle cx="479.2" cy="229.7" r="2.4" fill="#98d4a0" stroke="#141c16" stroke-width="0.7"/>
<circle cx="473.2" cy="232.4" r="2.4" fill="#98d4a0" stroke="#141c16" stroke-width="0.7"/>
<circle cx="477.4" cy="238.3" r="2.4" fill="#98d4a0" stroke="#141c16" stroke-width="0.7"/>
<circle cx="475.6" cy="241.2" r="2.4" fill="#98d4a0" stroke="#141c16" stroke-width="0.7"/>
<circle cx="501.1" cy="227.3" r="2.4" fill="#98d4a0" stroke="#141c16" stroke-width="0.7"/>
<circle cx="504.8" cy="227.9" r="2.4" fill="#98d4a0" stroke="#141c16" stroke-width="0.7"/>
<circle cx="512.1" cy="228.8" r="2.4" fill="#98d4a0" stroke="#141c16" stroke-width="0.7"/>
<circle cx="511.2" cy="233.4" r="2.4" fill="#98d4a0" stroke="#141c16" stroke-width="0.7"/>
<circle cx="519.4" cy="231.5" r="2.4" fill="#98d4a0" stroke="#141c16" stroke-width="0.7"/>
<circle cx="532.2" cy="219.7" r="2.4" fill="#98d4a0" stroke="#141c16" stroke-width="0.7"/>
<circle cx="534.0" cy="221.5" r="2.4" fill="#98d4a0" stroke="#141c16" stroke-width="0.7"/>
<circle cx="530.3" cy="223.3" r="2.4" fill="#98d4a0" stroke="#141c16" stroke-width="0.7"/>
<circle cx="535.8" cy="225.1" r="2.4" fill="#98d4a0" stroke="#141c16" stroke-width="0.7"/>
<circle cx="540.0" cy="223.3" r="2.4" fill="#98d4a0" stroke="#141c16" stroke-width="0.7"/>
<circle cx="543.6" cy="216.0" r="2.4" fill="#98d4a0" stroke="#141c16" stroke-width="0.7"/>
<circle cx="548.0" cy="218.8" r="2.4" fill="#98d4a0" stroke="#141c16" stroke-width="0.7"/>
<circle cx="532.2" cy="229.7" r="2.4" fill="#98d4a0" stroke="#141c16" stroke-width="0.7"/>
<circle cx="539.5" cy="232.4" r="2.4" fill="#98d4a0" stroke="#141c16" stroke-width="0.7"/>
<circle cx="525.8" cy="233.4" r="2.4" fill="#98d4a0" stroke="#141c16" stroke-width="0.7"/>
<circle cx="536.7" cy="239.7" r="2.4" fill="#98d4a0" stroke="#141c16" stroke-width="0.7"/>
<circle cx="541.3" cy="244.3" r="2.4" fill="#98d4a0" stroke="#141c16" stroke-width="0.7"/>
<circle cx="542.2" cy="248.0" r="2.4" fill="#98d4a0" stroke="#141c16" stroke-width="0.7"/>
<circle cx="525.8" cy="249.8" r="2.4" fill="#98d4a0" stroke="#141c16" stroke-width="0.7"/>
<circle cx="529.4" cy="252.5" r="2.4" fill="#98d4a0" stroke="#141c16" stroke-width="0.7"/>
<circle cx="536.7" cy="248.9" r="2.4" fill="#98d4a0" stroke="#141c16" stroke-width="0.7"/>
<circle cx="523.9" cy="254.3" r="2.4" fill="#98d4a0" stroke="#141c16" stroke-width="0.7"/>
<circle cx="528.5" cy="257.1" r="2.4" fill="#98d4a0" stroke="#141c16" stroke-width="0.7"/>
<circle cx="538.5" cy="258.9" r="2.4" fill="#98d4a0" stroke="#141c16" stroke-width="0.7"/>
<circle cx="533.1" cy="263.5" r="2.4" fill="#98d4a0" stroke="#141c16" stroke-width="0.7"/>
<circle cx="530.3" cy="266.2" r="2.4" fill="#98d4a0" stroke="#141c16" stroke-width="0.7"/>
<circle cx="515.7" cy="263.8" r="2.4" fill="#98d4a0" stroke="#141c16" stroke-width="0.7"/>
<circle cx="549.5" cy="266.8" r="2.4" fill="#98d4a0" stroke="#141c16" stroke-width="0.7"/>
<circle cx="530.7" cy="274.1" r="2.4" fill="#98d4a0" stroke="#141c16" stroke-width="0.7"/>
<circle cx="523.9" cy="239.7" r="2.4" fill="#98d4a0" stroke="#141c16" stroke-width="0.7"/>
<circle cx="494.7" cy="236.1" r="2.4" fill="#98d4a0" stroke="#141c16" stroke-width="0.7"/>
<circle cx="528.0" cy="236.0" r="2.4" fill="#98d4a0" stroke="#141c16" stroke-width="0.7"/>
<circle cx="532.0" cy="246.0" r="2.4" fill="#98d4a0" stroke="#141c16" stroke-width="0.7"/>
<circle cx="521.0" cy="244.0" r="2.4" fill="#98d4a0" stroke="#141c16" stroke-width="0.7"/>
<circle cx="512.0" cy="229.5" r="2.4" fill="#a8dcdc" stroke="#141c16" stroke-width="0.7"/>
<circle cx="513.5" cy="226.5" r="2.4" fill="#a8dcdc" stroke="#141c16" stroke-width="0.7"/>
<circle cx="523.5" cy="241.5" r="2.4" fill="#8a6db0" stroke="#141c16" stroke-width="0.7"/>
<circle cx="526.8" cy="242.2" r="2.4" fill="#8a6db0" stroke="#141c16" stroke-width="0.7"/>
<circle cx="530.2" cy="242.8" r="2.4" fill="#8a6db0" stroke="#141c16" stroke-width="0.7"/>
<circle cx="533.5" cy="242.0" r="2.4" fill="#8a6db0" stroke="#141c16" stroke-width="0.7"/>
<circle cx="528.6" cy="244.8" r="2.4" fill="#8a6db0" stroke="#141c16" stroke-width="0.7"/>
<circle cx="532.5" cy="244.6" r="2.4" fill="#8a6db0" stroke="#141c16" stroke-width="0.7"/>
<circle cx="536.8" cy="243.2" r="2.4" fill="#8a6db0" stroke="#141c16" stroke-width="0.7"/>
<circle cx="484.7" cy="223.3" r="2.4" fill="#8a6db0" stroke="#141c16" stroke-width="0.7"/>
<circle cx="492.9" cy="228.8" r="2.4" fill="#8a6db0" stroke="#141c16" stroke-width="0.7"/>
<circle cx="495.7" cy="232.4" r="2.4" fill="#8a6db0" stroke="#141c16" stroke-width="0.7"/>
<circle cx="489.3" cy="232.4" r="2.4" fill="#8a6db0" stroke="#141c16" stroke-width="0.7"/>
<circle cx="526.1" cy="226.1" r="2.4" fill="#8a6db0" stroke="#141c16" stroke-width="0.7"/>
<circle cx="523.9" cy="240.7" r="2.4" fill="#8a6db0" stroke="#141c16" stroke-width="0.7"/>
<circle cx="527.6" cy="243.0" r="2.4" fill="#8a6db0" stroke="#141c16" stroke-width="0.7"/>
<circle cx="531.2" cy="243.4" r="2.4" fill="#8a6db0" stroke="#141c16" stroke-width="0.7"/>
<circle cx="534.9" cy="241.2" r="2.4" fill="#8a6db0" stroke="#141c16" stroke-width="0.7"/>
<circle cx="540.9" cy="237.9" r="2.4" fill="#8a6db0" stroke="#141c16" stroke-width="0.7"/>
<circle cx="525.8" cy="245.2" r="2.4" fill="#8a6db0" stroke="#141c16" stroke-width="0.7"/>
<circle cx="529.4" cy="245.2" r="2.4" fill="#8a6db0" stroke="#141c16" stroke-width="0.7"/>
<circle cx="534.0" cy="252.5" r="2.4" fill="#8a6db0" stroke="#141c16" stroke-width="0.7"/>
<circle cx="524.9" cy="260.7" r="2.4" fill="#8a6db0" stroke="#141c16" stroke-width="0.7"/>
<circle cx="529.4" cy="261.6" r="2.4" fill="#8a6db0" stroke="#141c16" stroke-width="0.7"/>
<rect x="465.5" y="192.3" width="91.3" height="89.4" fill="none" stroke="#222" stroke-width="1.1"/>
</g>
<!--MAP-->
</svg></body></html>
